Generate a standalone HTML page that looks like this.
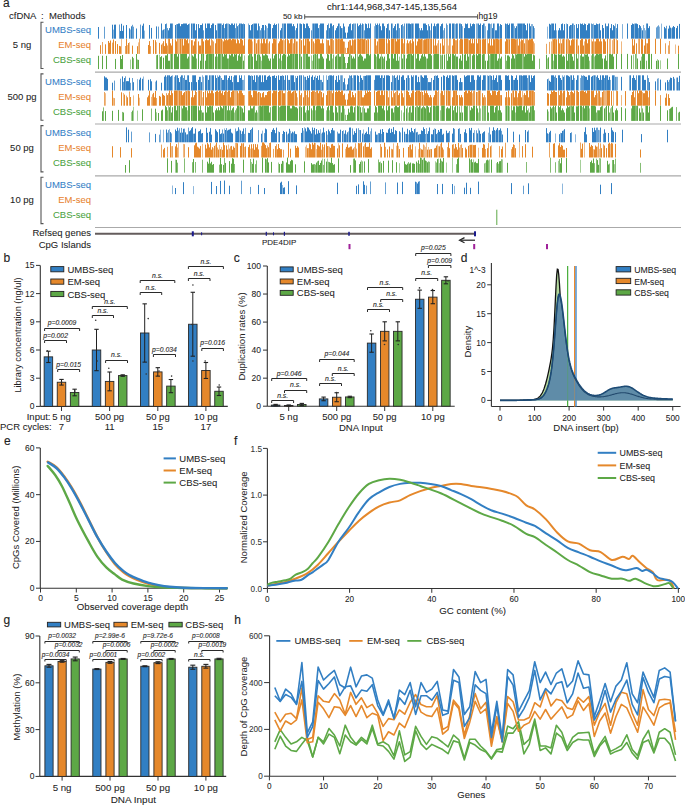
<!DOCTYPE html>
<html><head><meta charset="utf-8"><style>
html,body{margin:0;padding:0;background:#fff;}
body{width:685px;height:805px;overflow:hidden;}
svg{display:block;font-family:"Liberation Sans",sans-serif;}
</style></head><body>
<svg width="685" height="805" viewBox="0 0 685 805">
<rect width="685" height="805" fill="#fff"/>
<text x="3.10" y="6.90" font-size="12" text-anchor="start" fill="#222" stroke="#222" stroke-width="0.12">a</text>
<text x="9.00" y="19.30" font-size="9.5" text-anchor="start" fill="#222"  stroke="#222" stroke-width="0.06">cfDNA</text>
<text x="42.30" y="19.30" font-size="9.5" text-anchor="middle" fill="#222"  stroke="#222" stroke-width="0.06">:</text>
<text x="49.00" y="19.30" font-size="9.5" text-anchor="start" fill="#222"  stroke="#222" stroke-width="0.06">Methods</text>
<text x="392.00" y="10.40" font-size="9.5" text-anchor="middle" fill="#222"  stroke="#222" stroke-width="0.06">chr1:144,968,347-145,135,564</text>
<text x="302.50" y="18.80" font-size="8" text-anchor="end" fill="#222"  stroke="#222" stroke-width="0.06">50 kb</text>
<line x1="304.70" y1="16.80" x2="477.60" y2="16.80" stroke="#555" stroke-width="1.2" />
<line x1="304.70" y1="14.30" x2="304.70" y2="19.30" stroke="#555" stroke-width="1" />
<line x1="477.60" y1="14.30" x2="477.60" y2="19.30" stroke="#555" stroke-width="1" />
<text x="478.50" y="18.80" font-size="8.5" text-anchor="start" fill="#222"  stroke="#222" stroke-width="0.06">hg19</text>
<text x="22.00" y="47.90" font-size="9.5" text-anchor="middle" fill="#222"  stroke="#222" stroke-width="0.06">5 ng</text>
<path d="M43.5,22.20 H41 V68.50 H43.5" stroke="#555" stroke-width="1.1" fill="none" />
<text x="91.00" y="32.80" font-size="9.5" text-anchor="end" fill="#3480c6"  stroke="#3480c6" stroke-width="0.06">UMBS-seq</text>
<text x="91.00" y="47.90" font-size="9.5" text-anchor="end" fill="#e8832f"  stroke="#e8832f" stroke-width="0.06">EM-seq</text>
<text x="91.00" y="63.00" font-size="9.5" text-anchor="end" fill="#4aa23e"  stroke="#4aa23e" stroke-width="0.06">CBS-seq</text>
<line x1="95.00" y1="72.20" x2="681.00" y2="72.20" stroke="#aaa" stroke-width="1.2" />
<text x="22.00" y="99.60" font-size="9.5" text-anchor="middle" fill="#222"  stroke="#222" stroke-width="0.06">500 pg</text>
<path d="M43.5,73.90 H41 V120.20 H43.5" stroke="#555" stroke-width="1.1" fill="none" />
<text x="91.00" y="84.50" font-size="9.5" text-anchor="end" fill="#3480c6"  stroke="#3480c6" stroke-width="0.06">UMBS-seq</text>
<text x="91.00" y="99.60" font-size="9.5" text-anchor="end" fill="#e8832f"  stroke="#e8832f" stroke-width="0.06">EM-seq</text>
<text x="91.00" y="114.70" font-size="9.5" text-anchor="end" fill="#4aa23e"  stroke="#4aa23e" stroke-width="0.06">CBS-seq</text>
<line x1="95.00" y1="124.00" x2="681.00" y2="124.00" stroke="#aaa" stroke-width="1.2" />
<text x="22.00" y="151.30" font-size="9.5" text-anchor="middle" fill="#222"  stroke="#222" stroke-width="0.06">50 pg</text>
<path d="M43.5,125.60 H41 V171.90 H43.5" stroke="#555" stroke-width="1.1" fill="none" />
<text x="91.00" y="136.20" font-size="9.5" text-anchor="end" fill="#3480c6"  stroke="#3480c6" stroke-width="0.06">UMBS-seq</text>
<text x="91.00" y="151.30" font-size="9.5" text-anchor="end" fill="#e8832f"  stroke="#e8832f" stroke-width="0.06">EM-seq</text>
<text x="91.00" y="166.40" font-size="9.5" text-anchor="end" fill="#4aa23e"  stroke="#4aa23e" stroke-width="0.06">CBS-seq</text>
<line x1="95.00" y1="175.80" x2="681.00" y2="175.80" stroke="#aaa" stroke-width="1.2" />
<text x="22.00" y="203.00" font-size="9.5" text-anchor="middle" fill="#222"  stroke="#222" stroke-width="0.06">10 pg</text>
<path d="M43.5,177.30 H41 V223.60 H43.5" stroke="#555" stroke-width="1.1" fill="none" />
<text x="91.00" y="187.90" font-size="9.5" text-anchor="end" fill="#3480c6"  stroke="#3480c6" stroke-width="0.06">UMBS-seq</text>
<text x="91.00" y="203.00" font-size="9.5" text-anchor="end" fill="#e8832f"  stroke="#e8832f" stroke-width="0.06">EM-seq</text>
<text x="91.00" y="218.10" font-size="9.5" text-anchor="end" fill="#4aa23e"  stroke="#4aa23e" stroke-width="0.06">CBS-seq</text>
<line x1="95.00" y1="227.50" x2="681.00" y2="227.50" stroke="#aaa" stroke-width="1.1" />
<path d="M98.5 38.7V27.0M112.5 38.7V24.7M114.5 38.7V24.7M115.5 38.7V24.6M120.5 38.7V31.0M121.5 38.7V23.8M122.5 38.7V30.9M123.5 38.7V25.6M126.5 38.7V25.0M129.5 38.7V28.3M131.5 38.7V26.3M136.5 38.7V28.5M142.5 38.7V25.7M143.5 38.7V23.6M149.5 38.7V25.0M151.5 38.7V27.9M156.5 38.7V26.4M161.5 38.7V23.5M163.5 38.7V29.6M165.5 38.7V24.1M168.5 38.7V30.3M169.5 38.7V28.1M170.5 38.7V23.5M171.5 38.7V23.5M175.5 38.7V25.0M177.5 38.7V24.1M178.5 38.7V23.5M179.5 38.7V23.5M180.5 38.7V26.2M181.5 38.7V24.1M182.5 38.7V24.1M183.5 38.7V23.5M184.5 38.7V23.5M185.5 38.7V23.5M186.5 38.7V23.5M187.5 38.7V25.0M188.5 38.7V24.1M191.5 38.7V23.5M193.5 38.7V23.5M194.5 38.7V23.5M195.5 38.7V30.3M196.5 38.7V24.1M198.5 38.7V24.1M199.5 38.7V28.1M200.5 38.7V25.0M201.5 38.7V25.0M202.5 38.7V23.5M205.5 38.7V23.5M206.5 38.7V28.1M207.5 38.7V23.5M208.5 38.7V23.5M209.5 38.7V23.5M210.5 38.7V28.1M211.5 38.7V25.0M212.5 38.7V23.5M213.5 38.7V23.5M215.5 38.7V25.0M216.5 38.7V30.3M218.5 38.7V23.5M219.5 38.7V23.5M220.5 38.7V23.5M222.5 38.7V25.0M223.5 38.7V23.5M225.5 38.7V24.1M226.5 38.7V23.5M229.5 38.7V24.1M230.5 38.7V25.0M231.5 38.7V23.5M232.5 38.7V23.5M233.5 38.7V25.0M234.5 38.7V23.5M237.5 38.7V26.2M239.5 38.7V23.5M241.5 38.7V23.5M242.5 38.7V24.1M244.5 38.7V24.1M249.5 38.7V25.0M250.5 38.7V30.3M251.5 38.7V25.0M252.5 38.7V24.1M254.5 38.7V23.5M255.5 38.7V23.5M256.5 38.7V23.5M257.5 38.7V30.3M258.5 38.7V23.5M262.5 38.7V25.0M263.5 38.7V25.0M265.5 38.7V25.0M268.5 38.7V23.5M269.5 38.7V23.5M270.5 38.7V24.1M272.5 38.7V28.1M273.5 38.7V25.0M274.5 38.7V23.5M275.5 38.7V25.0M276.5 38.7V24.1M280.5 38.7V30.3M281.5 38.7V28.1M284.5 38.7V23.5M285.5 38.7V23.5M287.5 38.7V23.5M288.5 38.7V23.5M289.5 38.7V23.5M290.5 38.7V23.5M291.5 38.7V23.5M292.5 38.7V26.2M293.5 38.7V24.1M294.5 38.7V26.2M296.5 38.7V28.1M297.5 38.7V23.5M300.5 38.7V23.5M301.5 38.7V24.1M303.5 38.7V23.5M304.5 38.7V24.1M305.5 38.7V28.1M306.5 38.7V23.5M307.5 38.7V23.5M308.5 38.7V26.2M309.5 38.7V28.1M313.5 38.7V23.5M315.5 38.7V23.5M316.5 38.7V23.5M317.5 38.7V23.5M318.5 38.7V28.1M320.5 38.7V23.5M321.5 38.7V23.5M322.5 38.7V23.5M323.5 38.7V23.5M327.5 38.7V25.0M329.5 38.7V28.1M330.5 38.7V23.5M331.5 38.7V23.5M333.5 38.7V25.0M335.5 38.7V30.3M336.5 38.7V28.1M337.5 38.7V26.2M338.5 38.7V23.5M340.5 38.7V26.2M341.5 38.7V28.1M343.5 38.7V23.5M344.5 38.7V26.5M345.5 38.7V32.6M347.5 38.7V32.6M348.5 38.7V26.5M349.5 38.7V24.1M350.5 38.7V23.5M351.5 38.7V30.3M352.5 38.7V24.1M357.5 38.7V23.5M358.5 38.7V26.2M359.5 38.7V25.0M360.5 38.7V23.5M362.5 38.7V23.5M365.5 38.7V23.5M366.5 38.7V24.1M367.5 38.7V28.1M368.5 38.7V23.5M369.5 38.7V28.1M370.5 38.7V23.5M376.5 38.7V25.0M377.5 38.7V23.5M379.5 38.7V23.5M380.5 38.7V26.2M381.5 38.7V30.3M382.5 38.7V23.5M383.5 38.7V23.5M384.5 38.7V26.2M386.5 38.7V28.1M387.5 38.7V24.1M389.5 38.7V30.3M391.5 38.7V23.5M393.5 38.7V28.1M394.5 38.7V26.2M395.5 38.7V24.1M397.5 38.7V23.5M401.5 38.7V25.0M406.5 38.7V23.5M408.5 38.7V23.5M409.5 38.7V23.5M410.5 38.7V24.1M412.5 38.7V23.5M415.5 38.7V23.5M416.5 38.7V23.5M417.5 38.7V23.5M418.5 38.7V23.5M420.5 38.7V30.3M421.5 38.7V28.1M422.5 38.7V30.3M423.5 38.7V23.5M424.5 38.7V23.5M425.5 38.7V23.5M426.5 38.7V25.0M427.5 38.7V30.3M429.5 38.7V26.2M431.5 38.7V23.5M433.5 38.7V26.2M434.5 38.7V23.5M435.5 38.7V26.2M437.5 38.7V23.5M438.5 38.7V23.5M440.5 38.7V26.2M441.5 38.7V24.1M442.5 38.7V23.5M449.5 38.7V23.5M450.5 38.7V23.5M452.5 38.7V23.5M453.5 38.7V23.5M456.5 38.7V23.5M459.5 38.7V23.5M461.5 38.7V24.1M464.5 38.7V28.1M465.5 38.7V23.5M466.5 38.7V24.1M467.5 38.7V23.5M468.5 38.7V28.1M469.5 38.7V28.1M470.5 38.7V23.5M471.5 38.7V26.2M472.5 38.7V24.1M473.5 38.7V23.5M474.5 38.7V24.1M478.5 38.7V23.5M479.5 38.7V25.0M480.5 38.7V23.5M482.5 38.7V25.0M483.5 38.7V23.5M488.5 38.7V23.5M489.5 38.7V23.5M492.5 38.7V28.1M493.5 38.7V23.5M495.5 38.7V30.3M496.5 38.7V30.3M497.5 38.7V23.5M498.5 38.7V23.5M500.5 38.7V24.1M501.5 38.7V25.0M505.5 38.7V23.5M507.5 38.7V23.5M508.5 38.7V25.0M509.5 38.7V23.5M511.5 38.7V23.5M512.5 38.7V23.5M515.5 38.7V28.1M516.5 38.7V26.2M518.5 38.7V23.5M519.5 38.7V23.5M520.5 38.7V23.5M521.5 38.7V23.5M523.5 38.7V23.5M524.5 38.7V23.5M525.5 38.7V25.0M526.5 38.7V30.3M527.5 38.7V23.5M529.5 38.7V23.5M530.5 38.7V26.2M533.5 38.7V26.2M549.5 38.7V23.8M550.5 38.7V24.7M552.5 38.7V23.5M553.5 38.7V23.5M554.5 38.7V30.3M555.5 38.7V23.5M558.5 38.7V30.3M559.5 38.7V28.1M560.5 38.7V30.3M561.5 38.7V24.1M562.5 38.7V23.5M563.5 38.7V30.3M564.5 38.7V24.1M567.5 38.7V24.1M569.5 38.7V26.2M570.5 38.7V25.0M572.5 38.7V23.5M576.5 38.7V24.1M577.5 38.7V28.1M578.5 38.7V24.1M580.5 38.7V23.5M581.5 38.7V24.1M582.5 38.7V23.5M583.5 38.7V25.0M584.5 38.7V23.5M585.5 38.7V24.1M586.5 38.7V30.3M587.5 38.7V25.0M588.5 38.7V23.5M589.5 38.7V23.5M594.5 38.7V25.0M595.5 38.7V25.0M596.5 38.7V23.5M597.5 38.7V24.1M599.5 38.7V23.5M600.5 38.7V30.3M602.5 38.7V25.0M603.5 38.7V28.1M605.5 38.7V23.5M607.5 38.7V26.2M608.5 38.7V23.5M610.5 38.7V28.1M611.5 38.7V24.1M612.5 38.7V30.3M613.5 38.7V25.0M614.5 38.7V26.2M617.5 38.7V24.1M627.5 38.7V23.5M631.5 38.7V25.0M632.5 38.7V23.5M633.5 38.7V24.1M635.5 38.7V23.5M636.5 38.7V23.5M637.5 38.7V24.1M639.5 38.7V25.0M640.5 38.7V26.2M642.5 38.7V30.3M647.5 38.7V23.5M648.5 38.7V28.1M649.5 38.7V26.2M664.5 38.7V26.9M665.5 38.7V28.3M668.5 38.7V28.6M669.5 38.7V25.6M670.5 38.7V27.6M672.5 38.7V27.4M673.5 38.7V26.0M674.5 38.7V27.0M676.5 38.7V28.1M677.5 38.7V25.9M679.5 38.7V23.9" stroke="#327fc3" stroke-width="1" opacity="1"/><path d="M104.5 38.7V26.7M119.5 38.7V24.5M132.5 38.7V24.8M133.5 38.7V26.7M140.5 38.7V24.6M158.5 38.7V26.6M162.5 38.7V30.3M346.5 38.7V37.9M656.5 38.7V27.4M657.5 38.7V26.3M658.5 38.7V25.3M666.5 38.7V25.8" stroke="#327fc3" stroke-width="1" opacity="0.75"/><path d="M113.5 38.7V29.6M130.5 38.7V29.5M144.5 38.7V30.6M164.5 38.7V29.1M547.5 38.7V26.6M659.5 38.7V26.7M661.5 38.7V23.6M671.5 38.7V28.3" stroke="#327fc3" stroke-width="1" opacity="0.55"/><path d="M166.5 38.7V23.5M167.5 38.7V28.1M172.5 38.7V23.5M203.5 38.7V30.3M224.5 38.7V28.1M235.5 38.7V28.1M236.5 38.7V23.5M240.5 38.7V23.5M243.5 38.7V23.5M259.5 38.7V26.2M260.5 38.7V30.3M261.5 38.7V28.1M278.5 38.7V23.5M282.5 38.7V23.5M311.5 38.7V30.3M314.5 38.7V23.5M326.5 38.7V30.3M328.5 38.7V23.5M332.5 38.7V26.2M353.5 38.7V23.5M355.5 38.7V23.5M364.5 38.7V30.3M375.5 38.7V23.5M388.5 38.7V23.5M396.5 38.7V30.3M398.5 38.7V23.5M399.5 38.7V28.1M402.5 38.7V24.1M404.5 38.7V23.5M411.5 38.7V23.5M419.5 38.7V28.1M428.5 38.7V24.1M436.5 38.7V24.1M444.5 38.7V28.1M446.5 38.7V23.5M457.5 38.7V23.5M460.5 38.7V23.5M487.5 38.7V30.3M506.5 38.7V24.1M513.5 38.7V23.5M522.5 38.7V23.5M551.5 38.7V23.5M571.5 38.7V25.0M574.5 38.7V25.0M591.5 38.7V23.5M592.5 38.7V24.1M606.5 38.7V26.2M616.5 38.7V28.1M638.5 38.7V28.1M646.5 38.7V23.5" stroke="#327fc3" stroke-width="1" opacity="0.8"/><path d="M176.5 38.7V24.1M189.5 38.7V23.5M192.5 38.7V23.5M217.5 38.7V23.5M221.5 38.7V23.5M227.5 38.7V23.5M228.5 38.7V23.5M238.5 38.7V25.0M248.5 38.7V23.5M253.5 38.7V23.5M264.5 38.7V30.3M266.5 38.7V26.2M267.5 38.7V28.1M283.5 38.7V23.5M295.5 38.7V30.3M299.5 38.7V23.5M312.5 38.7V23.5M319.5 38.7V25.0M339.5 38.7V23.5M342.5 38.7V28.1M354.5 38.7V23.5M361.5 38.7V25.0M363.5 38.7V24.1M374.5 38.7V26.2M378.5 38.7V25.0M392.5 38.7V23.5M403.5 38.7V26.2M407.5 38.7V23.5M413.5 38.7V23.5M430.5 38.7V30.3M443.5 38.7V30.3M447.5 38.7V25.0M454.5 38.7V23.5M455.5 38.7V24.1M462.5 38.7V26.2M476.5 38.7V23.5M477.5 38.7V23.5M484.5 38.7V23.5M485.5 38.7V26.2M490.5 38.7V24.1M491.5 38.7V23.5M494.5 38.7V23.5M499.5 38.7V26.2M514.5 38.7V26.2M517.5 38.7V23.5M531.5 38.7V24.1M532.5 38.7V24.1M534.5 38.7V28.1M556.5 38.7V30.3M566.5 38.7V23.5M573.5 38.7V23.5M593.5 38.7V23.5M598.5 38.7V24.1M615.5 38.7V23.5M622.5 38.7V24.1M634.5 38.7V23.5M641.5 38.7V28.1M643.5 38.7V25.0M644.5 38.7V28.1M645.5 38.7V30.3" stroke="#327fc3" stroke-width="1" opacity="0.6"/>
<path d="M100.5 53.9V45.2M105.5 53.9V44.3M108.5 53.9V41.0M109.5 53.9V42.8M110.5 53.9V40.5M113.5 53.9V39.5M115.5 53.9V41.1M117.5 53.9V44.1M119.5 53.9V45.9M120.5 53.9V46.3M126.5 53.9V39.0M128.5 53.9V43.0M132.5 53.9V45.6M137.5 53.9V46.2M148.5 53.9V45.0M149.5 53.9V41.1M153.5 53.9V40.0M155.5 53.9V40.2M159.5 53.9V42.9M161.5 53.9V44.6M163.5 53.9V41.2M164.5 53.9V46.1M165.5 53.9V38.7M166.5 53.9V43.3M169.5 53.9V38.7M170.5 53.9V43.3M171.5 53.9V45.5M172.5 53.9V38.7M175.5 53.9V39.3M176.5 53.9V41.4M180.5 53.9V38.7M182.5 53.9V38.7M183.5 53.9V45.5M184.5 53.9V38.7M185.5 53.9V38.7M186.5 53.9V40.2M187.5 53.9V38.7M188.5 53.9V43.3M191.5 53.9V40.2M193.5 53.9V45.5M194.5 53.9V41.4M195.5 53.9V38.7M198.5 53.9V41.4M199.5 53.9V45.5M200.5 53.9V45.5M202.5 53.9V38.7M203.5 53.9V41.4M205.5 53.9V40.2M206.5 53.9V38.7M207.5 53.9V40.2M208.5 53.9V40.2M209.5 53.9V38.7M210.5 53.9V45.5M215.5 53.9V43.3M216.5 53.9V38.7M218.5 53.9V38.7M219.5 53.9V38.7M221.5 53.9V38.7M223.5 53.9V41.4M224.5 53.9V38.7M225.5 53.9V40.2M226.5 53.9V38.7M227.5 53.9V40.2M228.5 53.9V39.3M229.5 53.9V38.7M230.5 53.9V38.7M231.5 53.9V40.2M232.5 53.9V38.7M233.5 53.9V38.7M234.5 53.9V39.3M235.5 53.9V39.3M236.5 53.9V43.3M237.5 53.9V38.7M238.5 53.9V40.2M239.5 53.9V43.3M240.5 53.9V38.7M241.5 53.9V38.7M242.5 53.9V40.2M243.5 53.9V45.5M244.5 53.9V38.7M248.5 53.9V39.3M249.5 53.9V38.7M250.5 53.9V39.3M251.5 53.9V39.3M254.5 53.9V38.7M256.5 53.9V43.3M258.5 53.9V39.3M261.5 53.9V38.7M262.5 53.9V43.3M263.5 53.9V38.7M264.5 53.9V38.7M265.5 53.9V43.3M266.5 53.9V39.3M269.5 53.9V41.4M272.5 53.9V43.3M273.5 53.9V38.7M274.5 53.9V38.7M275.5 53.9V39.3M278.5 53.9V43.3M279.5 53.9V41.4M280.5 53.9V38.7M281.5 53.9V38.7M282.5 53.9V40.2M285.5 53.9V38.7M287.5 53.9V38.7M288.5 53.9V40.2M289.5 53.9V43.3M290.5 53.9V39.3M291.5 53.9V38.7M294.5 53.9V38.7M296.5 53.9V41.4M299.5 53.9V38.7M301.5 53.9V40.2M303.5 53.9V38.7M304.5 53.9V45.5M305.5 53.9V38.7M307.5 53.9V38.7M308.5 53.9V38.7M309.5 53.9V41.4M311.5 53.9V38.7M313.5 53.9V41.4M315.5 53.9V38.7M316.5 53.9V39.3M317.5 53.9V38.7M318.5 53.9V38.7M319.5 53.9V39.3M320.5 53.9V43.3M321.5 53.9V43.3M322.5 53.9V39.3M323.5 53.9V43.3M328.5 53.9V40.2M329.5 53.9V45.5M331.5 53.9V38.7M336.5 53.9V38.7M338.5 53.9V38.7M340.5 53.9V39.3M341.5 53.9V38.7M342.5 53.9V38.7M343.5 53.9V41.4M346.5 53.9V53.1M347.5 53.9V47.8M348.5 53.9V41.7M350.5 53.9V40.2M351.5 53.9V45.5M352.5 53.9V39.3M354.5 53.9V39.3M355.5 53.9V39.3M358.5 53.9V38.7M359.5 53.9V39.3M360.5 53.9V38.7M362.5 53.9V38.7M363.5 53.9V39.3M364.5 53.9V38.7M366.5 53.9V40.2M368.5 53.9V39.3M375.5 53.9V38.7M377.5 53.9V41.4M379.5 53.9V38.7M380.5 53.9V38.7M381.5 53.9V38.7M382.5 53.9V38.7M383.5 53.9V38.7M384.5 53.9V38.7M386.5 53.9V38.7M388.5 53.9V38.7M389.5 53.9V40.2M391.5 53.9V38.7M392.5 53.9V38.7M393.5 53.9V38.7M395.5 53.9V38.7M396.5 53.9V41.4M397.5 53.9V38.7M398.5 53.9V39.3M399.5 53.9V38.7M401.5 53.9V38.7M402.5 53.9V38.7M404.5 53.9V38.7M407.5 53.9V40.2M408.5 53.9V43.3M410.5 53.9V40.2M412.5 53.9V38.7M413.5 53.9V41.4M415.5 53.9V38.7M416.5 53.9V45.5M417.5 53.9V41.4M418.5 53.9V38.7M419.5 53.9V38.7M420.5 53.9V39.3M421.5 53.9V38.7M424.5 53.9V39.3M425.5 53.9V39.3M426.5 53.9V38.7M428.5 53.9V38.7M431.5 53.9V38.7M433.5 53.9V38.7M435.5 53.9V38.7M436.5 53.9V45.5M440.5 53.9V43.3M442.5 53.9V38.7M443.5 53.9V45.5M452.5 53.9V45.5M453.5 53.9V38.7M454.5 53.9V38.7M457.5 53.9V38.7M460.5 53.9V38.7M461.5 53.9V38.7M462.5 53.9V39.3M464.5 53.9V38.7M465.5 53.9V38.7M466.5 53.9V38.7M467.5 53.9V38.7M469.5 53.9V40.2M470.5 53.9V38.7M471.5 53.9V43.3M472.5 53.9V38.7M473.5 53.9V43.3M474.5 53.9V38.7M476.5 53.9V38.7M477.5 53.9V43.3M478.5 53.9V38.7M480.5 53.9V39.3M482.5 53.9V39.3M483.5 53.9V38.7M484.5 53.9V39.3M485.5 53.9V38.7M488.5 53.9V43.3M489.5 53.9V38.7M490.5 53.9V45.5M491.5 53.9V38.7M492.5 53.9V45.5M493.5 53.9V38.7M494.5 53.9V39.3M496.5 53.9V38.7M497.5 53.9V38.7M498.5 53.9V39.3M500.5 53.9V38.7M501.5 53.9V38.7M505.5 53.9V41.4M506.5 53.9V38.7M507.5 53.9V39.3M509.5 53.9V39.3M511.5 53.9V38.7M512.5 53.9V38.7M513.5 53.9V38.7M514.5 53.9V38.7M515.5 53.9V39.3M518.5 53.9V45.5M519.5 53.9V38.7M521.5 53.9V39.3M522.5 53.9V40.2M524.5 53.9V43.3M528.5 53.9V40.2M529.5 53.9V38.7M530.5 53.9V39.3M531.5 53.9V38.7M532.5 53.9V38.7M553.5 53.9V39.3M554.5 53.9V38.7M556.5 53.9V39.3M558.5 53.9V38.7M559.5 53.9V43.3M561.5 53.9V43.3M563.5 53.9V38.7M566.5 53.9V39.3M569.5 53.9V40.2M570.5 53.9V45.5M571.5 53.9V40.2M572.5 53.9V38.7M573.5 53.9V39.3M576.5 53.9V39.3M578.5 53.9V45.5M580.5 53.9V40.2M581.5 53.9V38.7M582.5 53.9V38.7M583.5 53.9V45.5M585.5 53.9V38.7M586.5 53.9V39.3M587.5 53.9V43.3M588.5 53.9V39.3M589.5 53.9V38.7M592.5 53.9V41.4M595.5 53.9V41.4M596.5 53.9V38.7M597.5 53.9V38.7M598.5 53.9V38.7M599.5 53.9V41.4M600.5 53.9V38.7M601.5 53.9V41.4M603.5 53.9V38.7M604.5 53.9V39.3M605.5 53.9V41.4M607.5 53.9V38.7M614.5 53.9V38.7M617.5 53.9V40.2M632.5 53.9V38.7M633.5 53.9V45.5M634.5 53.9V39.3M636.5 53.9V43.3M641.5 53.9V38.7M642.5 53.9V39.3M644.5 53.9V45.5M645.5 53.9V38.7M647.5 53.9V43.3M648.5 53.9V38.7M649.5 53.9V38.7M655.5 53.9V38.7M660.5 53.9V38.7M678.5 53.9V45.7" stroke="#e5882b" stroke-width="1" opacity="1"/><path d="M102.5 53.9V42.0M112.5 53.9V42.6M125.5 53.9V46.0M139.5 53.9V38.7M150.5 53.9V46.1M162.5 53.9V43.3M344.5 53.9V41.7M345.5 53.9V47.8M546.5 53.9V43.8M549.5 53.9V41.9M668.5 53.9V45.4M669.5 53.9V41.0" stroke="#e5882b" stroke-width="1" opacity="0.75"/><path d="M121.5 53.9V39.1M127.5 53.9V45.1M129.5 53.9V42.2M138.5 53.9V42.4M156.5 53.9V42.2M675.5 53.9V44.5" stroke="#e5882b" stroke-width="1" opacity="0.55"/><path d="M167.5 53.9V45.5M168.5 53.9V38.7M177.5 53.9V38.7M192.5 53.9V40.2M201.5 53.9V38.7M211.5 53.9V38.7M212.5 53.9V40.2M213.5 53.9V41.4M217.5 53.9V38.7M220.5 53.9V38.7M267.5 53.9V38.7M293.5 53.9V43.3M326.5 53.9V39.3M327.5 53.9V40.2M330.5 53.9V38.7M332.5 53.9V38.7M333.5 53.9V40.2M335.5 53.9V38.7M337.5 53.9V39.3M339.5 53.9V38.7M349.5 53.9V40.2M353.5 53.9V40.2M357.5 53.9V38.7M361.5 53.9V38.7M370.5 53.9V38.7M374.5 53.9V38.7M376.5 53.9V45.5M403.5 53.9V43.3M409.5 53.9V41.4M411.5 53.9V43.3M423.5 53.9V40.2M427.5 53.9V38.7M430.5 53.9V38.7M434.5 53.9V45.5M438.5 53.9V40.2M444.5 53.9V38.7M449.5 53.9V38.7M455.5 53.9V40.2M456.5 53.9V40.2M479.5 53.9V38.7M495.5 53.9V38.7M516.5 53.9V39.3M517.5 53.9V38.7M523.5 53.9V38.7M526.5 53.9V39.3M527.5 53.9V38.7M533.5 53.9V41.4M555.5 53.9V38.7M562.5 53.9V39.3M568.5 53.9V38.7M574.5 53.9V38.7M593.5 53.9V38.7M639.5 53.9V38.7M665.5 53.9V43.3" stroke="#e5882b" stroke-width="1" opacity="0.8"/><path d="M178.5 53.9V38.7M179.5 53.9V38.7M181.5 53.9V38.7M189.5 53.9V39.3M196.5 53.9V38.7M222.5 53.9V40.2M252.5 53.9V41.4M255.5 53.9V39.3M257.5 53.9V40.2M259.5 53.9V39.3M260.5 53.9V43.3M268.5 53.9V43.3M276.5 53.9V38.7M283.5 53.9V39.3M284.5 53.9V40.2M292.5 53.9V38.7M295.5 53.9V39.3M297.5 53.9V41.4M300.5 53.9V38.7M306.5 53.9V38.7M312.5 53.9V38.7M314.5 53.9V43.3M365.5 53.9V38.7M367.5 53.9V38.7M378.5 53.9V38.7M387.5 53.9V43.3M394.5 53.9V38.7M406.5 53.9V43.3M422.5 53.9V38.7M429.5 53.9V38.7M437.5 53.9V43.3M446.5 53.9V38.7M447.5 53.9V38.7M448.5 53.9V45.5M450.5 53.9V38.7M459.5 53.9V40.2M468.5 53.9V39.3M487.5 53.9V38.7M499.5 53.9V39.3M508.5 53.9V38.7M520.5 53.9V41.4M525.5 53.9V38.7M534.5 53.9V43.3M551.5 53.9V41.4M552.5 53.9V38.7M560.5 53.9V38.7M564.5 53.9V38.7M567.5 53.9V38.7M577.5 53.9V38.7M584.5 53.9V41.4M591.5 53.9V39.3M594.5 53.9V41.4M609.5 53.9V38.7M610.5 53.9V38.7M612.5 53.9V40.2M613.5 53.9V38.7M616.5 53.9V38.7M621.5 53.9V41.4M638.5 53.9V38.7M646.5 53.9V43.3" stroke="#e5882b" stroke-width="1" opacity="0.6"/>
<path d="M98.5 69.1V55.8M102.5 69.1V55.7M106.5 69.1V55.8M115.5 69.1V58.9M120.5 69.1V55.9M121.5 69.1V59.0M122.5 69.1V55.0M132.5 69.1V56.8M136.5 69.1V54.0M138.5 69.1V59.9M157.5 69.1V54.8M160.5 69.1V57.1M161.5 69.1V56.1M163.5 69.1V57.7M165.5 69.1V55.4M166.5 69.1V55.4M167.5 69.1V53.9M168.5 69.1V60.7M169.5 69.1V60.7M171.5 69.1V53.9M174.5 69.1V53.9M175.5 69.1V53.9M176.5 69.1V53.9M177.5 69.1V56.6M178.5 69.1V53.9M181.5 69.1V53.9M182.5 69.1V53.9M183.5 69.1V53.9M184.5 69.1V53.9M185.5 69.1V53.9M186.5 69.1V53.9M187.5 69.1V58.5M188.5 69.1V56.6M192.5 69.1V55.4M193.5 69.1V56.6M194.5 69.1V53.9M195.5 69.1V53.9M198.5 69.1V53.9M200.5 69.1V60.7M201.5 69.1V53.9M203.5 69.1V53.9M205.5 69.1V60.7M206.5 69.1V54.5M207.5 69.1V53.9M209.5 69.1V53.9M210.5 69.1V53.9M211.5 69.1V53.9M213.5 69.1V53.9M215.5 69.1V56.6M216.5 69.1V53.9M218.5 69.1V53.9M219.5 69.1V53.9M222.5 69.1V53.9M223.5 69.1V56.6M224.5 69.1V53.9M225.5 69.1V54.5M226.5 69.1V53.9M227.5 69.1V58.5M229.5 69.1V54.5M230.5 69.1V55.4M231.5 69.1V53.9M232.5 69.1V53.9M233.5 69.1V56.6M234.5 69.1V53.9M235.5 69.1V54.5M236.5 69.1V53.9M237.5 69.1V60.7M238.5 69.1V55.4M239.5 69.1V53.9M240.5 69.1V56.6M241.5 69.1V53.9M243.5 69.1V60.7M248.5 69.1V55.4M249.5 69.1V53.9M251.5 69.1V53.9M252.5 69.1V56.6M254.5 69.1V53.9M255.5 69.1V53.9M256.5 69.1V60.7M257.5 69.1V54.5M259.5 69.1V54.5M262.5 69.1V53.9M263.5 69.1V55.4M264.5 69.1V55.4M265.5 69.1V53.9M266.5 69.1V54.5M267.5 69.1V55.4M268.5 69.1V58.5M269.5 69.1V60.7M270.5 69.1V58.5M272.5 69.1V53.9M273.5 69.1V58.5M274.5 69.1V55.4M275.5 69.1V53.9M276.5 69.1V53.9M278.5 69.1V53.9M280.5 69.1V53.9M282.5 69.1V55.4M283.5 69.1V53.9M284.5 69.1V53.9M285.5 69.1V54.5M287.5 69.1V56.6M288.5 69.1V53.9M289.5 69.1V55.4M290.5 69.1V53.9M291.5 69.1V53.9M293.5 69.1V53.9M295.5 69.1V53.9M296.5 69.1V53.9M297.5 69.1V53.9M299.5 69.1V53.9M301.5 69.1V56.6M306.5 69.1V53.9M307.5 69.1V53.9M308.5 69.1V56.6M309.5 69.1V56.6M313.5 69.1V54.5M315.5 69.1V53.9M317.5 69.1V53.9M319.5 69.1V58.5M320.5 69.1V53.9M321.5 69.1V53.9M322.5 69.1V56.6M323.5 69.1V58.5M326.5 69.1V58.5M327.5 69.1V53.9M328.5 69.1V54.5M329.5 69.1V60.7M331.5 69.1V53.9M335.5 69.1V56.6M336.5 69.1V55.4M338.5 69.1V53.9M339.5 69.1V56.6M340.5 69.1V56.6M343.5 69.1V53.9M344.5 69.1V56.9M347.5 69.1V63.0M348.5 69.1V56.9M349.5 69.1V53.9M351.5 69.1V55.4M352.5 69.1V58.5M353.5 69.1V56.6M354.5 69.1V58.5M355.5 69.1V53.9M358.5 69.1V56.6M359.5 69.1V54.5M360.5 69.1V53.9M361.5 69.1V55.4M362.5 69.1V56.6M363.5 69.1V60.7M364.5 69.1V58.5M365.5 69.1V58.5M366.5 69.1V53.9M367.5 69.1V53.9M368.5 69.1V53.9M369.5 69.1V55.4M370.5 69.1V53.9M374.5 69.1V53.9M375.5 69.1V54.5M377.5 69.1V53.9M378.5 69.1V53.9M379.5 69.1V58.5M380.5 69.1V56.6M382.5 69.1V56.6M384.5 69.1V56.6M386.5 69.1V60.7M387.5 69.1V53.9M388.5 69.1V53.9M389.5 69.1V58.5M391.5 69.1V53.9M392.5 69.1V53.9M393.5 69.1V58.5M394.5 69.1V53.9M395.5 69.1V53.9M396.5 69.1V60.7M397.5 69.1V53.9M398.5 69.1V60.7M402.5 69.1V58.5M404.5 69.1V54.5M406.5 69.1V58.5M407.5 69.1V54.5M408.5 69.1V53.9M409.5 69.1V53.9M411.5 69.1V53.9M412.5 69.1V55.4M413.5 69.1V53.9M416.5 69.1V58.5M417.5 69.1V53.9M418.5 69.1V53.9M419.5 69.1V60.7M420.5 69.1V58.5M421.5 69.1V55.4M422.5 69.1V53.9M423.5 69.1V56.6M424.5 69.1V53.9M425.5 69.1V56.6M427.5 69.1V58.5M428.5 69.1V53.9M429.5 69.1V53.9M430.5 69.1V53.9M431.5 69.1V55.4M434.5 69.1V53.9M435.5 69.1V53.9M436.5 69.1V53.9M437.5 69.1V53.9M438.5 69.1V53.9M442.5 69.1V54.5M444.5 69.1V54.5M447.5 69.1V60.7M448.5 69.1V53.9M449.5 69.1V56.6M450.5 69.1V53.9M452.5 69.1V53.9M453.5 69.1V53.9M454.5 69.1V55.4M456.5 69.1V56.6M457.5 69.1V56.6M459.5 69.1V58.5M460.5 69.1V55.4M461.5 69.1V60.7M462.5 69.1V53.9M464.5 69.1V54.5M465.5 69.1V53.9M466.5 69.1V60.7M467.5 69.1V53.9M468.5 69.1V56.6M472.5 69.1V55.4M473.5 69.1V53.9M474.5 69.1V54.5M476.5 69.1V53.9M477.5 69.1V55.4M478.5 69.1V53.9M479.5 69.1V53.9M480.5 69.1V53.9M482.5 69.1V54.5M483.5 69.1V53.9M485.5 69.1V60.7M487.5 69.1V60.7M488.5 69.1V53.9M491.5 69.1V53.9M492.5 69.1V53.9M493.5 69.1V53.9M495.5 69.1V53.9M496.5 69.1V53.9M497.5 69.1V60.7M498.5 69.1V58.5M500.5 69.1V58.5M501.5 69.1V56.6M507.5 69.1V55.4M508.5 69.1V55.4M509.5 69.1V56.6M511.5 69.1V58.5M512.5 69.1V53.9M513.5 69.1V55.4M514.5 69.1V58.5M516.5 69.1V54.5M517.5 69.1V53.9M518.5 69.1V53.9M519.5 69.1V53.9M520.5 69.1V53.9M521.5 69.1V53.9M524.5 69.1V56.6M525.5 69.1V53.9M526.5 69.1V54.5M527.5 69.1V53.9M528.5 69.1V53.9M529.5 69.1V53.9M530.5 69.1V53.9M531.5 69.1V53.9M532.5 69.1V60.7M533.5 69.1V54.6M534.5 69.1V55.4M546.5 69.1V54.7M548.5 69.1V57.3M552.5 69.1V53.9M554.5 69.1V53.9M555.5 69.1V54.5M556.5 69.1V54.5M558.5 69.1V53.9M559.5 69.1V54.5M560.5 69.1V54.5M561.5 69.1V53.9M562.5 69.1V56.6M563.5 69.1V55.4M564.5 69.1V56.6M566.5 69.1V53.9M567.5 69.1V60.7M568.5 69.1V53.9M570.5 69.1V53.9M571.5 69.1V53.9M572.5 69.1V56.6M573.5 69.1V60.7M576.5 69.1V53.9M577.5 69.1V58.5M581.5 69.1V53.9M582.5 69.1V56.6M583.5 69.1V56.6M585.5 69.1V54.5M586.5 69.1V54.5M587.5 69.1V53.9M588.5 69.1V56.6M592.5 69.1V53.9M595.5 69.1V55.4M596.5 69.1V53.9M597.5 69.1V53.9M598.5 69.1V54.5M599.5 69.1V53.9M600.5 69.1V53.9M601.5 69.1V53.9M602.5 69.1V58.5M604.5 69.1V58.5M605.5 69.1V55.4M606.5 69.1V60.7M609.5 69.1V53.9M610.5 69.1V53.9M611.5 69.1V54.5M612.5 69.1V53.9M613.5 69.1V56.6M616.5 69.1V53.9M621.5 69.1V53.9M627.5 69.1V53.9M631.5 69.1V55.4M637.5 69.1V58.5M640.5 69.1V60.7M642.5 69.1V53.9M643.5 69.1V53.9M644.5 69.1V53.9M648.5 69.1V53.9M649.5 69.1V53.9M651.5 69.1V53.9M656.5 69.1V60.8M658.5 69.1V60.3M667.5 69.1V58.5M678.5 69.1V53.9" stroke="#5da846" stroke-width="1" opacity="1"/><path d="M130.5 69.1V59.5M159.5 69.1V54.5M547.5 69.1V58.5M657.5 69.1V59.1M660.5 69.1V60.4" stroke="#5da846" stroke-width="1" opacity="0.55"/><path d="M133.5 69.1V58.2M137.5 69.1V59.5M156.5 69.1V55.2M345.5 69.1V63.0M346.5 69.1V68.3M539.5 69.1V58.7" stroke="#5da846" stroke-width="1" opacity="0.75"/><path d="M170.5 69.1V53.9M189.5 69.1V53.9M191.5 69.1V53.9M202.5 69.1V53.9M217.5 69.1V56.6M221.5 69.1V53.9M242.5 69.1V53.9M244.5 69.1V55.4M261.5 69.1V60.7M281.5 69.1V60.7M294.5 69.1V53.9M300.5 69.1V53.9M305.5 69.1V53.9M311.5 69.1V55.4M312.5 69.1V60.7M314.5 69.1V53.9M316.5 69.1V54.5M332.5 69.1V58.5M337.5 69.1V53.9M350.5 69.1V53.9M357.5 69.1V53.9M376.5 69.1V56.6M381.5 69.1V53.9M399.5 69.1V56.6M403.5 69.1V53.9M426.5 69.1V58.5M433.5 69.1V54.5M441.5 69.1V55.4M469.5 69.1V53.9M489.5 69.1V55.4M522.5 69.1V53.9M553.5 69.1V60.7M578.5 69.1V53.9M589.5 69.1V60.7M591.5 69.1V55.4M594.5 69.1V56.6M633.5 69.1V54.5M636.5 69.1V53.9M641.5 69.1V56.6" stroke="#5da846" stroke-width="1" opacity="0.6"/><path d="M172.5 69.1V53.9M180.5 69.1V53.9M196.5 69.1V58.5M208.5 69.1V53.9M212.5 69.1V53.9M220.5 69.1V53.9M228.5 69.1V58.5M250.5 69.1V53.9M258.5 69.1V53.9M260.5 69.1V56.6M279.5 69.1V58.5M292.5 69.1V53.9M303.5 69.1V53.9M304.5 69.1V53.9M318.5 69.1V58.5M330.5 69.1V53.9M333.5 69.1V54.5M341.5 69.1V53.9M342.5 69.1V53.9M383.5 69.1V58.5M401.5 69.1V53.9M410.5 69.1V53.9M415.5 69.1V53.9M440.5 69.1V54.5M446.5 69.1V53.9M455.5 69.1V53.9M470.5 69.1V53.9M484.5 69.1V53.9M490.5 69.1V53.9M494.5 69.1V53.9M499.5 69.1V53.9M505.5 69.1V54.5M506.5 69.1V60.7M515.5 69.1V53.9M523.5 69.1V53.9M551.5 69.1V53.9M569.5 69.1V53.9M574.5 69.1V53.9M580.5 69.1V55.4M584.5 69.1V53.9M593.5 69.1V53.9M607.5 69.1V53.9M635.5 69.1V53.9M646.5 69.1V60.7" stroke="#5da846" stroke-width="1" opacity="0.8"/>
<path d="M104.5 90.5V76.3M105.5 90.5V77.5M106.5 90.5V77.6M107.5 90.5V78.9M112.5 90.5V82.7M122.5 90.5V76.4M124.5 90.5V78.0M126.5 90.5V81.2M127.5 90.5V81.1M128.5 90.5V81.2M129.5 90.5V77.8M133.5 90.5V82.2M139.5 90.5V79.6M140.5 90.5V77.7M142.5 90.5V78.8M148.5 90.5V79.8M150.5 90.5V79.2M151.5 90.5V81.3M156.5 90.5V80.5M161.5 90.5V82.7M164.5 90.5V76.7M165.5 90.5V75.3M167.5 90.5V75.3M169.5 90.5V75.3M170.5 90.5V76.8M171.5 90.5V75.9M175.5 90.5V75.3M177.5 90.5V75.3M178.5 90.5V78.0M179.5 90.5V82.1M181.5 90.5V75.3M185.5 90.5V79.9M186.5 90.5V79.9M188.5 90.5V75.3M189.5 90.5V82.1M191.5 90.5V82.1M193.5 90.5V75.3M194.5 90.5V75.3M195.5 90.5V75.3M196.5 90.5V82.1M198.5 90.5V79.9M199.5 90.5V76.8M201.5 90.5V82.1M205.5 90.5V75.3M206.5 90.5V75.3M208.5 90.5V79.9M209.5 90.5V75.3M212.5 90.5V75.3M213.5 90.5V75.3M215.5 90.5V75.3M216.5 90.5V78.0M218.5 90.5V76.8M219.5 90.5V75.3M222.5 90.5V79.9M223.5 90.5V79.9M224.5 90.5V75.3M226.5 90.5V75.3M228.5 90.5V78.0M229.5 90.5V75.9M230.5 90.5V79.9M231.5 90.5V75.9M232.5 90.5V82.1M234.5 90.5V75.3M235.5 90.5V75.3M236.5 90.5V75.3M237.5 90.5V82.1M238.5 90.5V82.1M239.5 90.5V75.3M240.5 90.5V78.0M241.5 90.5V75.3M248.5 90.5V75.3M249.5 90.5V75.3M250.5 90.5V75.9M252.5 90.5V75.9M253.5 90.5V79.9M254.5 90.5V75.3M255.5 90.5V82.1M256.5 90.5V75.3M259.5 90.5V75.3M260.5 90.5V75.3M261.5 90.5V82.1M262.5 90.5V75.3M263.5 90.5V82.1M264.5 90.5V75.3M265.5 90.5V75.3M266.5 90.5V79.9M267.5 90.5V76.8M268.5 90.5V75.9M269.5 90.5V75.3M270.5 90.5V76.8M272.5 90.5V75.9M273.5 90.5V75.9M274.5 90.5V75.3M275.5 90.5V78.0M276.5 90.5V75.9M278.5 90.5V75.3M279.5 90.5V79.9M280.5 90.5V75.9M281.5 90.5V75.9M283.5 90.5V75.9M285.5 90.5V75.3M287.5 90.5V75.3M289.5 90.5V79.9M291.5 90.5V75.3M292.5 90.5V75.3M293.5 90.5V75.3M294.5 90.5V82.1M296.5 90.5V78.0M297.5 90.5V75.9M299.5 90.5V75.3M301.5 90.5V75.3M305.5 90.5V76.8M307.5 90.5V75.9M308.5 90.5V78.0M309.5 90.5V75.3M311.5 90.5V76.8M312.5 90.5V75.3M313.5 90.5V79.9M314.5 90.5V76.8M316.5 90.5V78.0M317.5 90.5V75.9M318.5 90.5V79.9M319.5 90.5V75.3M322.5 90.5V82.1M327.5 90.5V79.9M330.5 90.5V75.3M331.5 90.5V75.3M333.5 90.5V75.3M335.5 90.5V79.9M336.5 90.5V75.9M337.5 90.5V82.1M338.5 90.5V75.3M339.5 90.5V79.9M343.5 90.5V82.1M344.5 90.5V78.3M346.5 90.5V89.7M347.5 90.5V84.4M348.5 90.5V78.3M351.5 90.5V75.3M354.5 90.5V75.3M355.5 90.5V75.3M357.5 90.5V75.3M358.5 90.5V75.9M360.5 90.5V75.3M361.5 90.5V78.0M362.5 90.5V79.9M365.5 90.5V75.9M366.5 90.5V75.3M368.5 90.5V75.3M369.5 90.5V75.3M370.5 90.5V75.3M375.5 90.5V75.3M376.5 90.5V75.3M377.5 90.5V75.3M378.5 90.5V75.3M379.5 90.5V75.3M380.5 90.5V78.0M381.5 90.5V75.3M383.5 90.5V78.0M384.5 90.5V75.3M386.5 90.5V75.3M387.5 90.5V75.3M388.5 90.5V75.3M389.5 90.5V75.9M391.5 90.5V82.1M394.5 90.5V75.3M395.5 90.5V78.0M397.5 90.5V75.3M398.5 90.5V79.9M399.5 90.5V75.3M401.5 90.5V76.8M402.5 90.5V75.3M403.5 90.5V75.3M404.5 90.5V79.9M406.5 90.5V78.0M408.5 90.5V75.3M411.5 90.5V75.3M412.5 90.5V76.8M415.5 90.5V75.3M416.5 90.5V75.3M417.5 90.5V82.1M418.5 90.5V76.8M419.5 90.5V82.1M421.5 90.5V75.3M422.5 90.5V76.8M423.5 90.5V78.0M424.5 90.5V75.3M425.5 90.5V75.3M426.5 90.5V75.3M428.5 90.5V82.1M429.5 90.5V82.1M430.5 90.5V82.1M433.5 90.5V79.9M434.5 90.5V75.9M436.5 90.5V75.9M437.5 90.5V75.3M438.5 90.5V78.0M441.5 90.5V76.8M443.5 90.5V75.3M444.5 90.5V75.9M446.5 90.5V76.8M447.5 90.5V75.3M448.5 90.5V78.0M449.5 90.5V75.3M452.5 90.5V75.3M453.5 90.5V75.9M455.5 90.5V75.3M456.5 90.5V75.3M457.5 90.5V79.9M459.5 90.5V82.1M460.5 90.5V78.0M461.5 90.5V82.1M464.5 90.5V75.3M465.5 90.5V76.8M466.5 90.5V75.9M467.5 90.5V75.3M468.5 90.5V75.3M469.5 90.5V75.3M470.5 90.5V82.1M471.5 90.5V75.3M472.5 90.5V75.3M473.5 90.5V75.3M474.5 90.5V79.9M477.5 90.5V75.3M478.5 90.5V75.3M479.5 90.5V76.8M480.5 90.5V75.3M482.5 90.5V79.9M483.5 90.5V75.3M484.5 90.5V75.3M488.5 90.5V75.9M491.5 90.5V75.9M493.5 90.5V75.3M494.5 90.5V79.9M495.5 90.5V78.0M496.5 90.5V75.3M497.5 90.5V82.1M499.5 90.5V75.3M500.5 90.5V75.3M501.5 90.5V79.9M505.5 90.5V75.3M506.5 90.5V75.3M507.5 90.5V75.9M508.5 90.5V75.3M509.5 90.5V79.9M511.5 90.5V75.3M512.5 90.5V75.9M514.5 90.5V79.9M515.5 90.5V78.0M516.5 90.5V75.3M517.5 90.5V79.9M519.5 90.5V75.3M521.5 90.5V75.3M523.5 90.5V75.3M524.5 90.5V75.3M525.5 90.5V75.3M526.5 90.5V75.3M529.5 90.5V75.3M530.5 90.5V82.1M531.5 90.5V75.3M532.5 90.5V78.0M533.5 90.5V75.9M534.5 90.5V75.3M547.5 90.5V79.2M549.5 90.5V80.8M550.5 90.5V81.9M551.5 90.5V75.3M552.5 90.5V75.3M553.5 90.5V75.3M556.5 90.5V78.0M558.5 90.5V75.3M559.5 90.5V75.3M560.5 90.5V78.0M561.5 90.5V79.9M563.5 90.5V76.8M566.5 90.5V75.3M567.5 90.5V75.3M568.5 90.5V75.9M569.5 90.5V76.8M571.5 90.5V75.3M572.5 90.5V79.9M573.5 90.5V75.3M576.5 90.5V79.9M577.5 90.5V75.3M584.5 90.5V75.9M585.5 90.5V76.8M586.5 90.5V76.8M587.5 90.5V79.9M588.5 90.5V75.3M589.5 90.5V75.3M591.5 90.5V76.8M592.5 90.5V75.9M594.5 90.5V75.3M597.5 90.5V75.3M598.5 90.5V78.0M599.5 90.5V79.9M600.5 90.5V75.3M602.5 90.5V75.3M603.5 90.5V75.3M605.5 90.5V75.3M607.5 90.5V75.3M608.5 90.5V79.9M609.5 90.5V76.8M612.5 90.5V75.3M613.5 90.5V75.3M621.5 90.5V76.8M630.5 90.5V75.3M632.5 90.5V78.0M633.5 90.5V75.3M634.5 90.5V78.0M635.5 90.5V79.9M638.5 90.5V75.3M639.5 90.5V75.3M642.5 90.5V75.3M643.5 90.5V75.3M644.5 90.5V79.9M645.5 90.5V79.9M649.5 90.5V82.1M655.5 90.5V81.4M660.5 90.5V79.6M665.5 90.5V82.4M667.5 90.5V80.1M670.5 90.5V77.6M671.5 90.5V78.0M673.5 90.5V76.9M677.5 90.5V77.5M679.5 90.5V75.8" stroke="#327fc3" stroke-width="1" opacity="1"/><path d="M114.5 90.5V80.6M120.5 90.5V78.7M123.5 90.5V81.8M125.5 90.5V76.3M130.5 90.5V82.8M132.5 90.5V78.0M657.5 90.5V78.7M668.5 90.5V81.9M669.5 90.5V79.7M674.5 90.5V78.7M678.5 90.5V82.0" stroke="#327fc3" stroke-width="1" opacity="0.75"/><path d="M137.5 90.5V79.1M143.5 90.5V76.5M155.5 90.5V81.7M345.5 90.5V84.4M548.5 90.5V78.5M658.5 90.5V78.1M676.5 90.5V77.6" stroke="#327fc3" stroke-width="1" opacity="0.55"/><path d="M166.5 90.5V76.8M172.5 90.5V75.3M174.5 90.5V76.8M176.5 90.5V75.3M202.5 90.5V75.3M203.5 90.5V76.8M207.5 90.5V75.3M210.5 90.5V75.3M211.5 90.5V75.3M217.5 90.5V75.3M220.5 90.5V75.9M227.5 90.5V79.9M233.5 90.5V76.8M243.5 90.5V79.9M244.5 90.5V75.3M251.5 90.5V75.3M290.5 90.5V75.3M295.5 90.5V75.9M300.5 90.5V75.3M304.5 90.5V76.8M315.5 90.5V75.3M323.5 90.5V75.3M326.5 90.5V75.3M340.5 90.5V75.3M342.5 90.5V75.3M352.5 90.5V78.0M353.5 90.5V75.3M359.5 90.5V82.1M363.5 90.5V75.9M382.5 90.5V75.3M393.5 90.5V75.9M396.5 90.5V76.8M407.5 90.5V75.3M409.5 90.5V78.0M420.5 90.5V75.3M435.5 90.5V75.3M454.5 90.5V75.3M462.5 90.5V82.1M476.5 90.5V79.9M487.5 90.5V75.3M489.5 90.5V75.3M528.5 90.5V75.3M562.5 90.5V75.3M564.5 90.5V75.3M570.5 90.5V75.3M574.5 90.5V78.0M578.5 90.5V75.3M580.5 90.5V78.0M593.5 90.5V75.3M595.5 90.5V75.3M610.5 90.5V79.9M614.5 90.5V75.3M616.5 90.5V76.8M617.5 90.5V76.8M629.5 90.5V75.3M640.5 90.5V75.3" stroke="#327fc3" stroke-width="1" opacity="0.6"/><path d="M168.5 90.5V75.3M180.5 90.5V76.8M182.5 90.5V75.3M183.5 90.5V78.0M184.5 90.5V75.3M187.5 90.5V75.3M192.5 90.5V75.3M200.5 90.5V76.8M221.5 90.5V78.0M225.5 90.5V75.3M242.5 90.5V79.9M257.5 90.5V75.3M258.5 90.5V76.8M282.5 90.5V75.3M284.5 90.5V79.9M288.5 90.5V79.9M303.5 90.5V75.3M306.5 90.5V79.9M320.5 90.5V79.9M321.5 90.5V79.9M328.5 90.5V75.9M329.5 90.5V75.3M332.5 90.5V75.9M341.5 90.5V75.3M349.5 90.5V75.3M350.5 90.5V75.9M364.5 90.5V75.9M367.5 90.5V75.3M374.5 90.5V79.9M392.5 90.5V75.3M413.5 90.5V75.3M427.5 90.5V78.0M431.5 90.5V78.0M450.5 90.5V75.3M485.5 90.5V75.3M490.5 90.5V75.3M492.5 90.5V79.9M498.5 90.5V75.3M513.5 90.5V79.9M520.5 90.5V75.3M522.5 90.5V75.9M527.5 90.5V78.0M554.5 90.5V76.8M555.5 90.5V75.3M581.5 90.5V75.3M582.5 90.5V75.9M583.5 90.5V75.3M596.5 90.5V76.8M601.5 90.5V79.9M604.5 90.5V78.0M606.5 90.5V75.3M615.5 90.5V76.8M636.5 90.5V75.3M647.5 90.5V75.3M648.5 90.5V78.0" stroke="#327fc3" stroke-width="1" opacity="0.8"/>
<path d="M104.5 105.7V92.0M114.5 105.7V98.1M126.5 105.7V95.6M129.5 105.7V91.5M152.5 105.7V94.3M156.5 105.7V98.0M346.5 105.7V104.9" stroke="#e5882b" stroke-width="1" opacity="0.75"/><path d="M105.5 105.7V93.2M113.5 105.7V97.8M123.5 105.7V93.0M133.5 105.7V95.4M139.5 105.7V97.7M151.5 105.7V96.9" stroke="#e5882b" stroke-width="1" opacity="0.55"/><path d="M112.5 105.7V90.6M121.5 105.7V92.3M124.5 105.7V94.6M127.5 105.7V97.3M130.5 105.7V97.0M138.5 105.7V94.0M147.5 105.7V97.3M148.5 105.7V95.5M149.5 105.7V90.7M153.5 105.7V92.9M154.5 105.7V97.3M155.5 105.7V91.0M159.5 105.7V95.9M160.5 105.7V96.7M162.5 105.7V93.4M163.5 105.7V95.0M164.5 105.7V95.8M167.5 105.7V95.1M169.5 105.7V90.5M170.5 105.7V95.1M171.5 105.7V90.5M172.5 105.7V93.2M174.5 105.7V90.5M175.5 105.7V90.5M176.5 105.7V90.5M179.5 105.7V90.5M181.5 105.7V91.1M182.5 105.7V95.1M183.5 105.7V93.2M184.5 105.7V92.0M186.5 105.7V91.1M188.5 105.7V90.5M189.5 105.7V91.1M191.5 105.7V97.3M192.5 105.7V90.5M193.5 105.7V97.3M194.5 105.7V95.1M195.5 105.7V90.5M199.5 105.7V90.5M203.5 105.7V92.0M205.5 105.7V90.5M206.5 105.7V97.3M207.5 105.7V91.1M208.5 105.7V93.2M209.5 105.7V90.5M210.5 105.7V93.2M211.5 105.7V90.5M212.5 105.7V90.5M213.5 105.7V93.2M215.5 105.7V92.0M216.5 105.7V91.1M217.5 105.7V90.5M219.5 105.7V90.5M220.5 105.7V90.5M221.5 105.7V93.2M222.5 105.7V91.1M223.5 105.7V95.1M224.5 105.7V92.0M225.5 105.7V90.5M228.5 105.7V90.5M229.5 105.7V90.5M230.5 105.7V97.3M231.5 105.7V92.0M232.5 105.7V90.5M233.5 105.7V90.5M237.5 105.7V91.1M239.5 105.7V90.5M240.5 105.7V90.5M241.5 105.7V90.5M242.5 105.7V93.2M243.5 105.7V95.1M249.5 105.7V91.1M250.5 105.7V90.5M251.5 105.7V95.1M252.5 105.7V97.3M253.5 105.7V90.5M254.5 105.7V90.5M255.5 105.7V91.1M256.5 105.7V91.1M258.5 105.7V92.0M260.5 105.7V93.2M261.5 105.7V97.3M262.5 105.7V93.2M263.5 105.7V92.0M264.5 105.7V97.3M265.5 105.7V95.1M266.5 105.7V95.1M267.5 105.7V92.0M268.5 105.7V91.1M269.5 105.7V91.1M270.5 105.7V90.5M272.5 105.7V93.2M273.5 105.7V90.5M274.5 105.7V90.5M275.5 105.7V91.1M276.5 105.7V90.5M278.5 105.7V92.0M279.5 105.7V90.5M280.5 105.7V90.5M282.5 105.7V90.5M283.5 105.7V93.2M284.5 105.7V93.2M288.5 105.7V90.5M289.5 105.7V91.1M290.5 105.7V90.5M291.5 105.7V93.2M292.5 105.7V92.0M293.5 105.7V91.1M295.5 105.7V90.5M296.5 105.7V93.2M299.5 105.7V90.5M301.5 105.7V93.2M303.5 105.7V97.3M305.5 105.7V90.5M307.5 105.7V90.5M309.5 105.7V90.5M311.5 105.7V92.0M312.5 105.7V90.5M313.5 105.7V91.1M317.5 105.7V90.5M318.5 105.7V93.2M319.5 105.7V91.1M321.5 105.7V92.0M322.5 105.7V97.3M323.5 105.7V93.2M326.5 105.7V95.1M327.5 105.7V91.1M329.5 105.7V90.5M332.5 105.7V93.2M333.5 105.7V90.5M335.5 105.7V92.0M336.5 105.7V90.5M337.5 105.7V92.0M338.5 105.7V90.5M339.5 105.7V90.5M340.5 105.7V92.0M341.5 105.7V90.5M342.5 105.7V90.5M343.5 105.7V95.1M344.5 105.7V93.5M345.5 105.7V99.6M347.5 105.7V99.6M348.5 105.7V93.5M349.5 105.7V90.5M350.5 105.7V90.5M351.5 105.7V97.3M352.5 105.7V92.0M353.5 105.7V95.1M354.5 105.7V97.3M355.5 105.7V93.2M358.5 105.7V90.5M361.5 105.7V90.5M362.5 105.7V97.3M363.5 105.7V97.3M364.5 105.7V95.1M365.5 105.7V90.5M366.5 105.7V93.2M367.5 105.7V90.5M368.5 105.7V92.0M369.5 105.7V90.5M370.5 105.7V92.0M374.5 105.7V90.5M376.5 105.7V92.0M377.5 105.7V91.1M378.5 105.7V90.5M379.5 105.7V90.5M380.5 105.7V95.1M381.5 105.7V90.5M382.5 105.7V90.5M383.5 105.7V95.1M384.5 105.7V90.5M386.5 105.7V90.5M388.5 105.7V97.3M391.5 105.7V91.1M392.5 105.7V97.3M394.5 105.7V93.2M397.5 105.7V90.5M398.5 105.7V95.1M399.5 105.7V93.2M401.5 105.7V90.5M402.5 105.7V93.2M403.5 105.7V97.3M406.5 105.7V90.5M407.5 105.7V90.5M408.5 105.7V92.0M409.5 105.7V95.1M410.5 105.7V97.3M411.5 105.7V93.2M412.5 105.7V90.5M413.5 105.7V90.5M415.5 105.7V92.0M416.5 105.7V90.5M418.5 105.7V90.5M419.5 105.7V90.5M420.5 105.7V92.0M422.5 105.7V92.0M424.5 105.7V90.5M425.5 105.7V93.2M426.5 105.7V90.5M427.5 105.7V93.2M428.5 105.7V95.1M429.5 105.7V97.3M430.5 105.7V95.1M431.5 105.7V97.3M433.5 105.7V97.3M434.5 105.7V95.1M435.5 105.7V90.5M436.5 105.7V90.5M441.5 105.7V90.5M442.5 105.7V91.1M443.5 105.7V95.1M446.5 105.7V90.5M448.5 105.7V90.5M449.5 105.7V91.1M452.5 105.7V97.3M453.5 105.7V90.5M454.5 105.7V90.5M456.5 105.7V90.5M457.5 105.7V95.1M459.5 105.7V95.1M460.5 105.7V97.3M461.5 105.7V95.1M462.5 105.7V97.3M464.5 105.7V92.0M465.5 105.7V90.5M466.5 105.7V90.5M467.5 105.7V93.2M468.5 105.7V90.5M469.5 105.7V90.5M470.5 105.7V92.0M471.5 105.7V90.5M476.5 105.7V92.0M479.5 105.7V90.5M482.5 105.7V93.2M483.5 105.7V97.3M487.5 105.7V90.5M488.5 105.7V90.5M489.5 105.7V90.5M490.5 105.7V93.2M491.5 105.7V95.1M492.5 105.7V90.5M493.5 105.7V91.1M494.5 105.7V90.5M495.5 105.7V91.1M496.5 105.7V95.1M497.5 105.7V92.0M498.5 105.7V90.5M499.5 105.7V90.5M501.5 105.7V95.1M505.5 105.7V97.3M506.5 105.7V92.0M508.5 105.7V90.5M509.5 105.7V97.3M511.5 105.7V93.2M513.5 105.7V90.5M514.5 105.7V97.3M515.5 105.7V90.5M516.5 105.7V91.1M518.5 105.7V93.2M519.5 105.7V90.5M520.5 105.7V90.5M521.5 105.7V97.3M524.5 105.7V93.2M525.5 105.7V95.1M526.5 105.7V90.5M527.5 105.7V90.5M528.5 105.7V97.3M529.5 105.7V90.5M530.5 105.7V90.5M532.5 105.7V90.5M547.5 105.7V93.0M548.5 105.7V93.7M550.5 105.7V94.1M551.5 105.7V90.5M552.5 105.7V92.0M553.5 105.7V90.5M554.5 105.7V90.5M555.5 105.7V92.0M556.5 105.7V92.0M559.5 105.7V95.1M560.5 105.7V90.5M561.5 105.7V90.5M563.5 105.7V91.1M564.5 105.7V90.5M566.5 105.7V97.3M567.5 105.7V90.5M568.5 105.7V92.0M569.5 105.7V95.1M571.5 105.7V90.5M572.5 105.7V92.0M573.5 105.7V93.2M574.5 105.7V90.5M577.5 105.7V90.5M578.5 105.7V92.0M580.5 105.7V91.1M581.5 105.7V90.5M582.5 105.7V90.5M583.5 105.7V90.5M584.5 105.7V92.0M585.5 105.7V91.1M586.5 105.7V93.2M587.5 105.7V90.5M588.5 105.7V90.5M589.5 105.7V90.5M591.5 105.7V90.5M592.5 105.7V91.1M593.5 105.7V90.5M594.5 105.7V97.3M595.5 105.7V95.1M596.5 105.7V90.5M599.5 105.7V91.1M602.5 105.7V92.0M607.5 105.7V90.5M608.5 105.7V90.5M609.5 105.7V90.5M611.5 105.7V91.1M617.5 105.7V91.1M625.5 105.7V91.1M631.5 105.7V95.1M632.5 105.7V92.0M633.5 105.7V90.5M634.5 105.7V97.3M637.5 105.7V90.5M638.5 105.7V93.2M639.5 105.7V90.5M640.5 105.7V90.5M641.5 105.7V90.5M643.5 105.7V93.2M644.5 105.7V93.2M645.5 105.7V90.5M646.5 105.7V90.5M647.5 105.7V91.1M649.5 105.7V90.5M655.5 105.7V90.5M665.5 105.7V97.7M666.5 105.7V93.5M668.5 105.7V94.2M669.5 105.7V98.0" stroke="#e5882b" stroke-width="1" opacity="1"/><path d="M166.5 105.7V93.2M168.5 105.7V93.2M177.5 105.7V90.5M180.5 105.7V91.1M196.5 105.7V92.0M198.5 105.7V90.5M201.5 105.7V90.5M218.5 105.7V92.0M226.5 105.7V90.5M227.5 105.7V92.0M238.5 105.7V93.2M248.5 105.7V91.1M300.5 105.7V95.1M304.5 105.7V90.5M308.5 105.7V97.3M314.5 105.7V90.5M315.5 105.7V92.0M316.5 105.7V90.5M320.5 105.7V90.5M328.5 105.7V90.5M330.5 105.7V91.1M331.5 105.7V90.5M359.5 105.7V91.1M360.5 105.7V90.5M387.5 105.7V91.1M393.5 105.7V90.5M395.5 105.7V92.0M417.5 105.7V90.5M438.5 105.7V90.5M444.5 105.7V90.5M455.5 105.7V90.5M473.5 105.7V91.1M474.5 105.7V90.5M478.5 105.7V90.5M484.5 105.7V95.1M485.5 105.7V97.3M500.5 105.7V95.1M517.5 105.7V97.3M531.5 105.7V90.5M533.5 105.7V90.5M534.5 105.7V92.0M558.5 105.7V90.5M570.5 105.7V92.0M576.5 105.7V90.5M598.5 105.7V90.5M600.5 105.7V97.3M603.5 105.7V90.5M616.5 105.7V90.5M635.5 105.7V90.5M648.5 105.7V97.3M660.5 105.7V95.1" stroke="#e5882b" stroke-width="1" opacity="0.8"/><path d="M178.5 105.7V90.5M185.5 105.7V90.5M187.5 105.7V90.5M200.5 105.7V90.5M202.5 105.7V97.3M234.5 105.7V90.5M235.5 105.7V90.5M236.5 105.7V90.5M244.5 105.7V95.1M257.5 105.7V93.2M259.5 105.7V92.0M281.5 105.7V90.5M285.5 105.7V90.5M287.5 105.7V92.0M294.5 105.7V90.5M297.5 105.7V97.3M306.5 105.7V95.1M357.5 105.7V91.1M389.5 105.7V90.5M396.5 105.7V90.5M404.5 105.7V90.5M421.5 105.7V90.5M423.5 105.7V95.1M437.5 105.7V92.0M440.5 105.7V93.2M447.5 105.7V90.5M450.5 105.7V90.5M472.5 105.7V93.2M477.5 105.7V92.0M480.5 105.7V90.5M507.5 105.7V97.3M512.5 105.7V90.5M522.5 105.7V91.1M523.5 105.7V95.1M562.5 105.7V93.2M597.5 105.7V93.2M601.5 105.7V97.3M604.5 105.7V90.5M605.5 105.7V91.1M606.5 105.7V90.5M613.5 105.7V91.1M621.5 105.7V95.1M642.5 105.7V92.0" stroke="#e5882b" stroke-width="1" opacity="0.6"/>
<path d="M102.5 120.9V111.3M105.5 120.9V111.1M112.5 120.9V110.8M118.5 120.9V109.9M123.5 120.9V112.5M132.5 120.9V110.6M142.5 120.9V109.3M155.5 120.9V108.7M158.5 120.9V113.0M161.5 120.9V110.5M162.5 120.9V109.6M165.5 120.9V105.7M166.5 120.9V107.2M169.5 120.9V107.2M171.5 120.9V112.5M172.5 120.9V107.2M174.5 120.9V105.7M175.5 120.9V105.7M176.5 120.9V110.3M177.5 120.9V105.7M179.5 120.9V105.7M182.5 120.9V108.4M183.5 120.9V105.7M184.5 120.9V105.7M185.5 120.9V107.2M186.5 120.9V107.2M188.5 120.9V105.7M189.5 120.9V105.7M191.5 120.9V105.7M193.5 120.9V105.7M194.5 120.9V105.7M195.5 120.9V105.7M196.5 120.9V105.7M198.5 120.9V106.3M199.5 120.9V110.3M200.5 120.9V105.7M202.5 120.9V112.5M205.5 120.9V105.7M206.5 120.9V112.5M207.5 120.9V106.3M208.5 120.9V107.2M209.5 120.9V105.7M210.5 120.9V105.7M212.5 120.9V105.7M213.5 120.9V112.5M215.5 120.9V110.3M216.5 120.9V108.4M217.5 120.9V110.3M218.5 120.9V107.2M219.5 120.9V110.3M220.5 120.9V105.7M221.5 120.9V107.2M222.5 120.9V108.4M223.5 120.9V105.7M225.5 120.9V105.7M227.5 120.9V110.3M228.5 120.9V105.7M229.5 120.9V110.3M231.5 120.9V110.3M232.5 120.9V108.4M233.5 120.9V107.2M237.5 120.9V105.7M238.5 120.9V105.7M240.5 120.9V106.3M242.5 120.9V108.4M243.5 120.9V112.5M244.5 120.9V105.7M248.5 120.9V110.3M249.5 120.9V110.3M250.5 120.9V105.7M251.5 120.9V108.4M252.5 120.9V108.4M253.5 120.9V106.3M255.5 120.9V112.5M256.5 120.9V110.3M260.5 120.9V105.7M261.5 120.9V106.3M262.5 120.9V105.7M264.5 120.9V105.7M265.5 120.9V105.7M266.5 120.9V105.7M267.5 120.9V105.7M268.5 120.9V105.7M269.5 120.9V112.5M272.5 120.9V106.3M273.5 120.9V105.7M274.5 120.9V105.7M275.5 120.9V105.7M278.5 120.9V105.7M280.5 120.9V106.3M281.5 120.9V105.7M282.5 120.9V105.7M283.5 120.9V105.7M284.5 120.9V105.7M285.5 120.9V105.7M287.5 120.9V105.7M288.5 120.9V105.7M289.5 120.9V105.7M290.5 120.9V108.4M291.5 120.9V108.4M292.5 120.9V105.7M293.5 120.9V105.7M294.5 120.9V106.3M295.5 120.9V107.2M296.5 120.9V107.2M297.5 120.9V108.4M299.5 120.9V106.3M301.5 120.9V107.2M303.5 120.9V106.3M304.5 120.9V105.7M305.5 120.9V112.5M307.5 120.9V105.7M308.5 120.9V110.3M309.5 120.9V105.7M311.5 120.9V108.4M313.5 120.9V105.7M314.5 120.9V105.7M316.5 120.9V106.3M317.5 120.9V105.7M318.5 120.9V105.7M319.5 120.9V105.7M320.5 120.9V106.3M321.5 120.9V108.4M322.5 120.9V105.7M323.5 120.9V108.4M327.5 120.9V107.2M328.5 120.9V105.7M330.5 120.9V105.7M331.5 120.9V105.7M332.5 120.9V105.7M333.5 120.9V112.5M335.5 120.9V105.7M336.5 120.9V107.2M337.5 120.9V112.5M339.5 120.9V105.7M341.5 120.9V112.5M342.5 120.9V105.7M343.5 120.9V105.7M346.5 120.9V120.1M347.5 120.9V114.8M348.5 120.9V108.7M349.5 120.9V112.5M350.5 120.9V106.3M351.5 120.9V105.7M352.5 120.9V106.3M353.5 120.9V112.5M354.5 120.9V107.2M357.5 120.9V105.7M358.5 120.9V106.3M360.5 120.9V107.2M361.5 120.9V112.5M364.5 120.9V108.4M365.5 120.9V112.5M366.5 120.9V112.5M367.5 120.9V108.4M368.5 120.9V108.4M369.5 120.9V105.7M374.5 120.9V112.5M375.5 120.9V105.7M376.5 120.9V107.2M378.5 120.9V105.7M379.5 120.9V105.7M380.5 120.9V105.7M381.5 120.9V105.7M382.5 120.9V108.4M383.5 120.9V105.7M384.5 120.9V110.3M386.5 120.9V105.7M387.5 120.9V110.3M388.5 120.9V106.3M389.5 120.9V105.7M391.5 120.9V108.4M392.5 120.9V108.4M393.5 120.9V112.5M395.5 120.9V105.7M396.5 120.9V105.7M397.5 120.9V107.2M398.5 120.9V107.2M399.5 120.9V105.7M404.5 120.9V105.7M406.5 120.9V108.4M409.5 120.9V107.2M411.5 120.9V112.5M412.5 120.9V105.7M413.5 120.9V105.7M415.5 120.9V107.2M418.5 120.9V107.2M419.5 120.9V105.7M421.5 120.9V108.4M422.5 120.9V107.2M424.5 120.9V107.2M425.5 120.9V108.4M427.5 120.9V105.7M428.5 120.9V107.2M429.5 120.9V112.5M430.5 120.9V107.2M433.5 120.9V105.7M434.5 120.9V105.7M436.5 120.9V105.7M437.5 120.9V105.7M438.5 120.9V105.7M442.5 120.9V105.7M443.5 120.9V105.7M446.5 120.9V108.4M447.5 120.9V107.2M448.5 120.9V108.4M449.5 120.9V108.4M450.5 120.9V105.7M452.5 120.9V105.7M453.5 120.9V110.3M455.5 120.9V105.7M456.5 120.9V112.5M457.5 120.9V105.7M460.5 120.9V112.5M462.5 120.9V112.5M464.5 120.9V105.7M465.5 120.9V105.7M466.5 120.9V106.3M470.5 120.9V110.3M471.5 120.9V107.2M472.5 120.9V108.4M473.5 120.9V105.7M474.5 120.9V105.7M476.5 120.9V105.7M477.5 120.9V108.4M487.5 120.9V105.7M488.5 120.9V112.5M490.5 120.9V105.7M491.5 120.9V105.7M492.5 120.9V105.7M493.5 120.9V105.7M494.5 120.9V112.5M495.5 120.9V107.2M496.5 120.9V105.7M498.5 120.9V110.3M499.5 120.9V105.7M500.5 120.9V110.3M501.5 120.9V112.5M506.5 120.9V105.7M508.5 120.9V105.7M512.5 120.9V110.3M513.5 120.9V106.3M514.5 120.9V106.3M516.5 120.9V105.7M517.5 120.9V106.3M518.5 120.9V106.3M519.5 120.9V105.7M520.5 120.9V105.7M521.5 120.9V105.7M522.5 120.9V110.3M523.5 120.9V106.3M524.5 120.9V105.7M525.5 120.9V112.5M526.5 120.9V105.7M527.5 120.9V110.3M529.5 120.9V112.5M530.5 120.9V106.3M532.5 120.9V105.7M533.5 120.9V105.7M547.5 120.9V109.4M550.5 120.9V106.6M551.5 120.9V108.4M553.5 120.9V105.7M555.5 120.9V105.7M556.5 120.9V112.5M558.5 120.9V105.7M559.5 120.9V107.2M560.5 120.9V105.7M561.5 120.9V110.3M562.5 120.9V108.4M563.5 120.9V110.3M564.5 120.9V112.5M566.5 120.9V108.4M567.5 120.9V105.7M568.5 120.9V107.2M569.5 120.9V106.3M572.5 120.9V106.3M573.5 120.9V105.7M574.5 120.9V112.5M576.5 120.9V106.3M577.5 120.9V106.3M578.5 120.9V105.7M580.5 120.9V105.7M581.5 120.9V105.7M583.5 120.9V105.7M584.5 120.9V108.4M585.5 120.9V105.7M586.5 120.9V105.7M588.5 120.9V105.7M591.5 120.9V105.7M592.5 120.9V105.7M593.5 120.9V105.7M594.5 120.9V105.7M595.5 120.9V106.3M598.5 120.9V110.3M599.5 120.9V110.3M600.5 120.9V107.2M601.5 120.9V106.3M604.5 120.9V108.4M606.5 120.9V105.7M608.5 120.9V105.7M612.5 120.9V105.7M613.5 120.9V112.5M615.5 120.9V110.3M616.5 120.9V108.4M617.5 120.9V110.3M621.5 120.9V107.2M625.5 120.9V108.4M632.5 120.9V105.7M633.5 120.9V105.7M634.5 120.9V105.7M637.5 120.9V105.7M639.5 120.9V108.4M640.5 120.9V112.5M643.5 120.9V112.5M646.5 120.9V105.7M647.5 120.9V105.7M648.5 120.9V112.5M649.5 120.9V106.3M660.5 120.9V105.7M667.5 120.9V110.3M670.5 120.9V108.4M671.5 120.9V107.4M672.5 120.9V106.8M679.5 120.9V111.8" stroke="#5da846" stroke-width="1" opacity="1"/><path d="M103.5 120.9V107.4M122.5 120.9V111.9M151.5 120.9V108.5M345.5 120.9V114.8M669.5 120.9V109.0M676.5 120.9V107.1M678.5 120.9V112.6" stroke="#5da846" stroke-width="1" opacity="0.75"/><path d="M131.5 120.9V112.0M133.5 120.9V106.7M137.5 120.9V110.6M156.5 120.9V112.3M344.5 120.9V108.7M548.5 120.9V111.5" stroke="#5da846" stroke-width="1" opacity="0.55"/><path d="M167.5 120.9V110.3M170.5 120.9V105.7M192.5 120.9V105.7M201.5 120.9V110.3M203.5 120.9V112.5M211.5 120.9V106.3M226.5 120.9V105.7M230.5 120.9V105.7M235.5 120.9V110.3M236.5 120.9V108.4M241.5 120.9V107.2M254.5 120.9V105.7M259.5 120.9V105.7M263.5 120.9V105.7M270.5 120.9V107.2M276.5 120.9V105.7M279.5 120.9V107.2M370.5 120.9V105.7M377.5 120.9V112.5M394.5 120.9V107.2M410.5 120.9V106.3M417.5 120.9V105.7M423.5 120.9V105.7M426.5 120.9V105.7M431.5 120.9V105.7M435.5 120.9V106.3M441.5 120.9V105.7M444.5 120.9V105.7M454.5 120.9V107.2M459.5 120.9V106.3M467.5 120.9V105.7M479.5 120.9V105.7M482.5 120.9V105.7M484.5 120.9V105.7M485.5 120.9V105.7M497.5 120.9V105.7M511.5 120.9V105.7M531.5 120.9V106.3M534.5 120.9V110.3M552.5 120.9V107.2M571.5 120.9V105.7M587.5 120.9V105.7M596.5 120.9V112.5M597.5 120.9V110.3M602.5 120.9V105.7M609.5 120.9V112.5M631.5 120.9V108.4M635.5 120.9V105.7M636.5 120.9V105.7M642.5 120.9V108.4" stroke="#5da846" stroke-width="1" opacity="0.8"/><path d="M168.5 120.9V105.7M178.5 120.9V105.7M181.5 120.9V106.3M187.5 120.9V110.3M224.5 120.9V105.7M234.5 120.9V112.5M239.5 120.9V106.3M257.5 120.9V112.5M258.5 120.9V106.3M300.5 120.9V105.7M306.5 120.9V110.3M312.5 120.9V110.3M315.5 120.9V110.3M326.5 120.9V110.3M329.5 120.9V110.3M338.5 120.9V105.7M340.5 120.9V105.7M355.5 120.9V105.7M359.5 120.9V105.7M362.5 120.9V107.2M363.5 120.9V105.7M401.5 120.9V110.3M403.5 120.9V112.5M407.5 120.9V106.3M408.5 120.9V112.5M416.5 120.9V105.7M420.5 120.9V105.7M440.5 120.9V110.3M461.5 120.9V105.7M469.5 120.9V105.7M478.5 120.9V112.5M480.5 120.9V108.4M483.5 120.9V105.7M505.5 120.9V105.7M507.5 120.9V105.7M509.5 120.9V106.3M515.5 120.9V112.5M528.5 120.9V108.4M554.5 120.9V107.2M570.5 120.9V105.7M582.5 120.9V107.2M589.5 120.9V108.4M605.5 120.9V107.2M610.5 120.9V108.4M611.5 120.9V107.2M641.5 120.9V105.7M645.5 120.9V105.7" stroke="#5da846" stroke-width="1" opacity="0.6"/>
<path d="M126.5 142.3V127.4M128.5 142.3V129.7M155.5 142.3V133.9M166.5 142.3V129.5M170.5 142.3V132.1M175.5 142.3V129.5M176.5 142.3V131.1M177.5 142.3V127.7M180.5 142.3V132.7M182.5 142.3V132.6M183.5 142.3V128.8M185.5 142.3V132.4M187.5 142.3V134.3M189.5 142.3V131.2M190.5 142.3V130.3M191.5 142.3V128.3M192.5 142.3V127.1M194.5 142.3V133.6M195.5 142.3V128.6M198.5 142.3V131.5M199.5 142.3V131.0M200.5 142.3V129.4M201.5 142.3V133.5M202.5 142.3V133.0M206.5 142.3V127.8M207.5 142.3V132.8M209.5 142.3V131.8M210.5 142.3V128.2M211.5 142.3V134.6M215.5 142.3V129.2M216.5 142.3V130.7M217.5 142.3V132.2M219.5 142.3V129.2M220.5 142.3V134.1M221.5 142.3V133.3M223.5 142.3V133.6M225.5 142.3V130.0M227.5 142.3V130.5M228.5 142.3V129.8M229.5 142.3V129.5M230.5 142.3V128.8M231.5 142.3V132.6M232.5 142.3V133.5M236.5 142.3V131.3M237.5 142.3V130.8M238.5 142.3V127.3M240.5 142.3V130.6M242.5 142.3V131.3M243.5 142.3V128.5M248.5 142.3V132.8M249.5 142.3V133.0M250.5 142.3V130.0M252.5 142.3V127.5M261.5 142.3V133.7M265.5 142.3V128.5M266.5 142.3V129.3M271.5 142.3V132.0M272.5 142.3V129.8M273.5 142.3V128.2M274.5 142.3V130.0M275.5 142.3V133.2M276.5 142.3V127.6M279.5 142.3V132.1M283.5 142.3V130.9M284.5 142.3V132.0M286.5 142.3V131.7M288.5 142.3V133.5M289.5 142.3V128.8M291.5 142.3V133.3M292.5 142.3V131.7M294.5 142.3V131.3M295.5 142.3V133.9M296.5 142.3V134.2M301.5 142.3V132.9M302.5 142.3V128.0M305.5 142.3V128.4M306.5 142.3V131.4M307.5 142.3V127.3M308.5 142.3V127.7M309.5 142.3V129.6M310.5 142.3V131.3M311.5 142.3V133.5M312.5 142.3V127.5M314.5 142.3V127.9M315.5 142.3V134.5M316.5 142.3V129.0M317.5 142.3V133.7M318.5 142.3V130.3M319.5 142.3V132.9M322.5 142.3V132.5M323.5 142.3V127.7M324.5 142.3V132.4M326.5 142.3V131.1M328.5 142.3V129.5M329.5 142.3V131.3M330.5 142.3V133.3M331.5 142.3V129.9M332.5 142.3V128.0M333.5 142.3V130.4M338.5 142.3V133.5M339.5 142.3V133.5M340.5 142.3V129.7M342.5 142.3V131.0M344.5 142.3V133.7M345.5 142.3V130.3M347.5 142.3V132.3M349.5 142.3V127.6M350.5 142.3V127.5M353.5 142.3V134.7M354.5 142.3V131.2M355.5 142.3V133.0M356.5 142.3V128.4M360.5 142.3V130.1M362.5 142.3V133.5M364.5 142.3V134.4M365.5 142.3V132.9M366.5 142.3V131.6M367.5 142.3V134.0M368.5 142.3V127.2M369.5 142.3V134.4M375.5 142.3V131.6M376.5 142.3V134.6M379.5 142.3V133.2M380.5 142.3V129.5M382.5 142.3V129.0M383.5 142.3V132.0M386.5 142.3V132.6M387.5 142.3V132.9M388.5 142.3V129.4M389.5 142.3V128.2M390.5 142.3V132.9M391.5 142.3V128.8M392.5 142.3V132.1M393.5 142.3V127.1M394.5 142.3V134.2M395.5 142.3V130.2M396.5 142.3V130.9M399.5 142.3V131.2M402.5 142.3V127.6M404.5 142.3V131.7M406.5 142.3V133.9M407.5 142.3V128.8M409.5 142.3V130.2M410.5 142.3V132.2M411.5 142.3V127.9M412.5 142.3V131.0M413.5 142.3V132.5M414.5 142.3V129.0M416.5 142.3V132.3M418.5 142.3V134.6M420.5 142.3V134.1M421.5 142.3V130.4M422.5 142.3V131.0M423.5 142.3V127.3M424.5 142.3V129.0M427.5 142.3V133.8M428.5 142.3V131.2M429.5 142.3V127.5M431.5 142.3V134.2M432.5 142.3V134.3M433.5 142.3V129.8M435.5 142.3V128.9M436.5 142.3V134.1M438.5 142.3V130.0M439.5 142.3V131.8M440.5 142.3V128.9M441.5 142.3V128.9M442.5 142.3V134.7M443.5 142.3V133.7M446.5 142.3V130.6M447.5 142.3V133.2M448.5 142.3V132.7M452.5 142.3V133.6M453.5 142.3V128.1M458.5 142.3V128.9M460.5 142.3V133.9M464.5 142.3V132.2M465.5 142.3V129.3M466.5 142.3V133.2M469.5 142.3V128.1M470.5 142.3V130.3M471.5 142.3V127.9M473.5 142.3V132.9M477.5 142.3V133.3M479.5 142.3V130.5M480.5 142.3V133.8M482.5 142.3V133.3M483.5 142.3V132.1M484.5 142.3V131.3M490.5 142.3V134.4M492.5 142.3V130.8M493.5 142.3V127.3M494.5 142.3V130.1M496.5 142.3V129.7M497.5 142.3V128.0M499.5 142.3V130.1M500.5 142.3V128.4M502.5 142.3V134.5M507.5 142.3V128.1M513.5 142.3V131.7M519.5 142.3V134.5M525.5 142.3V130.0M527.5 142.3V131.6M546.5 142.3V128.1M547.5 142.3V133.3M549.5 142.3V132.3M550.5 142.3V130.8M559.5 142.3V134.2M561.5 142.3V133.1M562.5 142.3V130.9M564.5 142.3V129.2M570.5 142.3V133.0M584.5 142.3V131.9M585.5 142.3V127.3M586.5 142.3V134.4M592.5 142.3V127.9M593.5 142.3V131.9M594.5 142.3V127.7M595.5 142.3V130.3M600.5 142.3V127.6M604.5 142.3V129.3M605.5 142.3V132.7M608.5 142.3V133.0M611.5 142.3V127.6M612.5 142.3V130.3M613.5 142.3V131.7M615.5 142.3V132.2M622.5 142.3V129.7M641.5 142.3V134.1M667.5 142.3V129.8" stroke="#327fc3" stroke-width="1" opacity="1"/><path d="M131.5 142.3V131.6M149.5 142.3V132.4M159.5 142.3V134.6M167.5 142.3V132.7M168.5 142.3V130.1M171.5 142.3V133.4M178.5 142.3V130.5M179.5 142.3V128.3M181.5 142.3V127.9M184.5 142.3V128.6M186.5 142.3V134.5M188.5 142.3V127.6M193.5 142.3V133.7M222.5 142.3V129.5M226.5 142.3V128.1M235.5 142.3V128.5M241.5 142.3V133.9M244.5 142.3V133.9M245.5 142.3V127.9M251.5 142.3V129.0M258.5 142.3V130.1M264.5 142.3V133.1M282.5 142.3V134.0M293.5 142.3V132.6M313.5 142.3V130.0M334.5 142.3V130.5M337.5 142.3V131.7M346.5 142.3V134.4M352.5 142.3V128.4M358.5 142.3V128.2M371.5 142.3V128.4M377.5 142.3V134.6M378.5 142.3V133.1M381.5 142.3V133.9M400.5 142.3V132.4M417.5 142.3V131.9M419.5 142.3V134.1M425.5 142.3V134.0M437.5 142.3V132.8M449.5 142.3V131.0M454.5 142.3V128.9M459.5 142.3V128.2M476.5 142.3V130.3M489.5 142.3V127.3M501.5 142.3V130.8M528.5 142.3V130.3M563.5 142.3V130.4M571.5 142.3V132.3M596.5 142.3V127.7M597.5 142.3V127.6M598.5 142.3V129.9M603.5 142.3V133.7" stroke="#327fc3" stroke-width="1" opacity="0.75"/><path d="M160.5 142.3V129.7M163.5 142.3V129.7M169.5 142.3V128.9M224.5 142.3V128.4M239.5 142.3V129.4M262.5 142.3V130.6M278.5 142.3V131.4M287.5 142.3V134.5M290.5 142.3V130.8M303.5 142.3V130.6M304.5 142.3V127.3M320.5 142.3V129.2M321.5 142.3V133.6M327.5 142.3V134.7M343.5 142.3V130.1M348.5 142.3V131.3M359.5 142.3V130.0M363.5 142.3V129.5M370.5 142.3V131.3M405.5 142.3V133.9M408.5 142.3V134.4M415.5 142.3V128.4M426.5 142.3V128.0M434.5 142.3V128.3M474.5 142.3V130.1M478.5 142.3V128.4M488.5 142.3V132.7M495.5 142.3V130.9M498.5 142.3V130.3M548.5 142.3V133.9M555.5 142.3V133.5M560.5 142.3V132.8M575.5 142.3V134.3M599.5 142.3V130.2" stroke="#327fc3" stroke-width="1" opacity="0.55"/>
<path d="M112.5 157.5V146.2M120.5 157.5V147.2M131.5 157.5V148.2M163.5 157.5V149.4M164.5 157.5V147.9M170.5 157.5V142.7M175.5 157.5V146.4M176.5 157.5V144.1M188.5 157.5V147.2M194.5 157.5V145.3M195.5 157.5V143.3M196.5 157.5V142.7M197.5 157.5V146.7M198.5 157.5V147.5M199.5 157.5V148.6M200.5 157.5V145.9M205.5 157.5V144.6M206.5 157.5V148.5M207.5 157.5V142.9M208.5 157.5V144.4M209.5 157.5V147.4M210.5 157.5V143.1M211.5 157.5V149.6M212.5 157.5V147.2M214.5 157.5V145.9M216.5 157.5V142.6M218.5 157.5V149.5M220.5 157.5V149.2M222.5 157.5V149.8M223.5 157.5V142.6M224.5 157.5V145.2M226.5 157.5V145.4M227.5 157.5V149.5M231.5 157.5V145.9M232.5 157.5V149.7M233.5 157.5V146.5M234.5 157.5V147.8M237.5 157.5V143.3M240.5 157.5V145.9M241.5 157.5V143.3M243.5 157.5V143.2M245.5 157.5V146.5M248.5 157.5V147.1M249.5 157.5V144.7M251.5 157.5V144.2M253.5 157.5V144.1M254.5 157.5V149.8M255.5 157.5V144.1M256.5 157.5V147.3M257.5 157.5V144.3M258.5 157.5V149.4M262.5 157.5V142.4M263.5 157.5V142.4M264.5 157.5V143.5M265.5 157.5V145.1M266.5 157.5V148.2M268.5 157.5V147.2M270.5 157.5V142.6M275.5 157.5V146.1M277.5 157.5V149.2M278.5 157.5V144.0M279.5 157.5V148.0M280.5 157.5V149.2M281.5 157.5V149.2M288.5 157.5V142.9M290.5 157.5V148.7M295.5 157.5V145.7M296.5 157.5V148.0M297.5 157.5V146.2M298.5 157.5V147.5M307.5 157.5V148.2M309.5 157.5V143.3M310.5 157.5V144.3M311.5 157.5V149.2M312.5 157.5V142.7M313.5 157.5V144.6M314.5 157.5V142.7M317.5 157.5V144.9M318.5 157.5V145.6M319.5 157.5V146.4M320.5 157.5V142.7M322.5 157.5V144.4M324.5 157.5V144.4M326.5 157.5V142.5M327.5 157.5V146.1M330.5 157.5V147.9M331.5 157.5V144.3M332.5 157.5V143.9M333.5 157.5V145.7M334.5 157.5V145.9M337.5 157.5V148.4M339.5 157.5V145.3M342.5 157.5V143.4M346.5 157.5V146.9M347.5 157.5V144.3M348.5 157.5V147.7M349.5 157.5V147.3M350.5 157.5V146.5M351.5 157.5V146.5M352.5 157.5V149.6M353.5 157.5V148.4M358.5 157.5V143.0M359.5 157.5V143.4M361.5 157.5V142.4M363.5 157.5V146.3M365.5 157.5V142.7M366.5 157.5V147.0M367.5 157.5V146.8M368.5 157.5V146.8M369.5 157.5V142.8M370.5 157.5V148.8M371.5 157.5V147.3M381.5 157.5V146.8M384.5 157.5V142.7M387.5 157.5V149.4M389.5 157.5V146.5M392.5 157.5V149.3M397.5 157.5V143.0M399.5 157.5V149.1M403.5 157.5V147.9M408.5 157.5V147.0M410.5 157.5V144.7M411.5 157.5V149.4M412.5 157.5V144.2M419.5 157.5V142.8M421.5 157.5V149.3M422.5 157.5V149.7M427.5 157.5V149.6M429.5 157.5V149.6M431.5 157.5V149.1M434.5 157.5V148.5M435.5 157.5V147.9M436.5 157.5V145.6M439.5 157.5V146.3M441.5 157.5V142.4M442.5 157.5V147.5M448.5 157.5V142.4M449.5 157.5V148.2M452.5 157.5V144.6M454.5 157.5V148.5M455.5 157.5V144.0M456.5 157.5V147.2M457.5 157.5V149.6M458.5 157.5V142.9M462.5 157.5V148.0M465.5 157.5V147.6M466.5 157.5V149.3M468.5 157.5V145.9M470.5 157.5V144.8M471.5 157.5V144.7M473.5 157.5V145.1M474.5 157.5V145.1M475.5 157.5V144.9M482.5 157.5V147.9M483.5 157.5V143.9M484.5 157.5V144.6M487.5 157.5V148.2M490.5 157.5V146.3M501.5 157.5V149.1M502.5 157.5V146.5M512.5 157.5V147.1M513.5 157.5V144.3M515.5 157.5V148.2M522.5 157.5V146.1M525.5 157.5V144.2M532.5 157.5V146.7M553.5 157.5V143.8M554.5 157.5V143.2M558.5 157.5V145.4M559.5 157.5V143.2M560.5 157.5V146.9M561.5 157.5V144.9M562.5 157.5V145.8M563.5 157.5V149.7M564.5 157.5V149.7M566.5 157.5V148.0M581.5 157.5V148.8M582.5 157.5V143.6M589.5 157.5V143.0M590.5 157.5V146.7M591.5 157.5V144.9M592.5 157.5V146.0M594.5 157.5V149.5M595.5 157.5V145.5M596.5 157.5V146.7M601.5 157.5V148.2M604.5 157.5V145.5M606.5 157.5V148.1M608.5 157.5V143.7M609.5 157.5V142.7M611.5 157.5V142.9M612.5 157.5V143.5M615.5 157.5V143.8M640.5 157.5V149.5" stroke="#e5882b" stroke-width="1" opacity="1"/><path d="M161.5 157.5V144.6M167.5 157.5V146.8M172.5 157.5V146.1M177.5 157.5V147.5M184.5 157.5V144.2M217.5 157.5V147.5M229.5 157.5V148.6M230.5 157.5V146.4M236.5 157.5V142.9M252.5 157.5V148.4M261.5 157.5V145.8M267.5 157.5V145.5M269.5 157.5V143.0M273.5 157.5V148.9M276.5 157.5V144.2M283.5 157.5V149.8M308.5 157.5V148.1M321.5 157.5V149.7M329.5 157.5V146.6M355.5 157.5V143.3M356.5 157.5V148.6M360.5 157.5V143.1M380.5 157.5V144.0M385.5 157.5V146.8M391.5 157.5V148.8M409.5 157.5V145.2M423.5 157.5V144.4M443.5 157.5V149.5M447.5 157.5V147.1M453.5 157.5V144.1M459.5 157.5V147.5M461.5 157.5V144.4M485.5 157.5V149.0M488.5 157.5V143.1M499.5 157.5V146.1M505.5 157.5V142.7M511.5 157.5V149.2M514.5 157.5V145.0M549.5 157.5V142.9M580.5 157.5V142.5M598.5 157.5V142.9M600.5 157.5V143.4M603.5 157.5V144.3" stroke="#e5882b" stroke-width="1" opacity="0.75"/><path d="M171.5 157.5V146.2M178.5 157.5V142.3M183.5 157.5V143.9M202.5 157.5V143.8M213.5 157.5V148.3M215.5 157.5V144.6M219.5 157.5V144.9M221.5 157.5V146.9M228.5 157.5V144.5M235.5 157.5V143.0M242.5 157.5V143.5M244.5 157.5V147.0M250.5 157.5V148.7M305.5 157.5V146.7M306.5 157.5V144.8M315.5 157.5V143.0M316.5 157.5V149.1M323.5 157.5V147.1M328.5 157.5V146.0M338.5 157.5V143.2M345.5 157.5V148.8M354.5 157.5V146.9M364.5 157.5V144.3M393.5 157.5V143.4M396.5 157.5V145.7M398.5 157.5V145.8M415.5 157.5V146.4M418.5 157.5V149.2M420.5 157.5V148.2M424.5 157.5V145.4M425.5 157.5V146.9M426.5 157.5V142.9M428.5 157.5V147.0M430.5 157.5V149.0M437.5 157.5V144.4M438.5 157.5V146.2M440.5 157.5V143.8M460.5 157.5V145.0M469.5 157.5V144.9M472.5 157.5V144.7M478.5 157.5V147.7M491.5 157.5V145.3M519.5 157.5V142.5M584.5 157.5V142.4M593.5 157.5V149.2M597.5 157.5V146.6M599.5 157.5V148.9M610.5 157.5V144.0" stroke="#e5882b" stroke-width="1" opacity="0.55"/>
<path d="M125.5 172.7V165.0M129.5 172.7V160.2M167.5 172.7V158.3M171.5 172.7V160.9M176.5 172.7V159.8M193.5 172.7V159.0M207.5 172.7V161.7M208.5 172.7V163.6M209.5 172.7V157.8M210.5 172.7V163.4M211.5 172.7V161.8M212.5 172.7V164.8M213.5 172.7V164.0M220.5 172.7V157.9M221.5 172.7V164.2M223.5 172.7V164.9M225.5 172.7V162.9M229.5 172.7V161.1M231.5 172.7V163.7M232.5 172.7V158.1M233.5 172.7V158.8M243.5 172.7V159.6M252.5 172.7V163.8M253.5 172.7V158.7M262.5 172.7V157.6M265.5 172.7V158.7M267.5 172.7V158.1M268.5 172.7V162.4M271.5 172.7V161.9M279.5 172.7V164.0M281.5 172.7V163.8M282.5 172.7V160.9M286.5 172.7V162.5M287.5 172.7V157.6M288.5 172.7V164.2M289.5 172.7V164.4M290.5 172.7V161.2M291.5 172.7V159.8M292.5 172.7V160.3M295.5 172.7V164.3M304.5 172.7V161.4M311.5 172.7V163.1M312.5 172.7V164.5M313.5 172.7V164.3M316.5 172.7V162.6M318.5 172.7V160.7M319.5 172.7V165.0M320.5 172.7V162.9M321.5 172.7V160.5M326.5 172.7V161.6M329.5 172.7V162.2M330.5 172.7V162.8M331.5 172.7V157.7M332.5 172.7V163.1M333.5 172.7V164.8M334.5 172.7V164.2M338.5 172.7V158.4M350.5 172.7V165.1M354.5 172.7V158.5M355.5 172.7V160.4M359.5 172.7V164.1M360.5 172.7V161.8M364.5 172.7V161.4M368.5 172.7V159.1M379.5 172.7V162.2M381.5 172.7V163.2M383.5 172.7V160.9M388.5 172.7V160.6M392.5 172.7V160.2M396.5 172.7V162.2M404.5 172.7V161.4M405.5 172.7V164.2M406.5 172.7V164.8M407.5 172.7V163.6M409.5 172.7V163.6M410.5 172.7V162.6M412.5 172.7V163.4M413.5 172.7V163.4M414.5 172.7V163.9M416.5 172.7V161.6M418.5 172.7V160.3M420.5 172.7V157.6M422.5 172.7V159.8M424.5 172.7V157.6M425.5 172.7V160.5M427.5 172.7V162.3M437.5 172.7V159.1M440.5 172.7V158.6M442.5 172.7V161.6M443.5 172.7V158.0M457.5 172.7V158.9M458.5 172.7V157.5M469.5 172.7V158.4M471.5 172.7V159.2M472.5 172.7V162.2M474.5 172.7V162.4M475.5 172.7V161.7M476.5 172.7V163.1M477.5 172.7V163.2M478.5 172.7V158.8M486.5 172.7V160.3M487.5 172.7V159.6M491.5 172.7V159.6M497.5 172.7V162.0M499.5 172.7V161.3M500.5 172.7V161.1M507.5 172.7V162.8M560.5 172.7V163.3M561.5 172.7V157.9M566.5 172.7V158.1M590.5 172.7V162.1M591.5 172.7V160.5M592.5 172.7V163.1M593.5 172.7V158.5M597.5 172.7V160.1M598.5 172.7V164.8M607.5 172.7V160.8M608.5 172.7V164.5M613.5 172.7V160.0" stroke="#5da846" stroke-width="1" opacity="1"/><path d="M175.5 172.7V159.6M251.5 172.7V162.0M278.5 172.7V162.5M283.5 172.7V161.4M322.5 172.7V158.5M327.5 172.7V158.5M361.5 172.7V160.3M380.5 172.7V161.5M399.5 172.7V163.2M417.5 172.7V163.0M423.5 172.7V158.4M435.5 172.7V161.3M438.5 172.7V158.5M439.5 172.7V163.1M446.5 172.7V162.5M452.5 172.7V157.7M470.5 172.7V159.9M473.5 172.7V159.4M485.5 172.7V162.7M489.5 172.7V159.4M496.5 172.7V163.2M502.5 172.7V159.3M558.5 172.7V160.8M580.5 172.7V159.8M599.5 172.7V158.0M614.5 172.7V164.2" stroke="#5da846" stroke-width="1" opacity="0.55"/><path d="M177.5 172.7V162.7M184.5 172.7V158.4M192.5 172.7V162.2M195.5 172.7V162.0M202.5 172.7V159.7M219.5 172.7V164.7M224.5 172.7V158.1M234.5 172.7V164.0M250.5 172.7V159.0M255.5 172.7V164.2M256.5 172.7V160.4M266.5 172.7V159.4M314.5 172.7V164.0M315.5 172.7V164.6M317.5 172.7V161.3M323.5 172.7V164.9M324.5 172.7V158.8M328.5 172.7V161.8M353.5 172.7V158.7M362.5 172.7V161.4M378.5 172.7V159.5M408.5 172.7V162.1M419.5 172.7V163.8M421.5 172.7V158.1M426.5 172.7V161.1M428.5 172.7V161.4M429.5 172.7V161.8M436.5 172.7V162.5M441.5 172.7V160.7M456.5 172.7V164.2M484.5 172.7V163.4M488.5 172.7V160.4M498.5 172.7V163.7M501.5 172.7V159.2M526.5 172.7V162.0M550.5 172.7V157.7M555.5 172.7V162.2M559.5 172.7V159.0M594.5 172.7V163.2M596.5 172.7V158.7M600.5 172.7V158.4M609.5 172.7V163.6M612.5 172.7V160.0M615.5 172.7V158.6M640.5 172.7V162.9" stroke="#5da846" stroke-width="1" opacity="0.75"/>
<path d="M172.5 194.1V185.5M193.5 194.1V186.1M282.5 194.1V185.0M454.5 194.1V185.8M562.5 194.1V183.6" stroke="#327fc3" stroke-width="1" opacity="0.55"/><path d="M175.5 194.1V188.0M183.5 194.1V182.2M211.5 194.1V181.9M216.5 194.1V186.0M220.5 194.1V180.9M224.5 194.1V180.5M229.5 194.1V185.7M258.5 194.1V184.9M264.5 194.1V188.0M280.5 194.1V182.7M281.5 194.1V181.7M283.5 194.1V187.8M284.5 194.1V187.3M288.5 194.1V181.2M296.5 194.1V185.4M337.5 194.1V182.7M356.5 194.1V185.8M358.5 194.1V184.4M363.5 194.1V181.3M364.5 194.1V184.8M397.5 194.1V182.5M402.5 194.1V181.8M415.5 194.1V181.7M417.5 194.1V183.5M418.5 194.1V181.7M437.5 194.1V184.0M442.5 194.1V183.9M452.5 194.1V184.0M464.5 194.1V187.7M466.5 194.1V182.7M470.5 194.1V187.8M478.5 194.1V181.6M511.5 194.1V183.1M528.5 194.1V183.3M600.5 194.1V184.7M611.5 194.1V183.1" stroke="#327fc3" stroke-width="1" opacity="1"/><path d="M241.5 194.1V180.7M250.5 194.1V186.9M366.5 194.1V185.6M370.5 194.1V181.5M385.5 194.1V182.4M416.5 194.1V182.2M419.5 194.1V181.2M523.5 194.1V185.7" stroke="#327fc3" stroke-width="1" opacity="0.75"/>


<rect x="496.3" y="209.7" width="1" height="15.3" fill="#5da846"/>
<text x="91.00" y="235.70" font-size="9.5" text-anchor="end" fill="#222"  stroke="#222" stroke-width="0.06">Refseq genes</text>
<text x="91.00" y="247.50" font-size="9.5" text-anchor="end" fill="#222"  stroke="#222" stroke-width="0.06">CpG Islands</text>
<line x1="95.00" y1="233.80" x2="475.30" y2="233.80" stroke="#645c5c" stroke-width="1.9" />
<rect x="191.80" y="231.30" width="2.00" height="5.00" fill="#1a1a8c" />
<rect x="201.10" y="232.30" width="1.00" height="3.00" fill="#1a1a8c" />
<rect x="265.70" y="231.80" width="1.20" height="4.00" fill="#1a1a8c" />
<rect x="273.00" y="232.30" width="1.00" height="3.00" fill="#1a1a8c" />
<rect x="283.80" y="231.80" width="1.20" height="4.00" fill="#1a1a8c" />
<rect x="348.25" y="231.80" width="1.50" height="4.00" fill="#1a1a8c" />
<rect x="474.00" y="231.30" width="2.00" height="5.00" fill="#1a1a8c" />
<text x="262.00" y="244.60" font-size="8" text-anchor="start" fill="#222"  stroke="#222" stroke-width="0.06">PDE4DIP</text>
<path d="M475,240.2 H461" stroke="#222" stroke-width="1.2" fill="none" />
<path d="M464.5,237.6 L459.5,240.2 L464.5,242.8" stroke="#222" stroke-width="1.2" fill="none" />
<rect x="348.50" y="244.00" width="2.00" height="5.20" fill="#a0229a" />
<rect x="473.20" y="244.00" width="2.00" height="5.20" fill="#a0229a" />
<rect x="546.00" y="244.00" width="2.00" height="5.20" fill="#a0229a" />
<text x="3.50" y="261.80" font-size="12" text-anchor="start" fill="#222" stroke="#222" stroke-width="0.12">b</text>
<line x1="40.30" y1="265.40" x2="40.30" y2="406.40" stroke="#333" stroke-width="1.1" />
<line x1="40.30" y1="406.40" x2="227.80" y2="406.40" stroke="#333" stroke-width="1.1" />
<line x1="36.00" y1="406.40" x2="40.30" y2="406.40" stroke="#333" stroke-width="1" />
<text x="34.50" y="409.40" font-size="8.5" text-anchor="end" fill="#222"  stroke="#222" stroke-width="0.06">0</text>
<line x1="36.00" y1="378.20" x2="40.30" y2="378.20" stroke="#333" stroke-width="1" />
<text x="34.50" y="381.20" font-size="8.5" text-anchor="end" fill="#222"  stroke="#222" stroke-width="0.06">3</text>
<line x1="36.00" y1="350.00" x2="40.30" y2="350.00" stroke="#333" stroke-width="1" />
<text x="34.50" y="353.00" font-size="8.5" text-anchor="end" fill="#222"  stroke="#222" stroke-width="0.06">6</text>
<line x1="36.00" y1="321.80" x2="40.30" y2="321.80" stroke="#333" stroke-width="1" />
<text x="34.50" y="324.80" font-size="8.5" text-anchor="end" fill="#222"  stroke="#222" stroke-width="0.06">9</text>
<line x1="36.00" y1="293.60" x2="40.30" y2="293.60" stroke="#333" stroke-width="1" />
<text x="34.50" y="296.60" font-size="8.5" text-anchor="end" fill="#222"  stroke="#222" stroke-width="0.06">12</text>
<line x1="36.00" y1="265.40" x2="40.30" y2="265.40" stroke="#333" stroke-width="1" />
<text x="34.50" y="268.40" font-size="8.5" text-anchor="end" fill="#222"  stroke="#222" stroke-width="0.06">15</text>
<text transform="translate(20.5,335) rotate(-90)" font-size="9.25" text-anchor="middle" fill="#222">Library concentration (ng/ul)</text>
<line x1="61.50" y1="406.40" x2="61.50" y2="411.00" stroke="#333" stroke-width="1" />
<rect x="44.15" y="356.86" width="8.50" height="49.54" fill="#327fc3" stroke="#2a2a2a" stroke-width="0.9" />
<line x1="48.40" y1="351.22" x2="48.40" y2="362.50" stroke="#222" stroke-width="1" />
<line x1="46.20" y1="351.22" x2="50.60" y2="351.22" stroke="#222" stroke-width="1.1" />
<line x1="46.20" y1="362.50" x2="50.60" y2="362.50" stroke="#222" stroke-width="1.1" />
<rect x="57.25" y="382.24" width="8.50" height="24.16" fill="#e5882b" stroke="#2a2a2a" stroke-width="0.9" />
<line x1="61.50" y1="379.42" x2="61.50" y2="385.06" stroke="#222" stroke-width="1" />
<line x1="59.30" y1="379.42" x2="63.70" y2="379.42" stroke="#222" stroke-width="1.1" />
<line x1="59.30" y1="385.06" x2="63.70" y2="385.06" stroke="#222" stroke-width="1.1" />
<rect x="70.35" y="392.49" width="8.50" height="13.91" fill="#5da846" stroke="#2a2a2a" stroke-width="0.9" />
<line x1="74.60" y1="389.20" x2="74.60" y2="395.78" stroke="#222" stroke-width="1" />
<line x1="72.40" y1="389.20" x2="76.80" y2="389.20" stroke="#222" stroke-width="1.1" />
<line x1="72.40" y1="395.78" x2="76.80" y2="395.78" stroke="#222" stroke-width="1.1" />
<line x1="109.60" y1="406.40" x2="109.60" y2="411.00" stroke="#333" stroke-width="1" />
<rect x="92.25" y="350.00" width="8.50" height="56.40" fill="#327fc3" stroke="#2a2a2a" stroke-width="0.9" />
<line x1="96.50" y1="329.32" x2="96.50" y2="370.68" stroke="#222" stroke-width="1" />
<line x1="94.30" y1="329.32" x2="98.70" y2="329.32" stroke="#222" stroke-width="1.1" />
<line x1="94.30" y1="370.68" x2="98.70" y2="370.68" stroke="#222" stroke-width="1.1" />
<rect x="105.35" y="381.40" width="8.50" height="25.00" fill="#e5882b" stroke="#2a2a2a" stroke-width="0.9" />
<line x1="109.60" y1="372.00" x2="109.60" y2="390.80" stroke="#222" stroke-width="1" />
<line x1="107.40" y1="372.00" x2="111.80" y2="372.00" stroke="#222" stroke-width="1.1" />
<line x1="107.40" y1="390.80" x2="111.80" y2="390.80" stroke="#222" stroke-width="1.1" />
<rect x="118.45" y="375.57" width="8.50" height="30.83" fill="#5da846" stroke="#2a2a2a" stroke-width="0.9" />
<line x1="122.70" y1="374.82" x2="122.70" y2="376.32" stroke="#222" stroke-width="1" />
<line x1="120.50" y1="374.82" x2="124.90" y2="374.82" stroke="#222" stroke-width="1.1" />
<line x1="120.50" y1="376.32" x2="124.90" y2="376.32" stroke="#222" stroke-width="1.1" />
<line x1="157.80" y1="406.40" x2="157.80" y2="411.00" stroke="#333" stroke-width="1" />
<rect x="140.45" y="332.99" width="8.50" height="73.41" fill="#327fc3" stroke="#2a2a2a" stroke-width="0.9" />
<line x1="144.70" y1="303.85" x2="144.70" y2="362.13" stroke="#222" stroke-width="1" />
<line x1="142.50" y1="303.85" x2="146.90" y2="303.85" stroke="#222" stroke-width="1.1" />
<line x1="142.50" y1="362.13" x2="146.90" y2="362.13" stroke="#222" stroke-width="1.1" />
<rect x="153.55" y="371.90" width="8.50" height="34.50" fill="#e5882b" stroke="#2a2a2a" stroke-width="0.9" />
<line x1="157.80" y1="367.67" x2="157.80" y2="376.13" stroke="#222" stroke-width="1" />
<line x1="155.60" y1="367.67" x2="160.00" y2="367.67" stroke="#222" stroke-width="1.1" />
<line x1="155.60" y1="376.13" x2="160.00" y2="376.13" stroke="#222" stroke-width="1.1" />
<rect x="166.65" y="386.10" width="8.50" height="20.30" fill="#5da846" stroke="#2a2a2a" stroke-width="0.9" />
<line x1="170.90" y1="379.52" x2="170.90" y2="392.68" stroke="#222" stroke-width="1" />
<line x1="168.70" y1="379.52" x2="173.10" y2="379.52" stroke="#222" stroke-width="1.1" />
<line x1="168.70" y1="392.68" x2="173.10" y2="392.68" stroke="#222" stroke-width="1.1" />
<line x1="205.90" y1="406.40" x2="205.90" y2="411.00" stroke="#333" stroke-width="1" />
<rect x="188.55" y="324.24" width="8.50" height="82.16" fill="#327fc3" stroke="#2a2a2a" stroke-width="0.9" />
<line x1="192.80" y1="292.28" x2="192.80" y2="356.20" stroke="#222" stroke-width="1" />
<line x1="190.60" y1="292.28" x2="195.00" y2="292.28" stroke="#222" stroke-width="1.1" />
<line x1="190.60" y1="356.20" x2="195.00" y2="356.20" stroke="#222" stroke-width="1.1" />
<rect x="201.65" y="370.49" width="8.50" height="35.91" fill="#e5882b" stroke="#2a2a2a" stroke-width="0.9" />
<line x1="205.90" y1="362.50" x2="205.90" y2="378.48" stroke="#222" stroke-width="1" />
<line x1="203.70" y1="362.50" x2="208.10" y2="362.50" stroke="#222" stroke-width="1.1" />
<line x1="203.70" y1="378.48" x2="208.10" y2="378.48" stroke="#222" stroke-width="1.1" />
<rect x="214.75" y="391.27" width="8.50" height="15.13" fill="#5da846" stroke="#2a2a2a" stroke-width="0.9" />
<line x1="219.00" y1="387.04" x2="219.00" y2="395.50" stroke="#222" stroke-width="1" />
<line x1="216.80" y1="387.04" x2="221.20" y2="387.04" stroke="#222" stroke-width="1.1" />
<line x1="216.80" y1="395.50" x2="221.20" y2="395.50" stroke="#222" stroke-width="1.1" />
<circle cx="95.7" cy="320.2" r="0.8" fill="#333"/>
<circle cx="97.2" cy="361" r="0.8" fill="#333"/>
<circle cx="108.8" cy="368.2" r="0.8" fill="#333"/>
<circle cx="148.2" cy="318.6" r="0.8" fill="#333"/>
<circle cx="146.2" cy="374" r="0.8" fill="#333"/>
<circle cx="171.6" cy="376.1" r="0.8" fill="#333"/>
<circle cx="192.9" cy="285" r="0.8" fill="#333"/>
<circle cx="192" cy="324.5" r="0.8" fill="#333"/>
<circle cx="192.9" cy="361" r="0.8" fill="#333"/>
<circle cx="205.2" cy="361" r="0.8" fill="#333"/>
<circle cx="219.2" cy="385" r="0.8" fill="#333"/>
<circle cx="47.3" cy="350.8" r="0.8" fill="#333"/>
<circle cx="61.5" cy="382" r="0.8" fill="#333"/>
<circle cx="75" cy="391" r="0.8" fill="#333"/>
<circle cx="159" cy="371" r="0.8" fill="#333"/>
<rect x="50.80" y="266.60" width="13.00" height="5.20" fill="#327fc3" stroke="#222" stroke-width="0.9" />
<text x="67.40" y="272.80" font-size="9.5" text-anchor="start" fill="#222"  stroke="#222" stroke-width="0.06">UMBS-seq</text>
<rect x="50.80" y="279.00" width="13.00" height="5.20" fill="#e5882b" stroke="#222" stroke-width="0.9" />
<text x="67.40" y="285.20" font-size="9.5" text-anchor="start" fill="#222"  stroke="#222" stroke-width="0.06">EM-seq</text>
<rect x="50.80" y="291.40" width="13.00" height="5.20" fill="#5da846" stroke="#222" stroke-width="0.9" />
<text x="67.40" y="297.60" font-size="9.5" text-anchor="start" fill="#222"  stroke="#222" stroke-width="0.06">CBS-seq</text>
<path d="M44.60,331.00 V328.50 H79.60 V331.00" stroke="#2a2a2a" stroke-width="1.0" fill="none" />
<text x="62.10" y="325.40" font-size="6.8" text-anchor="middle" fill="#2a2a2a" font-style="italic" stroke="#2a2a2a" stroke-width="0.12">p=0.0009</text>
<path d="M44.60,343.00 V340.50 H66.50 V343.00" stroke="#2a2a2a" stroke-width="1.0" fill="none" />
<text x="55.55" y="337.90" font-size="6.8" text-anchor="middle" fill="#2a2a2a" font-style="italic" stroke="#2a2a2a" stroke-width="0.12">p=0.002</text>
<path d="M57.70,372.00 V369.50 H79.60 V372.00" stroke="#2a2a2a" stroke-width="1.0" fill="none" />
<text x="68.65" y="367.10" font-size="6.8" text-anchor="middle" fill="#2a2a2a" font-style="italic" stroke="#2a2a2a" stroke-width="0.12">p=0.015</text>
<path d="M92.30,309.00 V306.50 H127.30 V309.00" stroke="#2a2a2a" stroke-width="1.0" fill="none" />
<text x="109.80" y="303.50" font-size="6.8" text-anchor="middle" fill="#2a2a2a" font-style="italic" stroke="#2a2a2a" stroke-width="0.12">n.s.</text>
<path d="M92.30,318.00 V315.50 H113.50 V318.00" stroke="#2a2a2a" stroke-width="1.0" fill="none" />
<text x="102.90" y="312.60" font-size="6.8" text-anchor="middle" fill="#2a2a2a" font-style="italic" stroke="#2a2a2a" stroke-width="0.12">n.s.</text>
<path d="M105.60,363.00 V360.50 H127.50 V363.00" stroke="#2a2a2a" stroke-width="1.0" fill="none" />
<text x="116.55" y="357.20" font-size="6.8" text-anchor="middle" fill="#2a2a2a" font-style="italic" stroke="#2a2a2a" stroke-width="0.12">n.s.</text>
<path d="M140.20,283.00 V280.50 H174.80 V283.00" stroke="#2a2a2a" stroke-width="1.0" fill="none" />
<text x="157.50" y="277.60" font-size="6.8" text-anchor="middle" fill="#2a2a2a" font-style="italic" stroke="#2a2a2a" stroke-width="0.12">n.s.</text>
<path d="M140.20,295.00 V292.50 H161.70 V295.00" stroke="#2a2a2a" stroke-width="1.0" fill="none" />
<text x="150.95" y="289.50" font-size="6.8" text-anchor="middle" fill="#2a2a2a" font-style="italic" stroke="#2a2a2a" stroke-width="0.12">n.s.</text>
<path d="M153.40,357.00 V354.50 H175.50 V357.00" stroke="#2a2a2a" stroke-width="1.0" fill="none" />
<text x="164.45" y="352.00" font-size="6.8" text-anchor="middle" fill="#2a2a2a" font-style="italic" stroke="#2a2a2a" stroke-width="0.12">p=0.034</text>
<path d="M188.40,269.00 V266.50 H223.40 V269.00" stroke="#2a2a2a" stroke-width="1.0" fill="none" />
<text x="205.90" y="264.00" font-size="6.8" text-anchor="middle" fill="#2a2a2a" font-style="italic" stroke="#2a2a2a" stroke-width="0.12">n.s.</text>
<path d="M188.40,281.00 V278.50 H210.00 V281.00" stroke="#2a2a2a" stroke-width="1.0" fill="none" />
<text x="199.20" y="276.00" font-size="6.8" text-anchor="middle" fill="#2a2a2a" font-style="italic" stroke="#2a2a2a" stroke-width="0.12">n.s.</text>
<path d="M201.80,351.00 V348.50 H223.40 V351.00" stroke="#2a2a2a" stroke-width="1.0" fill="none" />
<text x="212.60" y="345.40" font-size="6.8" text-anchor="middle" fill="#2a2a2a" font-style="italic" stroke="#2a2a2a" stroke-width="0.12">p=0.016</text>
<text x="61.50" y="419.60" font-size="9.5" text-anchor="middle" fill="#222"  stroke="#222" stroke-width="0.06">5 ng</text>
<text x="109.60" y="419.60" font-size="9.5" text-anchor="middle" fill="#222"  stroke="#222" stroke-width="0.06">500 pg</text>
<text x="157.80" y="419.60" font-size="9.5" text-anchor="middle" fill="#222"  stroke="#222" stroke-width="0.06">50 pg</text>
<text x="205.90" y="419.60" font-size="9.5" text-anchor="middle" fill="#222"  stroke="#222" stroke-width="0.06">10 pg</text>
<text x="50.50" y="419.60" font-size="9.5" text-anchor="end" fill="#222"  stroke="#222" stroke-width="0.06">Input:</text>
<text x="0.00" y="430.20" font-size="9.5" text-anchor="start" fill="#222"  stroke="#222" stroke-width="0.06">PCR cycles:</text>
<text x="61.50" y="430.20" font-size="9.5" text-anchor="middle" fill="#222"  stroke="#222" stroke-width="0.06">7</text>
<text x="109.60" y="430.20" font-size="9.5" text-anchor="middle" fill="#222"  stroke="#222" stroke-width="0.06">11</text>
<text x="157.80" y="430.20" font-size="9.5" text-anchor="middle" fill="#222"  stroke="#222" stroke-width="0.06">15</text>
<text x="205.90" y="430.20" font-size="9.5" text-anchor="middle" fill="#222"  stroke="#222" stroke-width="0.06">17</text>
<text x="233.80" y="262.30" font-size="12" text-anchor="start" fill="#222" stroke="#222" stroke-width="0.12">c</text>
<line x1="267.30" y1="266.00" x2="267.30" y2="406.20" stroke="#333" stroke-width="1.1" />
<line x1="267.30" y1="406.20" x2="454.70" y2="406.20" stroke="#333" stroke-width="1.1" />
<line x1="263.00" y1="406.20" x2="267.30" y2="406.20" stroke="#333" stroke-width="1" />
<text x="261.00" y="409.20" font-size="8.5" text-anchor="end" fill="#222"  stroke="#222" stroke-width="0.06">0</text>
<line x1="263.00" y1="378.16" x2="267.30" y2="378.16" stroke="#333" stroke-width="1" />
<text x="261.00" y="381.16" font-size="8.5" text-anchor="end" fill="#222"  stroke="#222" stroke-width="0.06">20</text>
<line x1="263.00" y1="350.12" x2="267.30" y2="350.12" stroke="#333" stroke-width="1" />
<text x="261.00" y="353.12" font-size="8.5" text-anchor="end" fill="#222"  stroke="#222" stroke-width="0.06">40</text>
<line x1="263.00" y1="322.08" x2="267.30" y2="322.08" stroke="#333" stroke-width="1" />
<text x="261.00" y="325.08" font-size="8.5" text-anchor="end" fill="#222"  stroke="#222" stroke-width="0.06">60</text>
<line x1="263.00" y1="294.04" x2="267.30" y2="294.04" stroke="#333" stroke-width="1" />
<text x="261.00" y="297.04" font-size="8.5" text-anchor="end" fill="#222"  stroke="#222" stroke-width="0.06">80</text>
<line x1="263.00" y1="266.00" x2="267.30" y2="266.00" stroke="#333" stroke-width="1" />
<text x="261.00" y="269.00" font-size="8.5" text-anchor="end" fill="#222"  stroke="#222" stroke-width="0.06">100</text>
<text transform="translate(245.3,336.5) rotate(-90)" font-size="9.5" text-anchor="middle" fill="#222">Duplication rates (%)</text>
<line x1="288.70" y1="406.20" x2="288.70" y2="411.00" stroke="#333" stroke-width="1" />
<rect x="271.35" y="405.08" width="8.50" height="1.12" fill="#327fc3" stroke="#2a2a2a" stroke-width="0.9" />
<line x1="275.60" y1="404.38" x2="275.60" y2="405.78" stroke="#222" stroke-width="1" />
<line x1="273.40" y1="404.38" x2="277.80" y2="404.38" stroke="#222" stroke-width="1.1" />
<line x1="273.40" y1="405.78" x2="277.80" y2="405.78" stroke="#222" stroke-width="1.1" />
<rect x="284.45" y="405.50" width="8.50" height="0.70" fill="#e5882b" stroke="#2a2a2a" stroke-width="0.9" />
<line x1="288.70" y1="404.94" x2="288.70" y2="406.06" stroke="#222" stroke-width="1" />
<line x1="286.50" y1="404.94" x2="290.90" y2="404.94" stroke="#222" stroke-width="1.1" />
<line x1="286.50" y1="406.06" x2="290.90" y2="406.06" stroke="#222" stroke-width="1.1" />
<rect x="297.55" y="404.52" width="8.50" height="1.68" fill="#5da846" stroke="#2a2a2a" stroke-width="0.9" />
<line x1="301.80" y1="403.40" x2="301.80" y2="405.64" stroke="#222" stroke-width="1" />
<line x1="299.60" y1="403.40" x2="304.00" y2="403.40" stroke="#222" stroke-width="1.1" />
<line x1="299.60" y1="405.64" x2="304.00" y2="405.64" stroke="#222" stroke-width="1.1" />
<line x1="336.70" y1="406.20" x2="336.70" y2="411.00" stroke="#333" stroke-width="1" />
<rect x="319.35" y="398.91" width="8.50" height="7.29" fill="#327fc3" stroke="#2a2a2a" stroke-width="0.9" />
<line x1="323.60" y1="397.09" x2="323.60" y2="400.73" stroke="#222" stroke-width="1" />
<line x1="321.40" y1="397.09" x2="325.80" y2="397.09" stroke="#222" stroke-width="1.1" />
<line x1="321.40" y1="400.73" x2="325.80" y2="400.73" stroke="#222" stroke-width="1.1" />
<rect x="332.45" y="397.23" width="8.50" height="8.97" fill="#e5882b" stroke="#2a2a2a" stroke-width="0.9" />
<line x1="336.70" y1="392.74" x2="336.70" y2="401.71" stroke="#222" stroke-width="1" />
<line x1="334.50" y1="392.74" x2="338.90" y2="392.74" stroke="#222" stroke-width="1.1" />
<line x1="334.50" y1="401.71" x2="338.90" y2="401.71" stroke="#222" stroke-width="1.1" />
<rect x="345.55" y="396.95" width="8.50" height="9.25" fill="#5da846" stroke="#2a2a2a" stroke-width="0.9" />
<line x1="349.80" y1="396.25" x2="349.80" y2="397.65" stroke="#222" stroke-width="1" />
<line x1="347.60" y1="396.25" x2="352.00" y2="396.25" stroke="#222" stroke-width="1.1" />
<line x1="347.60" y1="397.65" x2="352.00" y2="397.65" stroke="#222" stroke-width="1.1" />
<line x1="384.70" y1="406.20" x2="384.70" y2="411.00" stroke="#333" stroke-width="1" />
<rect x="367.35" y="343.11" width="8.50" height="63.09" fill="#327fc3" stroke="#2a2a2a" stroke-width="0.9" />
<line x1="371.60" y1="334.00" x2="371.60" y2="352.22" stroke="#222" stroke-width="1" />
<line x1="369.40" y1="334.00" x2="373.80" y2="334.00" stroke="#222" stroke-width="1.1" />
<line x1="369.40" y1="352.22" x2="373.80" y2="352.22" stroke="#222" stroke-width="1.1" />
<rect x="380.45" y="331.33" width="8.50" height="74.87" fill="#e5882b" stroke="#2a2a2a" stroke-width="0.9" />
<line x1="384.70" y1="321.80" x2="384.70" y2="340.87" stroke="#222" stroke-width="1" />
<line x1="382.50" y1="321.80" x2="386.90" y2="321.80" stroke="#222" stroke-width="1.1" />
<line x1="382.50" y1="340.87" x2="386.90" y2="340.87" stroke="#222" stroke-width="1.1" />
<rect x="393.55" y="331.33" width="8.50" height="74.87" fill="#5da846" stroke="#2a2a2a" stroke-width="0.9" />
<line x1="397.80" y1="321.80" x2="397.80" y2="340.87" stroke="#222" stroke-width="1" />
<line x1="395.60" y1="321.80" x2="400.00" y2="321.80" stroke="#222" stroke-width="1.1" />
<line x1="395.60" y1="340.87" x2="400.00" y2="340.87" stroke="#222" stroke-width="1.1" />
<line x1="432.80" y1="406.20" x2="432.80" y2="411.00" stroke="#333" stroke-width="1" />
<rect x="415.45" y="299.23" width="8.50" height="106.97" fill="#327fc3" stroke="#2a2a2a" stroke-width="0.9" />
<line x1="419.70" y1="290.11" x2="419.70" y2="308.34" stroke="#222" stroke-width="1" />
<line x1="417.50" y1="290.11" x2="421.90" y2="290.11" stroke="#222" stroke-width="1.1" />
<line x1="417.50" y1="308.34" x2="421.90" y2="308.34" stroke="#222" stroke-width="1.1" />
<rect x="428.55" y="297.12" width="8.50" height="109.08" fill="#e5882b" stroke="#2a2a2a" stroke-width="0.9" />
<line x1="432.80" y1="290.53" x2="432.80" y2="303.71" stroke="#222" stroke-width="1" />
<line x1="430.60" y1="290.53" x2="435.00" y2="290.53" stroke="#222" stroke-width="1.1" />
<line x1="430.60" y1="303.71" x2="435.00" y2="303.71" stroke="#222" stroke-width="1.1" />
<rect x="441.65" y="280.30" width="8.50" height="125.90" fill="#5da846" stroke="#2a2a2a" stroke-width="0.9" />
<line x1="445.90" y1="276.80" x2="445.90" y2="283.81" stroke="#222" stroke-width="1" />
<line x1="443.70" y1="276.80" x2="448.10" y2="276.80" stroke="#222" stroke-width="1.1" />
<line x1="443.70" y1="283.81" x2="448.10" y2="283.81" stroke="#222" stroke-width="1.1" />
<circle cx="370.8" cy="330.8" r="0.8" fill="#333"/>
<circle cx="384.5" cy="344.5" r="0.8" fill="#333"/>
<circle cx="398.2" cy="344.5" r="0.8" fill="#333"/>
<circle cx="419.5" cy="287.9" r="0.8" fill="#333"/>
<circle cx="432.5" cy="289.6" r="0.8" fill="#333"/>
<circle cx="448" cy="281" r="0.8" fill="#333"/>
<circle cx="336.5" cy="392.5" r="0.8" fill="#333"/>
<rect x="280.20" y="266.90" width="13.00" height="4.90" fill="#327fc3" stroke="#222" stroke-width="0.9" />
<text x="296.80" y="272.80" font-size="9.5" text-anchor="start" fill="#222"  stroke="#222" stroke-width="0.06">UMBS-seq</text>
<rect x="280.20" y="279.00" width="13.00" height="4.90" fill="#e5882b" stroke="#222" stroke-width="0.9" />
<text x="296.80" y="284.90" font-size="9.5" text-anchor="start" fill="#222"  stroke="#222" stroke-width="0.06">EM-seq</text>
<rect x="280.20" y="290.40" width="13.00" height="4.90" fill="#5da846" stroke="#222" stroke-width="0.9" />
<text x="296.80" y="296.30" font-size="9.5" text-anchor="start" fill="#222"  stroke="#222" stroke-width="0.06">CBS-seq</text>
<path d="M271.70,381.00 V378.50 H306.70 V381.00" stroke="#2a2a2a" stroke-width="1.0" fill="none" />
<text x="289.20" y="376.10" font-size="6.8" text-anchor="middle" fill="#2a2a2a" font-style="italic" stroke="#2a2a2a" stroke-width="0.12">p=0.046</text>
<path d="M284.50,393.00 V390.50 H306.70 V393.00" stroke="#2a2a2a" stroke-width="1.0" fill="none" />
<text x="295.60" y="387.30" font-size="6.8" text-anchor="middle" fill="#2a2a2a" font-style="italic" stroke="#2a2a2a" stroke-width="0.12">n.s.</text>
<path d="M271.70,403.00 V400.50 H293.60 V403.00" stroke="#2a2a2a" stroke-width="1.0" fill="none" />
<text x="282.65" y="398.00" font-size="6.8" text-anchor="middle" fill="#2a2a2a" font-style="italic" stroke="#2a2a2a" stroke-width="0.12">n.s.</text>
<path d="M319.60,362.00 V359.50 H354.20 V362.00" stroke="#2a2a2a" stroke-width="1.0" fill="none" />
<text x="336.90" y="356.40" font-size="6.8" text-anchor="middle" fill="#2a2a2a" font-style="italic" stroke="#2a2a2a" stroke-width="0.12">p=0.044</text>
<path d="M332.30,376.00 V373.50 H354.20 V376.00" stroke="#2a2a2a" stroke-width="1.0" fill="none" />
<text x="343.25" y="370.70" font-size="6.8" text-anchor="middle" fill="#2a2a2a" font-style="italic" stroke="#2a2a2a" stroke-width="0.12">n.s.</text>
<path d="M319.60,386.00 V383.50 H341.50 V386.00" stroke="#2a2a2a" stroke-width="1.0" fill="none" />
<text x="330.55" y="380.90" font-size="6.8" text-anchor="middle" fill="#2a2a2a" font-style="italic" stroke="#2a2a2a" stroke-width="0.12">n.s.</text>
<path d="M367.50,290.00 V287.50 H402.70 V290.00" stroke="#2a2a2a" stroke-width="1.0" fill="none" />
<text x="385.10" y="284.60" font-size="6.8" text-anchor="middle" fill="#2a2a2a" font-style="italic" stroke="#2a2a2a" stroke-width="0.12">n.s.</text>
<path d="M380.70,302.00 V299.50 H402.70 V302.00" stroke="#2a2a2a" stroke-width="1.0" fill="none" />
<text x="391.70" y="296.30" font-size="6.8" text-anchor="middle" fill="#2a2a2a" font-style="italic" stroke="#2a2a2a" stroke-width="0.12">n.s.</text>
<path d="M367.50,312.00 V309.50 H389.50 V312.00" stroke="#2a2a2a" stroke-width="1.0" fill="none" />
<text x="378.50" y="306.60" font-size="6.8" text-anchor="middle" fill="#2a2a2a" font-style="italic" stroke="#2a2a2a" stroke-width="0.12">n.s.</text>
<path d="M415.70,256.00 V253.50 H450.90 V256.00" stroke="#2a2a2a" stroke-width="1.0" fill="none" />
<text x="433.30" y="250.40" font-size="6.8" text-anchor="middle" fill="#2a2a2a" font-style="italic" stroke="#2a2a2a" stroke-width="0.12">p=0.025</text>
<path d="M428.40,268.00 V265.50 H450.90 V268.00" stroke="#2a2a2a" stroke-width="1.0" fill="none" />
<text x="439.65" y="262.60" font-size="6.8" text-anchor="middle" fill="#2a2a2a" font-style="italic" stroke="#2a2a2a" stroke-width="0.12">p=0.009</text>
<path d="M415.70,281.00 V278.50 H437.70 V281.00" stroke="#2a2a2a" stroke-width="1.0" fill="none" />
<text x="426.70" y="275.40" font-size="6.8" text-anchor="middle" fill="#2a2a2a" font-style="italic" stroke="#2a2a2a" stroke-width="0.12">n.s.</text>
<text x="288.70" y="420.10" font-size="9.5" text-anchor="middle" fill="#222"  stroke="#222" stroke-width="0.06">5 ng</text>
<text x="336.70" y="420.10" font-size="9.5" text-anchor="middle" fill="#222"  stroke="#222" stroke-width="0.06">500 pg</text>
<text x="384.70" y="420.10" font-size="9.5" text-anchor="middle" fill="#222"  stroke="#222" stroke-width="0.06">50 pg</text>
<text x="432.80" y="420.10" font-size="9.5" text-anchor="middle" fill="#222"  stroke="#222" stroke-width="0.06">10 pg</text>
<text x="360.80" y="431.20" font-size="9.6" text-anchor="middle" fill="#222"  stroke="#222" stroke-width="0.06">DNA Input</text>
<text x="460.70" y="261.90" font-size="12" text-anchor="start" fill="#222" stroke="#222" stroke-width="0.12">d</text>
<line x1="491.40" y1="263.10" x2="491.40" y2="406.50" stroke="#333" stroke-width="1.1" />
<line x1="491.40" y1="406.50" x2="680.60" y2="406.50" stroke="#333" stroke-width="1.1" />
<line x1="487.20" y1="400.40" x2="491.40" y2="400.40" stroke="#333" stroke-width="1" />
<text x="485.50" y="403.40" font-size="8.3" text-anchor="end" fill="#222"  stroke="#222" stroke-width="0.06">0</text>
<line x1="487.20" y1="371.50" x2="491.40" y2="371.50" stroke="#333" stroke-width="1" />
<text x="485.50" y="374.50" font-size="8.3" text-anchor="end" fill="#222"  stroke="#222" stroke-width="0.06">5</text>
<line x1="487.20" y1="342.60" x2="491.40" y2="342.60" stroke="#333" stroke-width="1" />
<text x="485.50" y="345.60" font-size="8.3" text-anchor="end" fill="#222"  stroke="#222" stroke-width="0.06">10</text>
<line x1="487.20" y1="313.70" x2="491.40" y2="313.70" stroke="#333" stroke-width="1" />
<text x="485.50" y="316.70" font-size="8.3" text-anchor="end" fill="#222"  stroke="#222" stroke-width="0.06">15</text>
<line x1="487.20" y1="284.80" x2="491.40" y2="284.80" stroke="#333" stroke-width="1" />
<text x="485.50" y="287.80" font-size="8.3" text-anchor="end" fill="#222"  stroke="#222" stroke-width="0.06">20</text>
<text x="485.50" y="272.80" font-size="8.3" text-anchor="end" fill="#222"  stroke="#222" stroke-width="0.06">1^-3</text>
<line x1="500.00" y1="406.50" x2="500.00" y2="410.60" stroke="#333" stroke-width="1" />
<text x="500.00" y="420.80" font-size="8.3" text-anchor="middle" fill="#222"  stroke="#222" stroke-width="0.06">0</text>
<line x1="534.55" y1="406.50" x2="534.55" y2="410.60" stroke="#333" stroke-width="1" />
<text x="534.55" y="420.80" font-size="8.3" text-anchor="middle" fill="#222"  stroke="#222" stroke-width="0.06">100</text>
<line x1="569.10" y1="406.50" x2="569.10" y2="410.60" stroke="#333" stroke-width="1" />
<text x="569.10" y="420.80" font-size="8.3" text-anchor="middle" fill="#222"  stroke="#222" stroke-width="0.06">200</text>
<line x1="603.65" y1="406.50" x2="603.65" y2="410.60" stroke="#333" stroke-width="1" />
<text x="603.65" y="420.80" font-size="8.3" text-anchor="middle" fill="#222"  stroke="#222" stroke-width="0.06">300</text>
<line x1="638.20" y1="406.50" x2="638.20" y2="410.60" stroke="#333" stroke-width="1" />
<text x="638.20" y="420.80" font-size="8.3" text-anchor="middle" fill="#222"  stroke="#222" stroke-width="0.06">400</text>
<line x1="672.75" y1="406.50" x2="672.75" y2="410.60" stroke="#333" stroke-width="1" />
<text x="672.75" y="420.80" font-size="8.3" text-anchor="middle" fill="#222"  stroke="#222" stroke-width="0.06">500</text>
<text transform="translate(470.9,341.6) rotate(-90)" font-size="9.5" text-anchor="middle" fill="#222">Density</text>
<text x="586.00" y="430.60" font-size="9.6" text-anchor="middle" fill="#222"  stroke="#222" stroke-width="0.06">DNA insert (bp)</text>
<line x1="567.60" y1="266.10" x2="567.60" y2="406.50" stroke="#4caf3f" stroke-width="1.2" />
<line x1="574.60" y1="266.10" x2="574.60" y2="406.50" stroke="#ef8a2a" stroke-width="1.2" />
<line x1="576.00" y1="266.10" x2="576.00" y2="406.50" stroke="#3b86cf" stroke-width="1.2" />
<path d="M500.00,400.40 L500.69,400.40 L501.38,400.40 L502.07,400.40 L502.76,400.40 L503.45,400.40 L504.15,400.40 L504.84,400.40 L505.53,400.39 L506.22,400.39 L506.91,400.39 L507.60,400.39 L508.29,400.39 L508.98,400.39 L509.67,400.39 L510.37,400.38 L511.06,400.38 L511.75,400.38 L512.44,400.37 L513.13,400.37 L513.82,400.36 L514.51,400.36 L515.20,400.35 L515.89,400.34 L516.58,400.33 L517.27,400.32 L517.97,400.31 L518.66,400.30 L519.35,400.28 L520.04,400.26 L520.73,400.25 L521.42,400.22 L522.11,400.20 L522.80,400.18 L523.49,400.15 L524.18,400.12 L524.88,400.09 L525.57,400.06 L526.26,400.03 L526.95,400.00 L527.64,399.96 L528.33,399.93 L529.02,399.89 L529.71,399.85 L530.40,399.81 L531.10,399.76 L531.79,399.70 L532.48,399.63 L533.17,399.55 L533.86,399.44 L534.55,399.31 L535.24,399.14 L535.93,398.93 L536.62,398.67 L537.31,398.35 L538.00,397.94 L538.70,397.44 L539.39,396.84 L540.08,396.11 L540.77,395.23 L541.46,394.20 L542.15,392.98 L542.84,391.58 L543.53,389.96 L544.22,388.13 L544.91,386.07 L545.61,383.78 L546.30,381.27 L546.99,378.55 L547.68,375.63 L548.37,372.55 L549.06,369.30 L549.75,365.91 L550.44,362.30 L551.13,358.32 L551.83,353.64 L552.52,347.72 L553.21,339.87 L553.90,329.51 L554.59,316.55 L555.28,301.79 L555.97,287.18 L556.66,275.39 L557.35,269.09 L558.04,269.37 L558.74,274.49 L559.43,283.41 L560.12,294.75 L560.81,306.99 L561.50,318.81 L562.19,329.30 L562.88,338.07 L563.57,345.11 L564.26,350.70 L564.95,355.20 L565.64,358.97 L566.34,362.28 L567.03,365.32 L567.72,368.18 L568.41,370.92 L569.10,373.55 L569.79,376.07 L570.48,378.47 L571.17,380.74 L571.86,382.86 L572.55,384.83 L573.25,386.65 L573.94,388.31 L574.63,389.81 L575.32,391.17 L576.01,392.38 L576.70,393.45 L577.39,394.39 L578.08,395.22 L578.77,395.93 L579.47,396.54 L580.16,397.06 L580.85,397.50 L581.54,397.87 L582.23,398.17 L582.92,398.42 L583.61,398.63 L584.30,398.79 L584.99,398.92 L585.68,399.01 L586.38,399.08 L587.07,399.13 L587.76,399.17 L588.45,399.18 L589.14,399.19 L589.83,399.18 L590.52,399.16 L591.21,399.14 L591.90,399.11 L592.59,399.07 L593.28,399.03 L593.98,398.98 L594.67,398.93 L595.36,398.88 L596.05,398.82 L596.74,398.75 L597.43,398.69 L598.12,398.62 L598.81,398.55 L599.50,398.47 L600.19,398.40 L600.89,398.32 L601.58,398.24 L602.27,398.16 L602.96,398.08 L603.65,397.99 L604.34,397.91 L605.03,397.82 L605.72,397.74 L606.41,397.65 L607.11,397.56 L607.80,397.48 L608.49,397.40 L609.18,397.32 L609.87,397.24 L610.56,397.16 L611.25,397.09 L611.94,397.02 L612.63,396.95 L613.32,396.89 L614.01,396.83 L614.71,396.77 L615.40,396.72 L616.09,396.68 L616.78,396.64 L617.47,396.60 L618.16,396.58 L618.85,396.56 L619.54,396.54 L620.23,396.53 L620.92,396.53 L621.62,396.53 L622.31,396.54 L623.00,396.56 L623.69,396.58 L624.38,396.60 L625.07,396.64 L625.76,396.68 L626.45,396.72 L627.14,396.77 L627.84,396.83 L628.53,396.89 L629.22,396.95 L629.91,397.02 L630.60,397.09 L631.29,397.16 L631.98,397.24 L632.67,397.32 L633.36,397.40 L634.05,397.48 L634.75,397.56 L635.44,397.65 L636.13,397.74 L636.82,397.82 L637.51,397.91 L638.20,397.99 L638.89,398.08 L639.58,398.16 L640.27,398.24 L640.96,398.32 L641.65,398.40 L642.35,398.48 L643.04,398.55 L643.73,398.62 L644.42,398.69 L645.11,398.76 L645.80,398.82 L646.49,398.88 L647.18,398.94 L647.87,399.00 L648.57,399.05 L649.26,399.10 L649.95,399.15 L650.64,399.19 L651.33,399.24 L652.02,399.28 L652.71,399.31 L653.40,399.35 L654.09,399.38 L654.78,399.41 L655.48,399.44 L656.17,399.46 L656.86,399.49 L657.55,399.51 L658.24,399.53 L658.93,399.55 L659.62,399.56 L660.31,399.58 L661.00,399.59 L661.69,399.60 L662.38,399.62 L663.08,399.63 L663.77,399.64 L664.46,399.64 L665.15,399.65 L665.84,399.66 L666.53,399.66 L667.22,399.67 L667.91,399.67 L668.60,399.68 L669.29,399.68 L669.99,399.68 L670.68,399.69 L671.37,399.69 L672.06,399.69 L672.75,399.69 L672.75,400.40 L500.00,400.40 Z" fill="#b3d89d"/>
<path d="M500.00,400.40 L500.69,400.40 L501.38,400.40 L502.07,400.40 L502.76,400.40 L503.45,400.40 L504.15,400.40 L504.84,400.40 L505.53,400.39 L506.22,400.39 L506.91,400.39 L507.60,400.39 L508.29,400.39 L508.98,400.39 L509.67,400.39 L510.37,400.38 L511.06,400.38 L511.75,400.38 L512.44,400.37 L513.13,400.37 L513.82,400.36 L514.51,400.36 L515.20,400.35 L515.89,400.34 L516.58,400.33 L517.27,400.32 L517.97,400.31 L518.66,400.30 L519.35,400.28 L520.04,400.26 L520.73,400.25 L521.42,400.22 L522.11,400.20 L522.80,400.18 L523.49,400.15 L524.18,400.12 L524.88,400.09 L525.57,400.06 L526.26,400.03 L526.95,400.00 L527.64,399.96 L528.33,399.93 L529.02,399.89 L529.71,399.85 L530.40,399.81 L531.10,399.76 L531.79,399.70 L532.48,399.63 L533.17,399.55 L533.86,399.44 L534.55,399.31 L535.24,399.14 L535.93,398.93 L536.62,398.67 L537.31,398.35 L538.00,397.94 L538.70,397.44 L539.39,396.84 L540.08,396.11 L540.77,395.23 L541.46,394.20 L542.15,392.98 L542.84,391.58 L543.53,389.96 L544.22,388.13 L544.91,386.07 L545.61,383.78 L546.30,381.27 L546.99,378.55 L547.68,375.63 L548.37,372.55 L549.06,369.30 L549.75,365.91 L550.44,362.30 L551.13,358.32 L551.83,353.64 L552.52,347.72 L553.21,339.87 L553.90,329.51 L554.59,316.55 L555.28,301.79 L555.97,287.18 L556.66,275.39 L557.35,269.09 L558.04,269.37 L558.74,274.49 L559.43,283.41 L560.12,294.75 L560.81,306.99 L561.50,318.81 L562.19,329.30 L562.88,338.07 L563.57,345.11 L564.26,350.70 L564.95,355.20 L565.64,358.97 L566.34,362.28 L567.03,365.32 L567.72,368.18 L568.41,370.92 L569.10,373.55 L569.79,376.07 L570.48,378.47 L571.17,380.74 L571.86,382.86 L572.55,384.83 L573.25,386.65 L573.94,388.31 L574.63,389.81 L575.32,391.17 L576.01,392.38 L576.70,393.45 L577.39,394.39 L578.08,395.22 L578.77,395.93 L579.47,396.54 L580.16,397.06 L580.85,397.50 L581.54,397.87 L582.23,398.17 L582.92,398.42 L583.61,398.63 L584.30,398.79 L584.99,398.92 L585.68,399.01 L586.38,399.08 L587.07,399.13 L587.76,399.17 L588.45,399.18 L589.14,399.19 L589.83,399.18 L590.52,399.16 L591.21,399.14 L591.90,399.11 L592.59,399.07 L593.28,399.03 L593.98,398.98 L594.67,398.93 L595.36,398.88 L596.05,398.82 L596.74,398.75 L597.43,398.69 L598.12,398.62 L598.81,398.55 L599.50,398.47 L600.19,398.40 L600.89,398.32 L601.58,398.24 L602.27,398.16 L602.96,398.08 L603.65,397.99 L604.34,397.91 L605.03,397.82 L605.72,397.74 L606.41,397.65 L607.11,397.56 L607.80,397.48 L608.49,397.40 L609.18,397.32 L609.87,397.24 L610.56,397.16 L611.25,397.09 L611.94,397.02 L612.63,396.95 L613.32,396.89 L614.01,396.83 L614.71,396.77 L615.40,396.72 L616.09,396.68 L616.78,396.64 L617.47,396.60 L618.16,396.58 L618.85,396.56 L619.54,396.54 L620.23,396.53 L620.92,396.53 L621.62,396.53 L622.31,396.54 L623.00,396.56 L623.69,396.58 L624.38,396.60 L625.07,396.64 L625.76,396.68 L626.45,396.72 L627.14,396.77 L627.84,396.83 L628.53,396.89 L629.22,396.95 L629.91,397.02 L630.60,397.09 L631.29,397.16 L631.98,397.24 L632.67,397.32 L633.36,397.40 L634.05,397.48 L634.75,397.56 L635.44,397.65 L636.13,397.74 L636.82,397.82 L637.51,397.91 L638.20,397.99 L638.89,398.08 L639.58,398.16 L640.27,398.24 L640.96,398.32 L641.65,398.40 L642.35,398.48 L643.04,398.55 L643.73,398.62 L644.42,398.69 L645.11,398.76 L645.80,398.82 L646.49,398.88 L647.18,398.94 L647.87,399.00 L648.57,399.05 L649.26,399.10 L649.95,399.15 L650.64,399.19 L651.33,399.24 L652.02,399.28 L652.71,399.31 L653.40,399.35 L654.09,399.38 L654.78,399.41 L655.48,399.44 L656.17,399.46 L656.86,399.49 L657.55,399.51 L658.24,399.53 L658.93,399.55 L659.62,399.56 L660.31,399.58 L661.00,399.59 L661.69,399.60 L662.38,399.62 L663.08,399.63 L663.77,399.64 L664.46,399.64 L665.15,399.65 L665.84,399.66 L666.53,399.66 L667.22,399.67 L667.91,399.67 L668.60,399.68 L669.29,399.68 L669.99,399.68 L670.68,399.69 L671.37,399.69 L672.06,399.69 L672.75,399.69" stroke="#111" stroke-width="1.3" fill="none" />
<path d="M500.00,400.40 L500.69,400.40 L501.38,400.40 L502.07,400.40 L502.76,400.40 L503.45,400.40 L504.15,400.40 L504.84,400.40 L505.53,400.39 L506.22,400.39 L506.91,400.39 L507.60,400.39 L508.29,400.39 L508.98,400.39 L509.67,400.39 L510.37,400.38 L511.06,400.38 L511.75,400.38 L512.44,400.37 L513.13,400.37 L513.82,400.36 L514.51,400.36 L515.20,400.35 L515.89,400.34 L516.58,400.33 L517.27,400.32 L517.97,400.31 L518.66,400.30 L519.35,400.28 L520.04,400.26 L520.73,400.25 L521.42,400.22 L522.11,400.20 L522.80,400.18 L523.49,400.15 L524.18,400.12 L524.88,400.10 L525.57,400.07 L526.26,400.04 L526.95,400.01 L527.64,399.98 L528.33,399.95 L529.02,399.92 L529.71,399.89 L530.40,399.86 L531.10,399.84 L531.79,399.81 L532.48,399.77 L533.17,399.74 L533.86,399.69 L534.55,399.64 L535.24,399.58 L535.93,399.50 L536.62,399.40 L537.31,399.28 L538.00,399.12 L538.70,398.92 L539.39,398.67 L540.08,398.36 L540.77,397.97 L541.46,397.51 L542.15,396.94 L542.84,396.26 L543.53,395.45 L544.22,394.51 L544.91,393.41 L545.61,392.14 L546.30,390.68 L546.99,389.02 L547.68,387.13 L548.37,384.96 L549.06,382.45 L549.75,379.53 L550.44,376.09 L551.13,371.97 L551.83,367.04 L552.52,361.17 L553.21,354.25 L553.90,346.31 L554.59,337.51 L555.28,328.16 L555.97,318.77 L556.66,310.00 L557.35,302.56 L558.04,297.14 L558.74,294.28 L559.43,294.09 L560.12,295.47 L560.81,298.15 L561.50,302.00 L562.19,306.80 L562.88,312.32 L563.57,318.29 L564.26,324.47 L564.95,330.63 L565.64,336.57 L566.34,342.16 L567.03,347.30 L567.72,351.92 L568.41,356.03 L569.10,359.63 L569.79,362.77 L570.48,365.51 L571.17,367.90 L571.86,370.01 L572.55,371.89 L573.25,373.59 L573.94,375.14 L574.63,376.59 L575.32,377.96 L576.01,379.25 L576.70,380.48 L577.39,381.66 L578.08,382.79 L578.77,383.87 L579.47,384.90 L580.16,385.88 L580.85,386.82 L581.54,387.70 L582.23,388.53 L582.92,389.32 L583.61,390.05 L584.30,390.73 L584.99,391.35 L585.68,391.93 L586.38,392.46 L587.07,392.94 L587.76,393.37 L588.45,393.75 L589.14,394.10 L589.83,394.40 L590.52,394.65 L591.21,394.87 L591.90,395.05 L592.59,395.20 L593.28,395.31 L593.98,395.39 L594.67,395.43 L595.36,395.45 L596.05,395.43 L596.74,395.38 L597.43,395.30 L598.12,395.19 L598.81,395.04 L599.50,394.86 L600.19,394.64 L600.89,394.39 L601.58,394.10 L602.27,393.78 L602.96,393.42 L603.65,393.04 L604.34,392.63 L605.03,392.20 L605.72,391.75 L606.41,391.30 L607.11,390.85 L607.80,390.42 L608.49,390.00 L609.18,389.61 L609.87,389.26 L610.56,388.94 L611.25,388.67 L611.94,388.44 L612.63,388.24 L613.32,388.08 L614.01,387.95 L614.71,387.85 L615.40,387.76 L616.09,387.67 L616.78,387.59 L617.47,387.51 L618.16,387.41 L618.85,387.31 L619.54,387.19 L620.23,387.07 L620.92,386.94 L621.62,386.80 L622.31,386.67 L623.00,386.55 L623.69,386.45 L624.38,386.36 L625.07,386.31 L625.76,386.29 L626.45,386.31 L627.14,386.37 L627.84,386.48 L628.53,386.63 L629.22,386.83 L629.91,387.08 L630.60,387.37 L631.29,387.70 L631.98,388.07 L632.67,388.47 L633.36,388.91 L634.05,389.36 L634.75,389.83 L635.44,390.31 L636.13,390.81 L636.82,391.30 L637.51,391.79 L638.20,392.27 L638.89,392.74 L639.58,393.20 L640.27,393.64 L640.96,394.05 L641.65,394.45 L642.35,394.83 L643.04,395.18 L643.73,395.51 L644.42,395.81 L645.11,396.10 L645.80,396.36 L646.49,396.59 L647.18,396.81 L647.87,397.00 L648.57,397.18 L649.26,397.34 L649.95,397.48 L650.64,397.61 L651.33,397.73 L652.02,397.83 L652.71,397.93 L653.40,398.01 L654.09,398.09 L654.78,398.16 L655.48,398.23 L656.17,398.29 L656.86,398.35 L657.55,398.41 L658.24,398.46 L658.93,398.51 L659.62,398.56 L660.31,398.60 L661.00,398.64 L661.69,398.68 L662.38,398.72 L663.08,398.75 L663.77,398.79 L664.46,398.82 L665.15,398.84 L665.84,398.87 L666.53,398.89 L667.22,398.92 L667.91,398.94 L668.60,398.96 L669.29,398.97 L669.99,398.99 L670.68,399.00 L671.37,399.02 L672.06,399.03 L672.75,399.04 L672.75,400.40 L500.00,400.40 Z" fill="#5f8ca8"/>
<line x1="567.60" y1="266.10" x2="567.60" y2="406.50" stroke="#4caf3f" stroke-width="1.2" opacity="0.3"/>
<line x1="574.60" y1="266.10" x2="574.60" y2="406.50" stroke="#ef8a2a" stroke-width="1.2" opacity="0.3"/>
<line x1="576.00" y1="266.10" x2="576.00" y2="406.50" stroke="#3b86cf" stroke-width="1.2" opacity="0.3"/>
<path d="M500.00,400.40 L500.69,400.40 L501.38,400.40 L502.07,400.40 L502.76,400.40 L503.45,400.40 L504.15,400.40 L504.84,400.40 L505.53,400.39 L506.22,400.39 L506.91,400.39 L507.60,400.39 L508.29,400.39 L508.98,400.39 L509.67,400.39 L510.37,400.38 L511.06,400.38 L511.75,400.38 L512.44,400.37 L513.13,400.37 L513.82,400.36 L514.51,400.36 L515.20,400.35 L515.89,400.34 L516.58,400.33 L517.27,400.32 L517.97,400.31 L518.66,400.30 L519.35,400.28 L520.04,400.26 L520.73,400.25 L521.42,400.22 L522.11,400.20 L522.80,400.18 L523.49,400.15 L524.18,400.12 L524.88,400.10 L525.57,400.07 L526.26,400.04 L526.95,400.01 L527.64,399.98 L528.33,399.95 L529.02,399.92 L529.71,399.89 L530.40,399.86 L531.10,399.84 L531.79,399.81 L532.48,399.77 L533.17,399.74 L533.86,399.69 L534.55,399.64 L535.24,399.58 L535.93,399.50 L536.62,399.40 L537.31,399.27 L538.00,399.11 L538.70,398.91 L539.39,398.66 L540.08,398.34 L540.77,397.96 L541.46,397.48 L542.15,396.92 L542.84,396.23 L543.53,395.43 L544.22,394.48 L544.91,393.38 L545.61,392.11 L546.30,390.65 L546.99,388.99 L547.68,387.10 L548.37,384.93 L549.06,382.42 L549.75,379.50 L550.44,376.04 L551.13,371.91 L551.83,366.96 L552.52,361.06 L553.21,354.14 L553.90,346.22 L554.59,337.46 L555.28,328.21 L555.97,318.98 L556.66,310.43 L557.35,303.26 L558.04,298.15 L558.74,295.61 L559.43,295.63 L560.12,297.13 L560.81,299.92 L561.50,303.83 L562.19,308.68 L562.88,314.20 L563.57,320.16 L564.26,326.30 L564.95,332.40 L565.64,338.29 L566.34,343.81 L567.03,348.87 L567.72,353.43 L568.41,357.48 L569.10,361.04 L569.79,364.14 L570.48,366.85 L571.17,369.23 L571.86,371.33 L572.55,373.21 L573.25,374.91 L573.94,376.47 L574.63,377.92 L575.32,379.28 L576.01,380.57 L576.70,381.79 L577.39,382.96 L578.08,384.08 L578.77,385.14 L579.47,386.15 L580.16,387.11 L580.85,388.02 L581.54,388.88 L582.23,389.68 L582.92,390.43 L583.61,391.12 L584.30,391.77 L584.99,392.36 L585.68,392.91 L586.38,393.41 L587.07,393.86 L587.76,394.27 L588.45,394.64 L589.14,394.97 L589.83,395.27 L590.52,395.54 L591.21,395.77 L591.90,395.98 L592.59,396.16 L593.28,396.31 L593.98,396.45 L594.67,396.56 L595.36,396.66 L596.05,396.73 L596.74,396.79 L597.43,396.84 L598.12,396.87 L598.81,396.89 L599.50,396.89 L600.19,396.87 L600.89,396.85 L601.58,396.81 L602.27,396.76 L602.96,396.69 L603.65,396.61 L604.34,396.51 L605.03,396.41 L605.72,396.29 L606.41,396.15 L607.11,396.01 L607.80,395.85 L608.49,395.69 L609.18,395.52 L609.87,395.33 L610.56,395.15 L611.25,394.95 L611.94,394.76 L612.63,394.56 L613.32,394.36 L614.01,394.17 L614.71,393.98 L615.40,393.80 L616.09,393.62 L616.78,393.46 L617.47,393.31 L618.16,393.17 L618.85,393.05 L619.54,392.94 L620.23,392.85 L620.92,392.78 L621.62,392.73 L622.31,392.71 L623.00,392.70 L623.69,392.71 L624.38,392.75 L625.07,392.80 L625.76,392.88 L626.45,392.97 L627.14,393.09 L627.84,393.22 L628.53,393.37 L629.22,393.54 L629.91,393.72 L630.60,393.91 L631.29,394.12 L631.98,394.33 L632.67,394.55 L633.36,394.78 L634.05,395.01 L634.75,395.24 L635.44,395.47 L636.13,395.71 L636.82,395.94 L637.51,396.17 L638.20,396.39 L638.89,396.61 L639.58,396.82 L640.27,397.02 L640.96,397.22 L641.65,397.40 L642.35,397.58 L643.04,397.75 L643.73,397.90 L644.42,398.05 L645.11,398.18 L645.80,398.31 L646.49,398.42 L647.18,398.52 L647.87,398.62 L648.57,398.70 L649.26,398.78 L649.95,398.85 L650.64,398.91 L651.33,398.96 L652.02,399.00 L652.71,399.04 L653.40,399.07 L654.09,399.10 L654.78,399.12 L655.48,399.14 L656.17,399.15 L656.86,399.16 L657.55,399.17 L658.24,399.17 L658.93,399.18 L659.62,399.18 L660.31,399.18 L661.00,399.18 L661.69,399.18 L662.38,399.17 L663.08,399.17 L663.77,399.17 L664.46,399.17 L665.15,399.17 L665.84,399.17 L666.53,399.17 L667.22,399.18 L667.91,399.18 L668.60,399.18 L669.29,399.19 L669.99,399.20 L670.68,399.20 L671.37,399.21 L672.06,399.22 L672.75,399.24" stroke="#234a6e" stroke-width="1.1" fill="none" />
<path d="M500.00,400.40 L500.69,400.40 L501.38,400.40 L502.07,400.40 L502.76,400.40 L503.45,400.40 L504.15,400.40 L504.84,400.40 L505.53,400.39 L506.22,400.39 L506.91,400.39 L507.60,400.39 L508.29,400.39 L508.98,400.39 L509.67,400.39 L510.37,400.38 L511.06,400.38 L511.75,400.38 L512.44,400.37 L513.13,400.37 L513.82,400.36 L514.51,400.36 L515.20,400.35 L515.89,400.34 L516.58,400.33 L517.27,400.32 L517.97,400.31 L518.66,400.30 L519.35,400.28 L520.04,400.26 L520.73,400.25 L521.42,400.22 L522.11,400.20 L522.80,400.18 L523.49,400.15 L524.18,400.12 L524.88,400.10 L525.57,400.07 L526.26,400.04 L526.95,400.01 L527.64,399.98 L528.33,399.95 L529.02,399.92 L529.71,399.89 L530.40,399.86 L531.10,399.84 L531.79,399.81 L532.48,399.77 L533.17,399.74 L533.86,399.69 L534.55,399.64 L535.24,399.58 L535.93,399.50 L536.62,399.40 L537.31,399.28 L538.00,399.12 L538.70,398.92 L539.39,398.67 L540.08,398.36 L540.77,397.97 L541.46,397.51 L542.15,396.94 L542.84,396.26 L543.53,395.45 L544.22,394.51 L544.91,393.41 L545.61,392.14 L546.30,390.68 L546.99,389.02 L547.68,387.13 L548.37,384.96 L549.06,382.45 L549.75,379.53 L550.44,376.09 L551.13,371.97 L551.83,367.04 L552.52,361.17 L553.21,354.25 L553.90,346.31 L554.59,337.51 L555.28,328.16 L555.97,318.77 L556.66,310.00 L557.35,302.56 L558.04,297.14 L558.74,294.28 L559.43,294.09 L560.12,295.47 L560.81,298.15 L561.50,302.00 L562.19,306.80 L562.88,312.32 L563.57,318.29 L564.26,324.47 L564.95,330.63 L565.64,336.57 L566.34,342.16 L567.03,347.30 L567.72,351.92 L568.41,356.03 L569.10,359.63 L569.79,362.77 L570.48,365.51 L571.17,367.90 L571.86,370.01 L572.55,371.89 L573.25,373.59 L573.94,375.14 L574.63,376.59 L575.32,377.96 L576.01,379.25 L576.70,380.48 L577.39,381.66 L578.08,382.79 L578.77,383.87 L579.47,384.90 L580.16,385.88 L580.85,386.82 L581.54,387.70 L582.23,388.53 L582.92,389.32 L583.61,390.05 L584.30,390.73 L584.99,391.35 L585.68,391.93 L586.38,392.46 L587.07,392.94 L587.76,393.37 L588.45,393.75 L589.14,394.10 L589.83,394.40 L590.52,394.65 L591.21,394.87 L591.90,395.05 L592.59,395.20 L593.28,395.31 L593.98,395.39 L594.67,395.43 L595.36,395.45 L596.05,395.43 L596.74,395.38 L597.43,395.30 L598.12,395.19 L598.81,395.04 L599.50,394.86 L600.19,394.64 L600.89,394.39 L601.58,394.10 L602.27,393.78 L602.96,393.42 L603.65,393.04 L604.34,392.63 L605.03,392.20 L605.72,391.75 L606.41,391.30 L607.11,390.85 L607.80,390.42 L608.49,390.00 L609.18,389.61 L609.87,389.26 L610.56,388.94 L611.25,388.67 L611.94,388.44 L612.63,388.24 L613.32,388.08 L614.01,387.95 L614.71,387.85 L615.40,387.76 L616.09,387.67 L616.78,387.59 L617.47,387.51 L618.16,387.41 L618.85,387.31 L619.54,387.19 L620.23,387.07 L620.92,386.94 L621.62,386.80 L622.31,386.67 L623.00,386.55 L623.69,386.45 L624.38,386.36 L625.07,386.31 L625.76,386.29 L626.45,386.31 L627.14,386.37 L627.84,386.48 L628.53,386.63 L629.22,386.83 L629.91,387.08 L630.60,387.37 L631.29,387.70 L631.98,388.07 L632.67,388.47 L633.36,388.91 L634.05,389.36 L634.75,389.83 L635.44,390.31 L636.13,390.81 L636.82,391.30 L637.51,391.79 L638.20,392.27 L638.89,392.74 L639.58,393.20 L640.27,393.64 L640.96,394.05 L641.65,394.45 L642.35,394.83 L643.04,395.18 L643.73,395.51 L644.42,395.81 L645.11,396.10 L645.80,396.36 L646.49,396.59 L647.18,396.81 L647.87,397.00 L648.57,397.18 L649.26,397.34 L649.95,397.48 L650.64,397.61 L651.33,397.73 L652.02,397.83 L652.71,397.93 L653.40,398.01 L654.09,398.09 L654.78,398.16 L655.48,398.23 L656.17,398.29 L656.86,398.35 L657.55,398.41 L658.24,398.46 L658.93,398.51 L659.62,398.56 L660.31,398.60 L661.00,398.64 L661.69,398.68 L662.38,398.72 L663.08,398.75 L663.77,398.79 L664.46,398.82 L665.15,398.84 L665.84,398.87 L666.53,398.89 L667.22,398.92 L667.91,398.94 L668.60,398.96 L669.29,398.97 L669.99,398.99 L670.68,399.00 L671.37,399.02 L672.06,399.03 L672.75,399.04" stroke="#1d4b75" stroke-width="1.6" fill="none" />
<rect x="616.10" y="266.60" width="14.60" height="5.30" fill="#327fc3" stroke="#222" stroke-width="0.9" />
<text x="634.20" y="272.80" font-size="8.7" text-anchor="start" fill="#222"  stroke="#222" stroke-width="0.06">UMBS-seq</text>
<rect x="616.10" y="278.30" width="14.60" height="5.30" fill="#e5882b" stroke="#222" stroke-width="0.9" />
<text x="634.20" y="284.50" font-size="8.7" text-anchor="start" fill="#222"  stroke="#222" stroke-width="0.06">EM-seq</text>
<rect x="616.10" y="289.80" width="14.60" height="5.30" fill="#5da846" stroke="#222" stroke-width="0.9" />
<text x="634.20" y="296.00" font-size="8.7" text-anchor="start" fill="#222"  stroke="#222" stroke-width="0.06">CBS-seq</text>
<text x="4.00" y="444.50" font-size="12" text-anchor="start" fill="#222" stroke="#222" stroke-width="0.12">e</text>
<line x1="40.30" y1="447.90" x2="40.30" y2="588.20" stroke="#333" stroke-width="1.1" />
<line x1="40.30" y1="588.20" x2="227.40" y2="588.20" stroke="#333" stroke-width="1.1" />
<line x1="36.00" y1="588.20" x2="40.30" y2="588.20" stroke="#333" stroke-width="1" />
<text x="34.50" y="591.20" font-size="8.5" text-anchor="end" fill="#222"  stroke="#222" stroke-width="0.06">0</text>
<line x1="36.00" y1="541.43" x2="40.30" y2="541.43" stroke="#333" stroke-width="1" />
<text x="34.50" y="544.43" font-size="8.5" text-anchor="end" fill="#222"  stroke="#222" stroke-width="0.06">20</text>
<line x1="36.00" y1="494.66" x2="40.30" y2="494.66" stroke="#333" stroke-width="1" />
<text x="34.50" y="497.66" font-size="8.5" text-anchor="end" fill="#222"  stroke="#222" stroke-width="0.06">40</text>
<line x1="36.00" y1="447.89" x2="40.30" y2="447.89" stroke="#333" stroke-width="1" />
<text x="34.50" y="450.89" font-size="8.5" text-anchor="end" fill="#222"  stroke="#222" stroke-width="0.06">60</text>
<line x1="40.50" y1="588.20" x2="40.50" y2="592.50" stroke="#333" stroke-width="1" />
<text x="40.50" y="601.20" font-size="8.5" text-anchor="middle" fill="#222"  stroke="#222" stroke-width="0.06">0</text>
<line x1="76.30" y1="588.20" x2="76.30" y2="592.50" stroke="#333" stroke-width="1" />
<text x="76.30" y="601.20" font-size="8.5" text-anchor="middle" fill="#222"  stroke="#222" stroke-width="0.06">5</text>
<line x1="112.10" y1="588.20" x2="112.10" y2="592.50" stroke="#333" stroke-width="1" />
<text x="112.10" y="601.20" font-size="8.5" text-anchor="middle" fill="#222"  stroke="#222" stroke-width="0.06">10</text>
<line x1="147.90" y1="588.20" x2="147.90" y2="592.50" stroke="#333" stroke-width="1" />
<text x="147.90" y="601.20" font-size="8.5" text-anchor="middle" fill="#222"  stroke="#222" stroke-width="0.06">15</text>
<line x1="183.70" y1="588.20" x2="183.70" y2="592.50" stroke="#333" stroke-width="1" />
<text x="183.70" y="601.20" font-size="8.5" text-anchor="middle" fill="#222"  stroke="#222" stroke-width="0.06">20</text>
<line x1="219.50" y1="588.20" x2="219.50" y2="592.50" stroke="#333" stroke-width="1" />
<text x="219.50" y="601.20" font-size="8.5" text-anchor="middle" fill="#222"  stroke="#222" stroke-width="0.06">25</text>
<text transform="translate(19.1,517.3) rotate(-90)" font-size="9.5" text-anchor="middle" fill="#222">CpGs Covered (Millions)</text>
<text x="132.50" y="610.20" font-size="9.7" text-anchor="middle" fill="#222"  stroke="#222" stroke-width="0.06">Observed coverage depth</text>
<path d="M47.66,461.69 C49.10,462.58 53.58,464.65 56.32,467.07 C59.07,469.48 61.55,472.76 64.13,476.19 C66.71,479.62 69.16,483.32 71.79,487.64 C74.41,491.97 77.10,496.88 79.88,502.14 C82.66,507.40 85.54,513.37 88.47,519.21 C91.41,525.06 94.52,531.73 97.49,537.22 C100.47,542.72 103.39,547.70 106.30,552.19 C109.21,556.67 112.09,560.76 114.96,564.11 C117.84,567.47 121.05,570.23 123.56,572.30 C126.06,574.36 127.73,575.26 130.00,576.51 C132.27,577.75 134.18,578.61 137.16,579.78 C140.14,580.95 144.32,582.51 147.90,583.52 C151.48,584.54 155.06,585.26 158.64,585.86 C162.22,586.47 165.20,586.80 169.38,587.15 C173.56,587.49 177.73,587.75 183.70,587.92 C189.67,588.09 198.02,588.11 205.18,588.15 C212.34,588.20 223.08,588.19 226.66,588.20" stroke="#e5882b" stroke-width="2.4" fill="none" stroke-linecap="round"/>
<path d="M47.66,465.90 C48.91,467.42 52.79,471.63 55.18,475.02 C57.56,478.41 59.53,481.53 61.98,486.24 C64.43,490.96 67.31,497.70 69.86,503.31 C72.40,508.92 74.08,513.48 77.23,519.92 C80.38,526.35 85.38,535.74 88.76,541.90 C92.14,548.06 94.57,552.62 97.49,556.86 C100.42,561.11 103.39,564.46 106.30,567.39 C109.21,570.31 112.33,572.38 114.96,574.40 C117.60,576.43 119.02,578.03 122.12,579.55 C125.23,581.07 129.28,582.43 133.58,583.52 C137.88,584.61 143.13,585.45 147.90,586.10 C152.67,586.74 156.25,587.06 162.22,587.38 C168.19,587.70 176.54,587.88 183.70,588.01 C190.86,588.15 198.02,588.15 205.18,588.18 C212.34,588.21 223.08,588.20 226.66,588.20" stroke="#5da846" stroke-width="2.4" fill="none" stroke-linecap="round"/>
<path d="M48.16,462.39 C49.52,463.32 53.66,465.55 56.32,468.00 C58.98,470.46 61.55,473.69 64.13,477.12 C66.71,480.55 69.16,484.25 71.79,488.58 C74.41,492.91 77.10,497.86 79.88,503.08 C82.66,508.30 85.54,514.19 88.47,519.92 C91.41,525.65 94.52,532.19 97.49,537.45 C100.47,542.72 103.39,547.24 106.30,551.49 C109.21,555.73 112.09,559.67 114.96,562.94 C117.84,566.22 121.05,569.06 123.56,571.13 C126.06,573.19 127.73,574.09 130.00,575.34 C132.27,576.59 134.18,577.40 137.16,578.61 C140.14,579.82 144.32,581.50 147.90,582.59 C151.48,583.68 155.06,584.46 158.64,585.16 C162.22,585.86 165.20,586.37 169.38,586.80 C173.56,587.23 177.73,587.51 183.70,587.73 C189.67,587.95 198.02,588.03 205.18,588.11 C212.34,588.18 223.08,588.18 226.66,588.20" stroke="#327fc3" stroke-width="2.4" fill="none" stroke-linecap="round"/>
<line x1="163.60" y1="458.40" x2="175.90" y2="458.40" stroke="#327fc3" stroke-width="2" />
<text x="179.30" y="462.00" font-size="9.5" text-anchor="start" fill="#222"  stroke="#222" stroke-width="0.06">UMBS-seq</text>
<line x1="163.60" y1="470.50" x2="175.90" y2="470.50" stroke="#e5882b" stroke-width="2" />
<text x="179.30" y="474.10" font-size="9.5" text-anchor="start" fill="#222"  stroke="#222" stroke-width="0.06">EM-seq</text>
<line x1="163.60" y1="482.60" x2="175.90" y2="482.60" stroke="#5da846" stroke-width="2" />
<text x="179.30" y="486.20" font-size="9.5" text-anchor="start" fill="#222"  stroke="#222" stroke-width="0.06">CBS-seq</text>
<text x="233.90" y="444.50" font-size="12" text-anchor="start" fill="#222" stroke="#222" stroke-width="0.12">f</text>
<line x1="267.40" y1="448.50" x2="267.40" y2="588.50" stroke="#333" stroke-width="1.1" />
<line x1="267.40" y1="588.50" x2="680.00" y2="588.50" stroke="#333" stroke-width="1.1" />
<line x1="263.00" y1="588.50" x2="267.40" y2="588.50" stroke="#333" stroke-width="1" />
<text x="262.00" y="591.80" font-size="8.2" text-anchor="end" fill="#333"  stroke="#333" stroke-width="0.06">0.0</text>
<line x1="263.00" y1="541.80" x2="267.40" y2="541.80" stroke="#333" stroke-width="1" />
<text x="262.00" y="545.10" font-size="8.2" text-anchor="end" fill="#333"  stroke="#333" stroke-width="0.06">0.5</text>
<line x1="263.00" y1="495.10" x2="267.40" y2="495.10" stroke="#333" stroke-width="1" />
<text x="262.00" y="498.40" font-size="8.2" text-anchor="end" fill="#333"  stroke="#333" stroke-width="0.06">1.0</text>
<line x1="263.00" y1="448.40" x2="267.40" y2="448.40" stroke="#333" stroke-width="1" />
<text x="262.00" y="451.70" font-size="8.2" text-anchor="end" fill="#333"  stroke="#333" stroke-width="0.06">1.5</text>
<line x1="267.40" y1="588.50" x2="267.40" y2="592.80" stroke="#333" stroke-width="1" />
<text x="267.40" y="601.60" font-size="8.2" text-anchor="middle" fill="#222"  stroke="#222" stroke-width="0.06">0</text>
<line x1="349.59" y1="588.50" x2="349.59" y2="592.80" stroke="#333" stroke-width="1" />
<text x="349.59" y="601.60" font-size="8.2" text-anchor="middle" fill="#222"  stroke="#222" stroke-width="0.06">20</text>
<line x1="431.78" y1="588.50" x2="431.78" y2="592.80" stroke="#333" stroke-width="1" />
<text x="431.78" y="601.60" font-size="8.2" text-anchor="middle" fill="#222"  stroke="#222" stroke-width="0.06">40</text>
<line x1="513.97" y1="588.50" x2="513.97" y2="592.80" stroke="#333" stroke-width="1" />
<text x="513.97" y="601.60" font-size="8.2" text-anchor="middle" fill="#222"  stroke="#222" stroke-width="0.06">60</text>
<line x1="596.16" y1="588.50" x2="596.16" y2="592.80" stroke="#333" stroke-width="1" />
<text x="596.16" y="601.60" font-size="8.2" text-anchor="middle" fill="#222"  stroke="#222" stroke-width="0.06">80</text>
<line x1="678.35" y1="588.50" x2="678.35" y2="592.80" stroke="#333" stroke-width="1" />
<text x="678.35" y="601.60" font-size="8.2" text-anchor="middle" fill="#222"  stroke="#222" stroke-width="0.06">100</text>
<text transform="translate(247.1,517.3) rotate(-90)" font-size="9.5" text-anchor="middle" fill="#222">Normalized Coverage</text>
<text x="472.70" y="613.60" font-size="9.7" text-anchor="middle" fill="#222"  stroke="#222" stroke-width="0.06">GC content (%)</text>
<path d="M267.40,585.70 C268.77,585.40 272.61,584.54 275.62,583.90 C278.63,583.26 282.13,582.77 285.48,581.87 C288.84,580.98 292.02,580.03 295.76,578.53 C299.50,577.02 304.22,575.17 307.92,572.86 C311.62,570.55 314.56,567.94 317.95,564.67 C321.33,561.40 324.80,557.06 328.22,553.25 C331.65,549.44 335.07,545.51 338.49,541.80 C341.92,538.09 345.34,534.48 348.77,530.97 C352.19,527.45 355.69,523.71 359.04,520.69 C362.40,517.67 365.55,515.24 368.90,512.85 C372.26,510.45 375.75,508.02 379.18,506.31 C382.60,504.60 385.96,503.57 389.45,502.57 C392.95,501.58 396.71,501.56 400.14,500.33 C403.56,499.10 406.64,496.73 410.00,495.19 C413.36,493.65 416.85,492.28 420.27,491.08 C423.70,489.89 427.12,488.86 430.55,488.00 C433.97,487.15 437.40,486.63 440.82,485.95 C444.25,485.26 447.74,484.23 451.09,483.89 C454.45,483.55 457.60,483.55 460.96,483.89 C464.31,484.23 467.81,485.37 471.23,485.95 C474.66,486.52 478.08,486.83 481.50,487.35 C484.93,487.86 488.35,488.41 491.78,489.03 C495.20,489.65 498.70,490.23 502.05,491.08 C505.41,491.94 509.24,493.14 511.92,494.17 C514.59,495.19 515.68,495.38 518.08,497.25 C520.48,499.12 523.49,503.33 526.30,505.37 C529.11,507.41 531.64,507.15 534.93,509.48 C538.22,511.82 542.33,515.55 546.02,519.38 C549.72,523.21 553.49,528.79 557.12,532.46 C560.75,536.13 564.17,539.56 567.80,541.43 C571.43,543.29 575.20,542.20 578.90,543.67 C582.60,545.13 586.37,548.81 590.00,550.21 C593.63,551.61 597.05,550.44 600.68,552.07 C604.31,553.71 608.15,559.23 611.78,560.01 C615.41,560.79 619.58,556.92 622.46,556.74 C625.34,556.57 627.32,559.14 629.04,558.99 C630.75,558.83 630.95,555.25 632.73,555.81 C634.52,556.37 637.46,560.32 639.72,562.35 C641.98,564.37 644.10,566.32 646.30,567.95 C648.49,569.59 651.02,570.13 652.87,572.15 C654.72,574.18 654.65,578.77 657.39,580.09 C660.13,581.42 666.57,578.69 669.31,580.09 C672.05,581.50 673.08,587.10 673.83,588.50" stroke="#e5882b" stroke-width="2.0" fill="none" stroke-linejoin="round"/>
<path d="M267.40,585.70 C268.77,585.54 272.61,585.21 275.62,584.77 C278.63,584.33 283.08,583.57 285.48,583.07 C287.88,582.56 288.29,582.18 290.00,581.77 C291.71,581.36 293.84,580.92 295.76,580.59 C297.67,580.26 299.48,580.67 301.51,579.77 C303.54,578.86 306.07,576.40 307.92,575.16 C309.77,573.91 310.93,573.42 312.60,572.30 C314.28,571.18 316.23,569.66 317.95,568.42 C319.66,567.18 321.17,566.23 322.88,564.86 C324.59,563.50 325.62,564.07 328.22,560.23 C330.82,556.39 335.07,547.21 338.49,541.80 C341.92,536.39 345.34,532.77 348.77,527.79 C352.19,522.81 355.69,516.66 359.04,511.91 C362.40,507.16 365.55,502.57 368.90,499.30 C372.26,496.03 375.75,494.35 379.18,492.30 C382.60,490.24 385.96,488.38 389.45,486.97 C392.95,485.57 396.71,484.58 400.14,483.89 C403.56,483.21 406.64,483.04 410.00,482.86 C413.36,482.69 416.85,482.69 420.27,482.86 C423.70,483.04 427.12,483.38 430.55,483.89 C433.97,484.41 437.40,484.92 440.82,485.95 C444.25,486.97 447.74,488.69 451.09,490.06 C454.45,491.43 457.60,492.64 460.96,494.17 C464.31,495.69 467.81,497.34 471.23,499.21 C474.66,501.08 478.08,503.49 481.50,505.37 C484.93,507.26 488.35,509.14 491.78,510.51 C495.20,511.88 498.35,512.39 502.05,513.59 C505.75,514.79 509.93,516.18 513.97,517.70 C518.01,519.23 522.81,521.38 526.30,522.75 C529.79,524.12 531.64,524.15 534.93,525.92 C538.22,527.70 542.33,530.98 546.02,533.39 C549.72,535.81 553.49,537.97 557.12,540.40 C560.75,542.83 564.17,545.97 567.80,547.96 C571.43,549.96 575.20,550.89 578.90,552.35 C582.60,553.82 586.37,555.23 590.00,556.74 C593.63,558.25 597.05,559.95 600.68,561.41 C604.31,562.88 608.15,564.12 611.78,565.52 C615.41,566.92 619.58,569.10 622.46,569.82 C625.34,570.54 626.64,570.13 629.04,569.82 C631.43,569.51 634.65,567.75 636.84,567.95 C639.04,568.15 640.61,570.72 642.19,571.03 C643.76,571.35 644.52,569.45 646.30,569.82 C648.08,570.19 650.88,571.98 652.87,573.28 C654.86,574.57 656.02,576.50 658.21,577.57 C660.41,578.65 663.62,578.99 666.02,579.72 C668.42,580.45 670.61,580.50 672.60,581.96 C674.58,583.43 677.05,587.41 677.94,588.50" stroke="#327fc3" stroke-width="2.0" fill="none" stroke-linejoin="round"/>
<path d="M267.40,584.76 C268.08,584.45 269.80,583.41 271.51,582.90 C273.22,582.39 275.35,582.14 277.67,581.71 C280.00,581.28 283.43,580.80 285.48,580.33 C287.54,579.87 288.29,579.87 290.00,578.93 C291.71,577.99 293.70,575.81 295.76,574.69 C297.81,573.57 300.30,573.20 302.33,572.20 C304.36,571.20 306.21,570.17 307.92,568.68 C309.63,567.18 310.93,565.12 312.60,563.24 C314.28,561.36 315.34,560.90 317.95,557.40 C320.55,553.91 324.80,547.82 328.22,542.26 C331.65,536.70 335.07,529.89 338.49,524.05 C341.92,518.22 345.34,512.38 348.77,507.24 C352.19,502.10 355.69,497.12 359.04,493.23 C362.40,489.34 365.55,486.07 368.90,483.89 C372.26,481.71 375.75,481.01 379.18,480.16 C382.60,479.30 385.96,478.82 389.45,478.75 C392.95,478.69 396.71,479.16 400.14,479.78 C403.56,480.41 406.64,481.46 410.00,482.49 C413.36,483.52 415.14,484.16 420.27,485.95 C425.41,487.74 434.04,490.34 440.82,493.23 C447.60,496.13 454.18,499.93 460.96,503.32 C467.74,506.71 474.66,510.70 481.50,513.59 C488.35,516.49 496.64,518.65 502.05,520.69 C507.46,522.73 509.93,523.62 513.97,525.83 C518.01,528.04 522.81,532.07 526.30,533.95 C529.79,535.84 531.64,535.29 534.93,537.13 C538.22,538.97 542.33,542.42 546.02,544.98 C549.72,547.53 553.49,549.94 557.12,552.45 C560.75,554.95 564.17,557.83 567.80,560.01 C571.43,562.19 575.20,563.52 578.90,565.52 C582.60,567.53 586.37,570.41 590.00,572.06 C593.63,573.71 597.05,574.32 600.68,575.42 C604.31,576.53 608.15,578.15 611.78,578.69 C615.41,579.24 619.58,578.33 622.46,578.69 C625.34,579.05 626.84,580.84 629.04,580.84 C631.23,580.84 633.01,578.32 635.61,578.69 C638.21,579.07 641.43,581.81 644.65,583.08 C647.87,584.36 651.57,586.18 654.93,586.35 C658.28,586.52 662.39,584.66 664.79,584.11 C667.19,583.57 667.87,582.35 669.31,583.08 C670.75,583.81 672.73,587.60 673.42,588.50" stroke="#5da846" stroke-width="2.0" fill="none" stroke-linejoin="round"/>
<line x1="597.70" y1="452.80" x2="616.20" y2="452.80" stroke="#327fc3" stroke-width="2" />
<text x="619.50" y="456.20" font-size="8.9" text-anchor="start" fill="#222"  stroke="#222" stroke-width="0.06">UMBS-seq</text>
<line x1="597.70" y1="465.40" x2="616.20" y2="465.40" stroke="#e5882b" stroke-width="2" />
<text x="619.50" y="468.80" font-size="8.9" text-anchor="start" fill="#222"  stroke="#222" stroke-width="0.06">EM-seq</text>
<line x1="597.70" y1="478.00" x2="616.20" y2="478.00" stroke="#5da846" stroke-width="2" />
<text x="619.50" y="481.40" font-size="8.9" text-anchor="start" fill="#222"  stroke="#222" stroke-width="0.06">CBS-seq</text>
<text x="3.50" y="624.30" font-size="12" text-anchor="start" fill="#222" stroke="#222" stroke-width="0.12">g</text>
<line x1="39.80" y1="636.00" x2="39.80" y2="776.40" stroke="#333" stroke-width="1.1" />
<line x1="39.80" y1="776.40" x2="226.20" y2="776.40" stroke="#333" stroke-width="1.1" />
<line x1="35.50" y1="776.40" x2="39.80" y2="776.40" stroke="#333" stroke-width="1" />
<text x="34.50" y="779.40" font-size="8.5" text-anchor="end" fill="#222"  stroke="#222" stroke-width="0.06">0</text>
<line x1="35.50" y1="729.60" x2="39.80" y2="729.60" stroke="#333" stroke-width="1" />
<text x="34.50" y="732.60" font-size="8.5" text-anchor="end" fill="#222"  stroke="#222" stroke-width="0.06">30</text>
<line x1="35.50" y1="682.80" x2="39.80" y2="682.80" stroke="#333" stroke-width="1" />
<text x="34.50" y="685.80" font-size="8.5" text-anchor="end" fill="#222"  stroke="#222" stroke-width="0.06">60</text>
<line x1="35.50" y1="636.00" x2="39.80" y2="636.00" stroke="#333" stroke-width="1" />
<text x="34.50" y="639.00" font-size="8.5" text-anchor="end" fill="#222"  stroke="#222" stroke-width="0.06">90</text>
<text transform="translate(19.5,707.2) rotate(-90)" font-size="9.7" text-anchor="middle" fill="#222">Methylation (%)</text>
<line x1="62.10" y1="776.40" x2="62.10" y2="780.60" stroke="#333" stroke-width="1" />
<rect x="44.90" y="665.80" width="8.20" height="110.60" fill="#327fc3" stroke="#2a2a2a" stroke-width="0.9" />
<line x1="49.00" y1="664.39" x2="49.00" y2="667.20" stroke="#222" stroke-width="1" />
<line x1="46.50" y1="664.39" x2="51.50" y2="664.39" stroke="#222" stroke-width="1.1" />
<line x1="46.50" y1="667.20" x2="51.50" y2="667.20" stroke="#222" stroke-width="1.1" />
<rect x="58.00" y="661.43" width="8.20" height="114.97" fill="#e5882b" stroke="#2a2a2a" stroke-width="0.9" />
<line x1="62.10" y1="660.65" x2="62.10" y2="662.21" stroke="#222" stroke-width="1" />
<line x1="59.60" y1="660.65" x2="64.60" y2="660.65" stroke="#222" stroke-width="1.1" />
<line x1="59.60" y1="662.21" x2="64.60" y2="662.21" stroke="#222" stroke-width="1.1" />
<rect x="71.10" y="658.93" width="8.20" height="117.47" fill="#5da846" stroke="#2a2a2a" stroke-width="0.9" />
<line x1="75.20" y1="657.06" x2="75.20" y2="660.80" stroke="#222" stroke-width="1" />
<line x1="72.70" y1="657.06" x2="77.70" y2="657.06" stroke="#222" stroke-width="1.1" />
<line x1="72.70" y1="660.80" x2="77.70" y2="660.80" stroke="#222" stroke-width="1.1" />
<line x1="110.00" y1="776.40" x2="110.00" y2="780.60" stroke="#333" stroke-width="1" />
<rect x="92.80" y="669.07" width="8.20" height="107.33" fill="#327fc3" stroke="#2a2a2a" stroke-width="0.9" />
<line x1="96.90" y1="668.60" x2="96.90" y2="669.54" stroke="#222" stroke-width="1" />
<line x1="94.40" y1="668.60" x2="99.40" y2="668.60" stroke="#222" stroke-width="1.1" />
<line x1="94.40" y1="669.54" x2="99.40" y2="669.54" stroke="#222" stroke-width="1.1" />
<rect x="105.90" y="662.36" width="8.20" height="114.04" fill="#e5882b" stroke="#2a2a2a" stroke-width="0.9" />
<line x1="110.00" y1="661.43" x2="110.00" y2="663.30" stroke="#222" stroke-width="1" />
<line x1="107.50" y1="661.43" x2="112.50" y2="661.43" stroke="#222" stroke-width="1.1" />
<line x1="107.50" y1="663.30" x2="112.50" y2="663.30" stroke="#222" stroke-width="1.1" />
<rect x="119.00" y="658.93" width="8.20" height="117.47" fill="#5da846" stroke="#2a2a2a" stroke-width="0.9" />
<line x1="123.10" y1="658.46" x2="123.10" y2="659.40" stroke="#222" stroke-width="1" />
<line x1="120.60" y1="658.46" x2="125.60" y2="658.46" stroke="#222" stroke-width="1.1" />
<line x1="120.60" y1="659.40" x2="125.60" y2="659.40" stroke="#222" stroke-width="1.1" />
<line x1="158.00" y1="776.40" x2="158.00" y2="780.60" stroke="#333" stroke-width="1" />
<rect x="140.80" y="666.26" width="8.20" height="110.14" fill="#327fc3" stroke="#2a2a2a" stroke-width="0.9" />
<line x1="144.90" y1="665.80" x2="144.90" y2="666.73" stroke="#222" stroke-width="1" />
<line x1="142.40" y1="665.80" x2="147.40" y2="665.80" stroke="#222" stroke-width="1.1" />
<line x1="142.40" y1="666.73" x2="147.40" y2="666.73" stroke="#222" stroke-width="1.1" />
<rect x="153.90" y="662.68" width="8.20" height="113.72" fill="#e5882b" stroke="#2a2a2a" stroke-width="0.9" />
<line x1="158.00" y1="661.74" x2="158.00" y2="663.61" stroke="#222" stroke-width="1" />
<line x1="155.50" y1="661.74" x2="160.50" y2="661.74" stroke="#222" stroke-width="1.1" />
<line x1="155.50" y1="663.61" x2="160.50" y2="663.61" stroke="#222" stroke-width="1.1" />
<rect x="167.00" y="658.93" width="8.20" height="117.47" fill="#5da846" stroke="#2a2a2a" stroke-width="0.9" />
<line x1="171.10" y1="658.46" x2="171.10" y2="659.40" stroke="#222" stroke-width="1" />
<line x1="168.60" y1="658.46" x2="173.60" y2="658.46" stroke="#222" stroke-width="1.1" />
<line x1="168.60" y1="659.40" x2="173.60" y2="659.40" stroke="#222" stroke-width="1.1" />
<line x1="205.90" y1="776.40" x2="205.90" y2="780.60" stroke="#333" stroke-width="1" />
<rect x="188.70" y="667.20" width="8.20" height="109.20" fill="#327fc3" stroke="#2a2a2a" stroke-width="0.9" />
<line x1="192.80" y1="665.17" x2="192.80" y2="669.23" stroke="#222" stroke-width="1" />
<line x1="190.30" y1="665.17" x2="195.30" y2="665.17" stroke="#222" stroke-width="1.1" />
<line x1="190.30" y1="669.23" x2="195.30" y2="669.23" stroke="#222" stroke-width="1.1" />
<rect x="201.80" y="666.26" width="8.20" height="110.14" fill="#e5882b" stroke="#2a2a2a" stroke-width="0.9" />
<line x1="205.90" y1="664.39" x2="205.90" y2="668.14" stroke="#222" stroke-width="1" />
<line x1="203.40" y1="664.39" x2="208.40" y2="664.39" stroke="#222" stroke-width="1.1" />
<line x1="203.40" y1="668.14" x2="208.40" y2="668.14" stroke="#222" stroke-width="1.1" />
<rect x="214.90" y="658.93" width="8.20" height="117.47" fill="#5da846" stroke="#2a2a2a" stroke-width="0.9" />
<line x1="219.00" y1="658.31" x2="219.00" y2="659.56" stroke="#222" stroke-width="1" />
<line x1="216.50" y1="658.31" x2="221.50" y2="658.31" stroke="#222" stroke-width="1.1" />
<line x1="216.50" y1="659.56" x2="221.50" y2="659.56" stroke="#222" stroke-width="1.1" />
<rect x="47.40" y="622.30" width="13.30" height="4.60" fill="#327fc3" stroke="#222" stroke-width="0.9" />
<text x="64.10" y="627.60" font-size="9.5" text-anchor="start" fill="#222"  stroke="#222" stroke-width="0.06">UMBS-seq</text>
<rect x="113.90" y="622.30" width="13.30" height="4.60" fill="#e5882b" stroke="#222" stroke-width="0.9" />
<text x="130.70" y="627.60" font-size="9.5" text-anchor="start" fill="#222"  stroke="#222" stroke-width="0.06">EM-seq</text>
<rect x="168.90" y="622.30" width="13.30" height="4.60" fill="#5da846" stroke="#222" stroke-width="0.9" />
<text x="185.30" y="627.60" font-size="9.5" text-anchor="start" fill="#222"  stroke="#222" stroke-width="0.06">CBS-seq</text>
<path d="M44.90,643.50 V641.50 H79.30 V643.50" stroke="#2a2a2a" stroke-width="1.0" fill="none" />
<text x="62.10" y="638.20" font-size="6.6" text-anchor="middle" fill="#2a2a2a" font-style="italic" stroke="#2a2a2a" stroke-width="0.12">p=0.0032</text>
<path d="M58.00,652.50 V650.50 H79.30 V652.50" stroke="#2a2a2a" stroke-width="1.0" fill="none" />
<text x="68.65" y="647.40" font-size="6.6" text-anchor="middle" fill="#2a2a2a" font-style="italic" stroke="#2a2a2a" stroke-width="0.12">p=0.0032</text>
<path d="M44.90,661.50 V659.50 H66.20 V661.50" stroke="#2a2a2a" stroke-width="1.0" fill="none" />
<text x="55.55" y="656.70" font-size="6.6" text-anchor="middle" fill="#2a2a2a" font-style="italic" stroke="#2a2a2a" stroke-width="0.12">p=0.0034</text>
<path d="M92.80,643.50 V641.50 H127.20 V643.50" stroke="#2a2a2a" stroke-width="1.0" fill="none" />
<text x="110.00" y="638.20" font-size="6.6" text-anchor="middle" fill="#2a2a2a" font-style="italic" stroke="#2a2a2a" stroke-width="0.12">p=2.99e-6</text>
<path d="M105.90,652.50 V650.50 H127.20 V652.50" stroke="#2a2a2a" stroke-width="1.0" fill="none" />
<text x="116.55" y="647.40" font-size="6.6" text-anchor="middle" fill="#2a2a2a" font-style="italic" stroke="#2a2a2a" stroke-width="0.12">p=0.0006</text>
<path d="M92.80,661.50 V659.50 H114.10 V661.50" stroke="#2a2a2a" stroke-width="1.0" fill="none" />
<text x="103.45" y="656.70" font-size="6.6" text-anchor="middle" fill="#2a2a2a" font-style="italic" stroke="#2a2a2a" stroke-width="0.12">p=0.0001</text>
<path d="M140.80,643.50 V641.50 H175.20 V643.50" stroke="#2a2a2a" stroke-width="1.0" fill="none" />
<text x="158.00" y="638.20" font-size="6.6" text-anchor="middle" fill="#2a2a2a" font-style="italic" stroke="#2a2a2a" stroke-width="0.12">p=9.72e-6</text>
<path d="M153.90,652.50 V650.50 H175.20 V652.50" stroke="#2a2a2a" stroke-width="1.0" fill="none" />
<text x="164.55" y="647.40" font-size="6.6" text-anchor="middle" fill="#2a2a2a" font-style="italic" stroke="#2a2a2a" stroke-width="0.12">p=0.0002</text>
<path d="M140.80,661.50 V659.50 H162.10 V661.50" stroke="#2a2a2a" stroke-width="1.0" fill="none" />
<text x="151.45" y="656.70" font-size="6.6" text-anchor="middle" fill="#2a2a2a" font-style="italic" stroke="#2a2a2a" stroke-width="0.12">p=0.0002</text>
<path d="M188.70,643.50 V641.50 H223.10 V643.50" stroke="#2a2a2a" stroke-width="1.0" fill="none" />
<text x="205.90" y="638.20" font-size="6.6" text-anchor="middle" fill="#2a2a2a" font-style="italic" stroke="#2a2a2a" stroke-width="0.12">p=0.0008</text>
<path d="M201.80,652.50 V650.50 H223.10 V652.50" stroke="#2a2a2a" stroke-width="1.0" fill="none" />
<text x="212.45" y="647.40" font-size="6.6" text-anchor="middle" fill="#2a2a2a" font-style="italic" stroke="#2a2a2a" stroke-width="0.12">p=0.0019</text>
<path d="M188.70,661.50 V659.50 H210.00 V661.50" stroke="#2a2a2a" stroke-width="1.0" fill="none" />
<text x="199.35" y="656.70" font-size="6.6" text-anchor="middle" fill="#2a2a2a" font-style="italic" stroke="#2a2a2a" stroke-width="0.12">n.s.</text>
<text x="62.10" y="791.20" font-size="9.7" text-anchor="middle" fill="#222"  stroke="#222" stroke-width="0.06">5 ng</text>
<text x="110.00" y="791.20" font-size="9.7" text-anchor="middle" fill="#222"  stroke="#222" stroke-width="0.06">500 pg</text>
<text x="158.00" y="791.20" font-size="9.7" text-anchor="middle" fill="#222"  stroke="#222" stroke-width="0.06">50 pg</text>
<text x="205.90" y="791.20" font-size="9.7" text-anchor="middle" fill="#222"  stroke="#222" stroke-width="0.06">10 pg</text>
<text x="133.30" y="802.80" font-size="9.95" text-anchor="middle" fill="#222"  stroke="#222" stroke-width="0.06">DNA Input</text>
<text x="234.30" y="624.30" font-size="12" text-anchor="start" fill="#222" stroke="#222" stroke-width="0.12">h</text>
<line x1="269.60" y1="635.80" x2="269.60" y2="776.20" stroke="#333" stroke-width="1.1" />
<line x1="269.60" y1="776.20" x2="676.10" y2="776.20" stroke="#333" stroke-width="1.1" />
<line x1="264.10" y1="776.20" x2="269.60" y2="776.20" stroke="#333" stroke-width="1" />
<text x="262.70" y="779.20" font-size="8.2" text-anchor="end" fill="#333"  stroke="#333" stroke-width="0.06">0</text>
<line x1="264.10" y1="729.40" x2="269.60" y2="729.40" stroke="#333" stroke-width="1" />
<text x="262.70" y="732.40" font-size="8.2" text-anchor="end" fill="#333"  stroke="#333" stroke-width="0.06">200</text>
<line x1="264.10" y1="682.60" x2="269.60" y2="682.60" stroke="#333" stroke-width="1" />
<text x="262.70" y="685.60" font-size="8.2" text-anchor="end" fill="#333"  stroke="#333" stroke-width="0.06">400</text>
<line x1="264.10" y1="635.80" x2="269.60" y2="635.80" stroke="#333" stroke-width="1" />
<text x="262.70" y="638.80" font-size="8.2" text-anchor="end" fill="#333"  stroke="#333" stroke-width="0.06">600</text>
<line x1="269.40" y1="776.20" x2="269.40" y2="780.40" stroke="#333" stroke-width="1" />
<text x="269.40" y="789.20" font-size="8.2" text-anchor="middle" fill="#222"  stroke="#222" stroke-width="0.06">0</text>
<line x1="323.55" y1="776.20" x2="323.55" y2="780.40" stroke="#333" stroke-width="1" />
<text x="323.55" y="789.20" font-size="8.2" text-anchor="middle" fill="#222"  stroke="#222" stroke-width="0.06">10</text>
<line x1="377.70" y1="776.20" x2="377.70" y2="780.40" stroke="#333" stroke-width="1" />
<text x="377.70" y="789.20" font-size="8.2" text-anchor="middle" fill="#222"  stroke="#222" stroke-width="0.06">20</text>
<line x1="431.85" y1="776.20" x2="431.85" y2="780.40" stroke="#333" stroke-width="1" />
<text x="431.85" y="789.20" font-size="8.2" text-anchor="middle" fill="#222"  stroke="#222" stroke-width="0.06">30</text>
<line x1="486.00" y1="776.20" x2="486.00" y2="780.40" stroke="#333" stroke-width="1" />
<text x="486.00" y="789.20" font-size="8.2" text-anchor="middle" fill="#222"  stroke="#222" stroke-width="0.06">40</text>
<line x1="540.15" y1="776.20" x2="540.15" y2="780.40" stroke="#333" stroke-width="1" />
<text x="540.15" y="789.20" font-size="8.2" text-anchor="middle" fill="#222"  stroke="#222" stroke-width="0.06">50</text>
<line x1="594.30" y1="776.20" x2="594.30" y2="780.40" stroke="#333" stroke-width="1" />
<text x="594.30" y="789.20" font-size="8.2" text-anchor="middle" fill="#222"  stroke="#222" stroke-width="0.06">60</text>
<line x1="648.45" y1="776.20" x2="648.45" y2="780.40" stroke="#333" stroke-width="1" />
<text x="648.45" y="789.20" font-size="8.2" text-anchor="middle" fill="#222"  stroke="#222" stroke-width="0.06">70</text>
<text transform="translate(247.1,706.5) rotate(-90)" font-size="9.5" text-anchor="middle" fill="#222">Depth of CpG coverage</text>
<text x="471.30" y="797.90" font-size="9.5" text-anchor="middle" fill="#222"  stroke="#222" stroke-width="0.06">Genes</text>
<path d="M274.81,741.80 L280.23,729.63 L285.64,737.36 L291.06,743.91 L296.47,741.80 L301.89,737.36 L307.30,740.63 L312.72,757.01 L318.13,737.36 L323.55,741.80 L328.96,728.46 L334.38,735.02 L339.79,746.01 L345.21,725.19 L350.62,737.36 L356.04,743.91 L361.45,737.36 L366.87,741.80 L372.28,725.19 L377.70,743.91 L383.12,741.80 L388.53,745.08 L393.94,755.84 L399.36,730.80 L404.77,754.91 L410.19,751.63 L415.61,726.36 L421.02,736.42 L426.43,744.38 L431.85,736.65 L437.26,738.29 L442.68,742.50 L448.09,746.95 L453.51,735.02 L458.92,739.93 L464.34,758.18 L469.75,739.23 L475.17,739.23 L480.58,746.01 L486.00,751.16 L491.41,758.18 L496.83,749.52 L502.25,748.59 L507.66,726.12 L513.08,728.70 L518.49,721.68 L523.90,744.38 L529.32,739.23 L534.73,719.10 L540.15,746.01 L545.57,746.01 L550.98,747.89 L556.39,725.19 L561.81,732.21 L567.22,747.89 L572.64,737.36 L578.06,733.14 L583.47,732.68 L588.88,732.21 L594.30,753.97 L599.71,744.38 L605.13,736.42 L610.54,751.40 L615.96,748.59 L621.38,745.31 L626.79,734.78 L632.20,749.52 L637.62,755.61 L643.03,739.23 L648.45,730.34 L653.87,751.40 L659.28,732.21 L664.69,728.70 L670.11,732.21 L675.52,754.91" stroke="#5da846" stroke-width="1.6" fill="none" stroke-linejoin="round"/>
<path d="M274.81,749.29 L280.23,736.19 L285.64,746.01 L291.06,750.46 L296.47,751.40 L301.89,743.91 L307.30,737.36 L312.72,757.01 L318.13,737.36 L323.55,743.91 L328.96,734.08 L334.38,737.36 L339.79,753.74 L345.21,735.02 L350.62,741.80 L356.04,745.08 L361.45,739.46 L366.87,743.91 L372.28,728.46 L377.70,745.08 L383.12,746.01 L388.53,751.40 L393.94,759.12 L399.36,741.80 L404.77,761.46 L410.19,757.01 L415.61,730.80 L421.02,743.91 L426.43,749.52 L431.85,744.38 L437.26,746.95 L442.68,749.52 L448.09,753.74 L453.51,740.87 L458.92,742.50 L464.34,760.05 L469.75,742.50 L475.17,745.08 L480.58,749.52 L486.00,752.10 L491.41,759.12 L496.83,751.16 L502.25,752.10 L507.66,733.14 L513.08,733.14 L518.49,725.19 L523.90,753.97 L529.32,744.38 L534.73,721.68 L540.15,750.46 L545.57,747.89 L550.98,753.97 L556.39,733.14 L561.81,737.36 L567.22,750.46 L572.64,742.50 L578.06,739.23 L583.47,739.93 L588.88,739.93 L594.30,756.54 L599.71,746.01 L605.13,739.93 L610.54,753.97 L615.96,751.40 L621.38,749.52 L626.79,742.50 L632.20,753.03 L637.62,759.12 L643.03,742.50 L648.45,739.93 L653.87,753.03 L659.28,738.29 L664.69,738.29 L670.11,744.38 L675.52,760.99" stroke="#5da846" stroke-width="1.6" fill="none" stroke-linejoin="round"/>
<path d="M274.81,712.08 L280.23,721.91 L285.64,714.19 L291.06,713.25 L296.47,718.64 L301.89,687.98 L307.30,739.46 L312.72,737.36 L318.13,695.70 L323.55,701.32 L328.96,702.26 L334.38,693.60 L339.79,699.92 L345.21,714.19 L350.62,692.43 L356.04,704.36 L361.45,697.81 L366.87,707.64 L372.28,704.36 L377.70,713.25 L383.12,726.36 L388.53,718.64 L393.94,719.81 L399.36,709.98 L404.77,714.19 L410.19,702.26 L415.61,694.53 L421.02,704.60 L426.43,706.70 L431.85,706.70 L437.26,695.70 L442.68,729.63 L448.09,726.36 L453.51,700.15 L458.92,706.70 L464.34,735.25 L469.75,715.36 L475.17,693.60 L480.58,708.81 L486.00,702.26 L491.41,741.80 L496.83,716.53 L502.25,741.80 L507.66,696.64 L513.08,701.79 L518.49,720.04 L523.90,720.04 L529.32,717.47 L534.73,702.72 L540.15,706.94 L545.57,690.56 L550.98,706.00 L556.39,699.21 L561.81,700.85 L567.22,707.87 L572.64,709.51 L578.06,697.34 L583.47,702.26 L588.88,696.64 L594.30,725.19 L599.71,712.08 L605.13,703.43 L610.54,725.19 L615.96,702.72 L621.38,692.19 L626.79,693.83 L632.20,713.02 L637.62,725.19 L643.03,689.62 L648.45,709.51 L653.87,715.59 L659.28,699.92 L664.69,699.21 L670.11,699.92 L675.52,732.21" stroke="#e5882b" stroke-width="1.6" fill="none" stroke-linejoin="round"/>
<path d="M274.81,719.81 L280.23,730.80 L285.64,720.98 L291.06,724.25 L296.47,719.81 L301.89,699.92 L307.30,742.74 L312.72,741.80 L318.13,702.26 L323.55,708.81 L328.96,717.70 L334.38,706.70 L339.79,707.64 L345.21,715.36 L350.62,705.53 L356.04,716.53 L361.45,705.53 L366.87,717.70 L372.28,713.25 L377.70,715.36 L383.12,740.63 L388.53,731.74 L393.94,735.02 L399.36,723.08 L404.77,727.53 L410.19,714.42 L415.61,700.15 L421.02,712.08 L426.43,715.36 L431.85,716.53 L437.26,707.87 L442.68,734.08 L448.09,729.63 L453.51,702.26 L458.92,708.81 L464.34,738.53 L469.75,722.15 L475.17,701.32 L480.58,713.25 L486.00,708.81 L491.41,746.25 L496.83,719.81 L502.25,741.80 L507.66,703.43 L513.08,711.38 L518.49,731.27 L523.90,725.19 L529.32,722.61 L534.73,711.38 L540.15,719.10 L545.57,709.51 L550.98,719.10 L556.39,713.02 L561.81,706.94 L567.22,718.17 L572.64,714.89 L578.06,700.85 L583.47,710.45 L588.88,703.43 L594.30,736.42 L599.71,720.98 L605.13,713.02 L610.54,733.14 L615.96,716.53 L621.38,704.36 L626.79,707.87 L632.20,720.04 L637.62,732.21 L643.03,706.94 L648.45,715.59 L653.87,725.19 L659.28,707.87 L664.69,704.36 L670.11,702.72 L675.52,739.93" stroke="#e5882b" stroke-width="1.6" fill="none" stroke-linejoin="round"/>
<path d="M274.81,687.51 L280.23,701.32 L285.64,689.15 L291.06,693.60 L296.47,704.36 L301.89,662.48 L307.30,732.91 L312.72,721.91 L318.13,667.16 L323.55,680.03 L328.96,674.88 L334.38,670.43 L339.79,684.71 L345.21,687.98 L350.62,667.16 L356.04,686.81 L361.45,676.05 L366.87,674.88 L372.28,678.15 L377.70,699.92 L383.12,714.19 L388.53,699.92 L393.94,718.64 L399.36,690.09 L404.77,694.53 L410.19,682.60 L415.61,706.70 L421.02,682.60 L426.43,692.43 L431.85,689.15 L437.26,681.43 L442.68,709.98 L448.09,711.15 L453.51,669.50 L458.92,676.98 L464.34,714.42 L469.75,706.70 L475.17,671.60 L480.58,682.60 L486.00,679.32 L491.41,732.91 L496.83,701.32 L502.25,738.53 L507.66,669.50 L513.08,674.88 L518.49,711.38 L523.90,700.85 L529.32,690.56 L534.73,661.77 L540.15,682.60 L545.57,672.07 L550.98,684.47 L556.39,673.01 L561.81,668.79 L567.22,687.05 L572.64,680.96 L578.06,660.84 L583.47,673.94 L588.88,674.88 L594.30,716.53 L599.71,700.85 L605.13,683.54 L610.54,701.79 L615.96,686.11 L621.38,680.03 L626.79,662.71 L632.20,693.83 L637.62,702.72 L643.03,672.07 L648.45,685.17 L653.87,697.34 L659.28,670.43 L664.69,667.86 L670.11,672.07 L675.52,720.98" stroke="#327fc3" stroke-width="1.6" fill="none" stroke-linejoin="round"/>
<path d="M274.81,695.70 L280.23,701.32 L285.64,694.53 L291.06,697.34 L296.47,704.36 L301.89,681.43 L307.30,737.36 L312.72,726.36 L318.13,680.49 L323.55,689.15 L328.96,683.54 L334.38,676.98 L339.79,695.70 L345.21,686.81 L350.62,685.88 L356.04,697.81 L361.45,690.09 L366.87,691.26 L372.28,684.71 L377.70,705.53 L383.12,715.36 L388.53,702.26 L393.94,717.70 L399.36,697.81 L404.77,704.36 L410.19,690.32 L415.61,714.42 L421.02,695.70 L426.43,695.70 L431.85,700.15 L437.26,692.43 L442.68,715.36 L448.09,713.25 L453.51,680.26 L458.92,682.60 L464.34,726.36 L469.75,717.70 L475.17,684.71 L480.58,690.32 L486.00,693.60 L491.41,737.36 L496.83,705.53 L502.25,741.80 L507.66,676.52 L513.08,685.17 L518.49,717.47 L523.90,708.81 L529.32,697.34 L534.73,670.43 L540.15,699.92 L545.57,688.68 L550.98,693.83 L556.39,683.54 L561.81,681.66 L567.22,702.72 L572.64,693.83 L578.06,673.01 L583.47,688.22 L588.88,687.05 L594.30,720.04 L599.71,709.51 L605.13,690.56 L610.54,712.08 L615.96,699.21 L621.38,691.26 L626.79,680.03 L632.20,704.36 L637.62,714.89 L643.03,677.45 L648.45,692.19 L653.87,702.72 L659.28,679.09 L664.69,676.52 L670.11,677.45 L675.52,721.68" stroke="#327fc3" stroke-width="1.6" fill="none" stroke-linejoin="round"/>
<line x1="276.30" y1="640.90" x2="290.40" y2="640.90" stroke="#327fc3" stroke-width="1.8" />
<text x="294.50" y="644.30" font-size="9.5" text-anchor="start" fill="#222"  stroke="#222" stroke-width="0.06">UMBS-seq</text>
<line x1="349.20" y1="640.90" x2="362.60" y2="640.90" stroke="#e5882b" stroke-width="1.8" />
<text x="367.00" y="644.30" font-size="9.5" text-anchor="start" fill="#222"  stroke="#222" stroke-width="0.06">EM-seq</text>
<line x1="407.30" y1="640.90" x2="421.40" y2="640.90" stroke="#5da846" stroke-width="1.8" />
<text x="426.40" y="644.30" font-size="9.5" text-anchor="start" fill="#222"  stroke="#222" stroke-width="0.06">CBS-seq</text>
</svg></body></html>
